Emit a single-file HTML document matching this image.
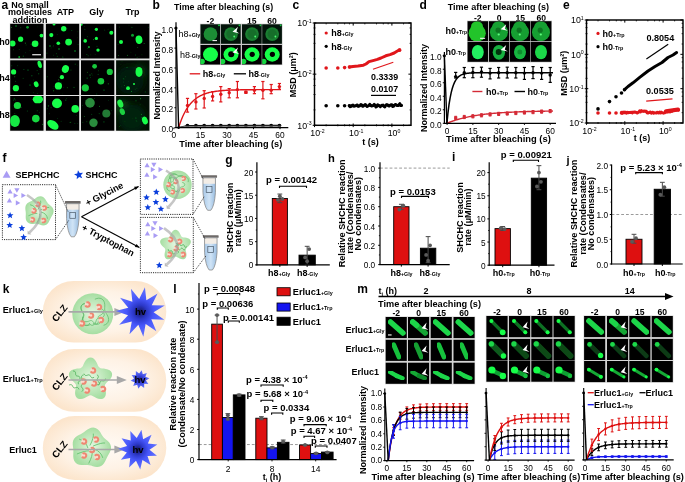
<!DOCTYPE html>
<html><head><meta charset="utf-8"><style>
html,body{margin:0;padding:0;background:#fff;}
body{width:685px;height:482px;overflow:hidden;}
svg{display:block;font-family:"Liberation Sans", sans-serif;will-change:transform;}
</style></head><body>
<svg width="685" height="482" viewBox="0 0 685 482" font-family='"Liberation Sans", sans-serif'>
<defs>
<filter id="blur" x="-20%" y="-20%" width="140%" height="140%"><feGaussianBlur stdDeviation="0.45"/></filter>
<filter id="blur2" x="-50%" y="-50%" width="200%" height="200%"><feGaussianBlur stdDeviation="3"/></filter>
<filter id="blur1" x="-50%" y="-50%" width="200%" height="200%"><feGaussianBlur stdDeviation="1.2"/></filter>
</defs>
<rect width="685" height="482" fill="#fff"/>
<text x="1.50" y="8.80" font-size="12" font-weight="bold" text-anchor="start" fill="#000">a</text>
<text x="30.00" y="8.00" font-size="9" font-weight="bold" text-anchor="middle" fill="#000">No small</text>
<text x="30.00" y="14.80" font-size="9" font-weight="bold" text-anchor="middle" fill="#000">molecules</text>
<text x="30.00" y="22.90" font-size="9" font-weight="bold" text-anchor="middle" fill="#000">addition</text>
<text x="65.30" y="14.80" font-size="9" font-weight="bold" text-anchor="middle" fill="#000">ATP</text>
<text x="96.50" y="14.80" font-size="9" font-weight="bold" text-anchor="middle" fill="#000">Gly</text>
<text x="132.50" y="14.80" font-size="9" font-weight="bold" text-anchor="middle" fill="#000">Trp</text>
<rect x="9.60" y="23.20" width="140.40" height="108.00" fill="#e4e4e4"/>
<clipPath id="c1"><rect x="10.20" y="23.80" width="33.30" height="34.70"/></clipPath>
<rect x="10.20" y="23.80" width="33.30" height="34.70" fill="#000"/>
<g clip-path="url(#c1)">
<g filter="url(#blur)">
<circle cx="25.36" cy="43.10" r="0.58" fill="#0e7a22"/>
<circle cx="25.34" cy="52.76" r="0.40" fill="#0a4a14"/>
<circle cx="26.09" cy="44.88" r="0.40" fill="#0e7a22"/>
<circle cx="20.70" cy="27.76" r="0.55" fill="#0a4a14"/>
<circle cx="31.06" cy="44.27" r="0.45" fill="#0e7a22"/>
<circle cx="31.67" cy="44.93" r="0.39" fill="#0b5a18"/>
<circle cx="37.23" cy="26.87" r="0.36" fill="#0b5a18"/>
<circle cx="29.97" cy="50.24" r="0.43" fill="#0a4a14"/>
<circle cx="37.57" cy="41.78" r="0.51" fill="#0e7a22"/>
<circle cx="11.34" cy="27.58" r="0.51" fill="#0e7a22"/>
<circle cx="42.43" cy="57.36" r="0.56" fill="#0a4a14"/>
<circle cx="19.15" cy="49.59" r="0.48" fill="#0b5a18"/>
<circle cx="13.40" cy="49.86" r="0.45" fill="#0e7a22"/>
<circle cx="23.30" cy="56.13" r="0.56" fill="#0b5a18"/>
<circle cx="12.50" cy="43.40" r="3.00" fill="#19ff4a"/>
<circle cx="20.60" cy="39.20" r="2.60" fill="#19ff4a"/>
<circle cx="35.10" cy="43.70" r="3.30" fill="#19ff4a"/>
<circle cx="41.50" cy="35.60" r="1.90" fill="#19ff4a"/>
<circle cx="27.50" cy="27.30" r="1.40" fill="#0a9a2a"/>
<circle cx="19.20" cy="56.90" r="1.00" fill="#0a9a2a"/>
<circle cx="16.00" cy="26.00" r="0.80" fill="#0a9a2a"/>
</g></g>
<clipPath id="c2"><rect x="45.90" y="23.80" width="33.30" height="34.70"/></clipPath>
<rect x="45.90" y="23.80" width="33.30" height="34.70" fill="#000"/>
<g clip-path="url(#c2)">
<g filter="url(#blur)">
<circle cx="53.58" cy="55.11" r="0.36" fill="#0e7a22"/>
<circle cx="77.59" cy="37.80" r="0.37" fill="#0a4a14"/>
<circle cx="53.11" cy="46.87" r="0.43" fill="#0e7a22"/>
<circle cx="57.31" cy="56.33" r="0.54" fill="#0b5a18"/>
<circle cx="51.11" cy="47.92" r="0.35" fill="#0e7a22"/>
<circle cx="71.85" cy="30.61" r="0.49" fill="#0e7a22"/>
<circle cx="62.83" cy="57.02" r="0.54" fill="#0e7a22"/>
<circle cx="67.05" cy="28.61" r="0.46" fill="#0b5a18"/>
<circle cx="46.91" cy="53.06" r="0.59" fill="#0a4a14"/>
<circle cx="56.42" cy="53.74" r="0.40" fill="#0e7a22"/>
<circle cx="78.07" cy="44.49" r="0.49" fill="#0b5a18"/>
<circle cx="77.87" cy="31.77" r="0.41" fill="#0a4a14"/>
<circle cx="57.20" cy="34.49" r="0.37" fill="#0b5a18"/>
<circle cx="53.43" cy="45.62" r="0.35" fill="#0e7a22"/>
<circle cx="63.70" cy="28.70" r="2.70" fill="#19ff4a"/>
<circle cx="51.30" cy="35.10" r="2.10" fill="#19ff4a"/>
<circle cx="68.60" cy="42.10" r="3.40" fill="#19ff4a"/>
<circle cx="58.30" cy="43.20" r="1.80" fill="#19ff4a"/>
<circle cx="54.00" cy="24.00" r="1.50" fill="#19ff4a"/>
<circle cx="59.00" cy="49.00" r="0.80" fill="#0a9a2a"/>
<circle cx="75.00" cy="51.00" r="0.80" fill="#0a9a2a"/>
<circle cx="50.00" cy="46.00" r="0.80" fill="#0a9a2a"/>
</g></g>
<clipPath id="c3"><rect x="81.00" y="23.80" width="33.30" height="34.70"/></clipPath>
<rect x="81.00" y="23.80" width="33.30" height="34.70" fill="#000"/>
<g clip-path="url(#c3)">
<g filter="url(#blur)">
<circle cx="93.63" cy="39.62" r="0.59" fill="#0e7a22"/>
<circle cx="108.05" cy="29.24" r="0.45" fill="#0a4a14"/>
<circle cx="86.82" cy="54.51" r="0.55" fill="#0b5a18"/>
<circle cx="104.70" cy="29.98" r="0.51" fill="#0a4a14"/>
<circle cx="88.15" cy="55.87" r="0.57" fill="#0a4a14"/>
<circle cx="84.46" cy="26.35" r="0.38" fill="#0a4a14"/>
<circle cx="112.13" cy="32.60" r="0.53" fill="#0e7a22"/>
<circle cx="95.17" cy="54.39" r="0.47" fill="#0a4a14"/>
<circle cx="87.49" cy="48.36" r="0.37" fill="#0b5a18"/>
<circle cx="97.00" cy="46.17" r="0.50" fill="#0b5a18"/>
<circle cx="90.77" cy="54.80" r="0.40" fill="#0b5a18"/>
<circle cx="84.16" cy="38.25" r="0.41" fill="#0b5a18"/>
<circle cx="87.52" cy="36.86" r="0.49" fill="#0b5a18"/>
<circle cx="84.89" cy="29.33" r="0.46" fill="#0e7a22"/>
<circle cx="96.40" cy="29.30" r="1.60" fill="#19ff4a"/>
<circle cx="111.30" cy="32.80" r="2.00" fill="#19ff4a"/>
<circle cx="96.40" cy="38.40" r="1.60" fill="#19ff4a"/>
<circle cx="85.20" cy="40.90" r="1.80" fill="#19ff4a"/>
<circle cx="88.90" cy="47.10" r="1.10" fill="#0a9a2a"/>
<circle cx="98.00" cy="50.10" r="1.70" fill="#19ff4a"/>
<circle cx="81.40" cy="24.60" r="1.20" fill="#19ff4a"/>
</g></g>
<clipPath id="c4"><rect x="116.10" y="23.80" width="33.30" height="34.70"/></clipPath>
<rect x="116.10" y="23.80" width="33.30" height="34.70" fill="#000"/>
<g clip-path="url(#c4)">
<g filter="url(#blur)">
<circle cx="137.66" cy="47.40" r="0.50" fill="#0b5a18"/>
<circle cx="135.56" cy="55.00" r="0.47" fill="#0e7a22"/>
<circle cx="139.04" cy="56.28" r="0.36" fill="#0a4a14"/>
<circle cx="119.44" cy="27.00" r="0.43" fill="#0b5a18"/>
<circle cx="148.38" cy="27.26" r="0.49" fill="#0a4a14"/>
<circle cx="118.49" cy="55.42" r="0.53" fill="#0b5a18"/>
<circle cx="141.93" cy="54.72" r="0.44" fill="#0a4a14"/>
<circle cx="131.91" cy="27.34" r="0.56" fill="#0b5a18"/>
<circle cx="144.13" cy="43.53" r="0.51" fill="#0e7a22"/>
<circle cx="128.97" cy="25.21" r="0.37" fill="#0b5a18"/>
<circle cx="137.11" cy="57.28" r="0.57" fill="#0a4a14"/>
<circle cx="127.43" cy="55.35" r="0.52" fill="#0e7a22"/>
<circle cx="130.89" cy="52.21" r="0.37" fill="#0a4a14"/>
<circle cx="118.03" cy="44.46" r="0.47" fill="#0b5a18"/>
<circle cx="121.00" cy="42.10" r="2.00" fill="#19ff4a"/>
<circle cx="132.50" cy="35.20" r="1.50" fill="#0a9a2a"/>
<ellipse cx="139.00" cy="39.70" rx="3.40" ry="4.30" fill="#19ff4a" transform="rotate(-10 139.00 39.70)"/>
</g></g>
<clipPath id="c5"><rect x="10.20" y="60.30" width="33.30" height="34.70"/></clipPath>
<rect x="10.20" y="60.30" width="33.30" height="34.70" fill="#000"/>
<g clip-path="url(#c5)">
<g filter="url(#blur)">
<circle cx="41.17" cy="64.99" r="0.54" fill="#0a4a14"/>
<circle cx="40.01" cy="69.67" r="0.35" fill="#0e7a22"/>
<circle cx="15.68" cy="81.30" r="0.48" fill="#0e7a22"/>
<circle cx="31.86" cy="75.75" r="0.57" fill="#0e7a22"/>
<circle cx="23.87" cy="69.49" r="0.51" fill="#0b5a18"/>
<circle cx="38.75" cy="73.87" r="0.50" fill="#0e7a22"/>
<circle cx="17.77" cy="65.70" r="0.44" fill="#0b5a18"/>
<circle cx="33.46" cy="92.37" r="0.42" fill="#0b5a18"/>
<circle cx="14.73" cy="76.71" r="0.58" fill="#0e7a22"/>
<circle cx="23.17" cy="78.30" r="0.52" fill="#0a4a14"/>
<circle cx="37.46" cy="93.41" r="0.46" fill="#0b5a18"/>
<circle cx="37.14" cy="70.39" r="0.50" fill="#0a4a14"/>
<circle cx="33.38" cy="79.96" r="0.43" fill="#0a4a14"/>
<circle cx="11.80" cy="65.74" r="0.46" fill="#0b5a18"/>
<circle cx="13.60" cy="71.90" r="2.60" fill="#19ff4a"/>
<ellipse cx="39.70" cy="64.40" rx="2.00" ry="3.80" fill="#19ff4a" transform="rotate(-15 39.70 64.40)"/>
<circle cx="15.90" cy="88.20" r="3.10" fill="#19ff4a"/>
<ellipse cx="36.20" cy="84.30" rx="2.30" ry="3.00" fill="#19ff4a" transform="rotate(-20 36.20 84.30)"/>
<circle cx="28.00" cy="70.00" r="0.60" fill="#0a9a2a"/>
<circle cx="30.00" cy="85.00" r="0.60" fill="#0a9a2a"/>
</g></g>
<clipPath id="c6"><rect x="45.90" y="60.30" width="33.30" height="34.70"/></clipPath>
<rect x="45.90" y="60.30" width="33.30" height="34.70" fill="#000"/>
<g clip-path="url(#c6)">
<g filter="url(#blur)">
<circle cx="70.98" cy="70.01" r="0.54" fill="#0b5a18"/>
<circle cx="77.70" cy="65.07" r="0.38" fill="#0a4a14"/>
<circle cx="67.40" cy="87.70" r="0.59" fill="#0a4a14"/>
<circle cx="53.10" cy="88.24" r="0.41" fill="#0a4a14"/>
<circle cx="47.24" cy="76.74" r="0.53" fill="#0b5a18"/>
<circle cx="53.99" cy="86.76" r="0.48" fill="#0a4a14"/>
<circle cx="62.56" cy="93.90" r="0.39" fill="#0a4a14"/>
<circle cx="75.27" cy="64.15" r="0.58" fill="#0a4a14"/>
<circle cx="59.04" cy="76.03" r="0.40" fill="#0b5a18"/>
<circle cx="58.69" cy="79.90" r="0.57" fill="#0e7a22"/>
<circle cx="61.41" cy="82.60" r="0.40" fill="#0a4a14"/>
<circle cx="74.01" cy="87.40" r="0.58" fill="#0b5a18"/>
<circle cx="53.58" cy="90.73" r="0.60" fill="#0e7a22"/>
<circle cx="63.71" cy="87.16" r="0.43" fill="#0a4a14"/>
<ellipse cx="65.40" cy="69.00" rx="3.50" ry="4.00" fill="#19ff4a" transform="rotate(20 65.40 69.00)"/>
<circle cx="61.90" cy="77.20" r="2.10" fill="#19ff4a"/>
<circle cx="58.40" cy="85.90" r="3.60" fill="#19ff4a"/>
</g></g>
<clipPath id="c7"><rect x="81.00" y="60.30" width="33.30" height="34.70"/></clipPath>
<rect x="81.00" y="60.30" width="33.30" height="34.70" fill="#000"/>
<g clip-path="url(#c7)">
<g filter="url(#blur)">
<circle cx="108.79" cy="72.70" r="0.37" fill="#0e7a22"/>
<circle cx="92.71" cy="75.08" r="0.42" fill="#0b5a18"/>
<circle cx="88.83" cy="89.67" r="0.46" fill="#0b5a18"/>
<circle cx="87.41" cy="72.25" r="0.55" fill="#0b5a18"/>
<circle cx="96.73" cy="93.99" r="0.58" fill="#0a4a14"/>
<circle cx="108.29" cy="83.84" r="0.59" fill="#0e7a22"/>
<circle cx="100.12" cy="83.83" r="0.54" fill="#0e7a22"/>
<circle cx="98.48" cy="70.79" r="0.53" fill="#0a4a14"/>
<circle cx="87.14" cy="78.11" r="0.58" fill="#0e7a22"/>
<circle cx="91.76" cy="73.77" r="0.56" fill="#0a4a14"/>
<circle cx="88.52" cy="89.12" r="0.59" fill="#0a4a14"/>
<circle cx="90.54" cy="77.57" r="0.45" fill="#0b5a18"/>
<circle cx="97.75" cy="81.09" r="0.36" fill="#0b5a18"/>
<circle cx="98.15" cy="74.40" r="0.55" fill="#0a4a14"/>
<circle cx="94.60" cy="66.30" r="2.40" fill="#17c83a"/>
<circle cx="109.80" cy="71.90" r="3.10" fill="#17c83a"/>
<circle cx="100.90" cy="81.20" r="3.30" fill="#17c83a"/>
<circle cx="85.30" cy="87.80" r="3.60" fill="#17c83a"/>
<circle cx="90.00" cy="75.00" r="0.60" fill="#0a9a2a"/>
<circle cx="104.00" cy="90.00" r="0.60" fill="#0a9a2a"/>
</g></g>
<clipPath id="c8"><rect x="116.10" y="60.30" width="33.30" height="34.70"/></clipPath>
<rect x="116.10" y="60.30" width="33.30" height="34.70" fill="#020e04"/>
<g clip-path="url(#c8)">
<ellipse cx="139.00" cy="72.00" rx="7.00" ry="7.00" fill="#0a3a12" filter="url(#blur2)"/>
<ellipse cx="130.00" cy="80.00" rx="14.00" ry="14.00" fill="#041e09" filter="url(#blur2)"/>
<g filter="url(#blur)">
<circle cx="120.92" cy="64.35" r="0.39" fill="#0a4a14"/>
<circle cx="131.46" cy="91.41" r="0.55" fill="#0e7a22"/>
<circle cx="125.53" cy="76.77" r="0.38" fill="#0e7a22"/>
<circle cx="145.30" cy="91.90" r="0.58" fill="#0a4a14"/>
<circle cx="127.03" cy="67.56" r="0.50" fill="#0e7a22"/>
<circle cx="121.15" cy="86.78" r="0.36" fill="#0b5a18"/>
<circle cx="121.97" cy="61.69" r="0.42" fill="#0a4a14"/>
<circle cx="128.22" cy="81.57" r="0.38" fill="#0a4a14"/>
<circle cx="135.32" cy="89.16" r="0.51" fill="#0a4a14"/>
<circle cx="123.29" cy="78.64" r="0.46" fill="#0e7a22"/>
<circle cx="136.91" cy="88.28" r="0.50" fill="#0a4a14"/>
<circle cx="123.49" cy="81.94" r="0.51" fill="#0a4a14"/>
<circle cx="123.87" cy="79.05" r="0.50" fill="#0b5a18"/>
<circle cx="124.38" cy="85.52" r="0.55" fill="#0b5a18"/>
<ellipse cx="139.00" cy="71.90" rx="3.50" ry="5.00" fill="#19ff4a" transform="rotate(0 139.00 71.90)"/>
<circle cx="128.00" cy="88.20" r="1.90" fill="#19ff4a"/>
<circle cx="134.00" cy="84.00" r="1.00" fill="#19ff4a"/>
</g></g>
<clipPath id="c9"><rect x="10.20" y="96.00" width="33.30" height="34.70"/></clipPath>
<rect x="10.20" y="96.00" width="33.30" height="34.70" fill="#000"/>
<g clip-path="url(#c9)">
<g filter="url(#blur)">
<circle cx="21.09" cy="107.30" r="0.58" fill="#0b5a18"/>
<circle cx="35.56" cy="103.36" r="0.37" fill="#0b5a18"/>
<circle cx="15.35" cy="99.88" r="0.45" fill="#0e7a22"/>
<circle cx="37.25" cy="110.79" r="0.55" fill="#0b5a18"/>
<circle cx="17.48" cy="117.54" r="0.55" fill="#0b5a18"/>
<circle cx="17.49" cy="119.31" r="0.58" fill="#0e7a22"/>
<circle cx="14.81" cy="113.54" r="0.54" fill="#0a4a14"/>
<circle cx="42.46" cy="124.24" r="0.55" fill="#0e7a22"/>
<circle cx="14.52" cy="98.22" r="0.49" fill="#0a4a14"/>
<circle cx="39.53" cy="112.74" r="0.40" fill="#0b5a18"/>
<circle cx="17.58" cy="124.48" r="0.60" fill="#0a4a14"/>
<circle cx="14.18" cy="99.03" r="0.59" fill="#0e7a22"/>
<circle cx="13.63" cy="100.16" r="0.45" fill="#0e7a22"/>
<circle cx="27.33" cy="111.06" r="0.50" fill="#0b5a18"/>
<circle cx="17.40" cy="105.50" r="3.60" fill="#18d840"/>
<ellipse cx="37.90" cy="99.30" rx="5.20" ry="4.00" fill="#19ff4a" transform="rotate(0 37.90 99.30)"/>
<ellipse cx="14.90" cy="121.10" rx="5.00" ry="6.00" fill="#18e844" transform="rotate(0 14.90 121.10)"/>
<circle cx="35.80" cy="118.60" r="3.80" fill="#18d840"/>
</g></g>
<clipPath id="c10"><rect x="45.90" y="96.00" width="33.30" height="34.70"/></clipPath>
<rect x="45.90" y="96.00" width="33.30" height="34.70" fill="#000"/>
<g clip-path="url(#c10)">
<g filter="url(#blur)">
<circle cx="66.74" cy="98.34" r="0.40" fill="#0e7a22"/>
<circle cx="61.11" cy="121.18" r="0.45" fill="#0b5a18"/>
<circle cx="65.83" cy="100.10" r="0.55" fill="#0e7a22"/>
<circle cx="74.86" cy="123.22" r="0.53" fill="#0a4a14"/>
<circle cx="76.31" cy="115.63" r="0.40" fill="#0a4a14"/>
<circle cx="77.66" cy="123.32" r="0.41" fill="#0b5a18"/>
<circle cx="70.20" cy="122.44" r="0.55" fill="#0e7a22"/>
<circle cx="51.07" cy="107.79" r="0.48" fill="#0e7a22"/>
<circle cx="70.92" cy="122.02" r="0.45" fill="#0a4a14"/>
<circle cx="52.68" cy="123.07" r="0.43" fill="#0b5a18"/>
<circle cx="47.23" cy="108.63" r="0.51" fill="#0a4a14"/>
<circle cx="48.45" cy="105.93" r="0.59" fill="#0e7a22"/>
<circle cx="57.47" cy="118.57" r="0.49" fill="#0a4a14"/>
<circle cx="49.30" cy="113.83" r="0.47" fill="#0b5a18"/>
<ellipse cx="57.00" cy="103.40" rx="5.00" ry="4.80" fill="#19ff4a" transform="rotate(0 57.00 103.40)"/>
<circle cx="75.20" cy="108.90" r="3.80" fill="#19ff4a"/>
<ellipse cx="52.90" cy="124.80" rx="6.30" ry="4.00" fill="#19ff4a" transform="rotate(35 52.90 124.80)"/>
</g></g>
<clipPath id="c11"><rect x="81.00" y="96.00" width="33.30" height="34.70"/></clipPath>
<rect x="81.00" y="96.00" width="33.30" height="34.70" fill="#000"/>
<g clip-path="url(#c11)">
<g filter="url(#blur)">
<circle cx="103.95" cy="121.91" r="0.60" fill="#0b5a18"/>
<circle cx="85.59" cy="100.53" r="0.41" fill="#0e7a22"/>
<circle cx="94.57" cy="98.65" r="0.40" fill="#0e7a22"/>
<circle cx="82.34" cy="105.45" r="0.42" fill="#0e7a22"/>
<circle cx="99.22" cy="113.61" r="0.59" fill="#0a4a14"/>
<circle cx="108.49" cy="100.26" r="0.46" fill="#0a4a14"/>
<circle cx="84.38" cy="116.54" r="0.54" fill="#0b5a18"/>
<circle cx="94.10" cy="127.69" r="0.45" fill="#0b5a18"/>
<circle cx="108.78" cy="114.72" r="0.50" fill="#0e7a22"/>
<circle cx="111.59" cy="110.76" r="0.48" fill="#0a4a14"/>
<circle cx="91.78" cy="114.34" r="0.47" fill="#0e7a22"/>
<circle cx="99.55" cy="106.27" r="0.53" fill="#0e7a22"/>
<circle cx="82.84" cy="122.26" r="0.50" fill="#0a4a14"/>
<circle cx="86.90" cy="121.68" r="0.45" fill="#0e7a22"/>
<circle cx="90.00" cy="102.90" r="4.80" fill="#2a8c3c"/>
<circle cx="106.30" cy="113.50" r="4.00" fill="#247a34"/>
<circle cx="93.50" cy="122.80" r="4.20" fill="#2a8c3c"/>
</g></g>
<clipPath id="c12"><rect x="116.10" y="96.00" width="33.30" height="34.70"/></clipPath>
<rect x="116.10" y="96.00" width="33.30" height="34.70" fill="#020e04"/>
<g clip-path="url(#c12)">
<ellipse cx="122.00" cy="108.00" rx="8.00" ry="8.00" fill="#0b4216" filter="url(#blur2)"/>
<ellipse cx="132.00" cy="118.00" rx="14.00" ry="14.00" fill="#052209" filter="url(#blur2)"/>
<g filter="url(#blur)">
<circle cx="140.52" cy="98.64" r="0.60" fill="#0e7a22"/>
<circle cx="119.40" cy="126.61" r="0.46" fill="#0e7a22"/>
<circle cx="124.95" cy="121.70" r="0.36" fill="#0b5a18"/>
<circle cx="146.44" cy="120.63" r="0.47" fill="#0b5a18"/>
<circle cx="135.99" cy="100.76" r="0.51" fill="#0e7a22"/>
<circle cx="120.79" cy="125.16" r="0.44" fill="#0b5a18"/>
<circle cx="120.99" cy="111.48" r="0.52" fill="#0e7a22"/>
<circle cx="135.91" cy="117.91" r="0.52" fill="#0e7a22"/>
<circle cx="141.45" cy="114.36" r="0.60" fill="#0e7a22"/>
<circle cx="140.08" cy="104.80" r="0.38" fill="#0e7a22"/>
<circle cx="141.65" cy="117.44" r="0.44" fill="#0e7a22"/>
<circle cx="136.19" cy="120.71" r="0.52" fill="#0b5a18"/>
<circle cx="136.92" cy="121.63" r="0.40" fill="#0b5a18"/>
<circle cx="132.82" cy="118.35" r="0.40" fill="#0a4a14"/>
<ellipse cx="120.30" cy="103.60" rx="2.80" ry="4.20" fill="#20f048" transform="rotate(-20 120.30 103.60)"/>
<ellipse cx="122.30" cy="111.60" rx="2.50" ry="3.50" fill="#1bd040" transform="rotate(-20 122.30 111.60)"/>
<ellipse cx="144.90" cy="120.50" rx="2.80" ry="4.00" fill="#19ff4a" transform="rotate(-20 144.90 120.50)"/>
</g></g>
<rect x="32.20" y="54.20" width="8.80" height="1.10" fill="#fff"/>
<text x="-0.80" y="44.60" font-size="9" font-weight="bold" text-anchor="start" fill="#000" font-weight="bold">h0</text>
<text x="-0.80" y="80.80" font-size="9" font-weight="bold" text-anchor="start" fill="#000">h4</text>
<text x="-0.80" y="117.60" font-size="9" font-weight="bold" text-anchor="start" fill="#000">h8</text>
<text x="152.50" y="8.70" font-size="12" font-weight="bold" text-anchor="start" fill="#000">b</text>
<text x="174.00" y="10.40" font-size="8.85" font-weight="bold" text-anchor="start" fill="#000">Time after bleaching (s)</text>
<text x="210.35" y="23.60" font-size="8.6" font-weight="bold" text-anchor="middle" fill="#000">-2</text>
<text x="230.85" y="23.60" font-size="8.6" font-weight="bold" text-anchor="middle" fill="#000">0</text>
<text x="251.85" y="23.60" font-size="8.6" font-weight="bold" text-anchor="middle" fill="#000">15</text>
<text x="272.05" y="23.60" font-size="8.6" font-weight="bold" text-anchor="middle" fill="#000">60</text>
<rect x="199.90" y="23.70" width="82.60" height="41.40" fill="#c8c8c8"/>
<clipPath id="c13"><rect x="200.50" y="24.30" width="19.70" height="19.50"/></clipPath>
<rect x="200.50" y="24.30" width="19.70" height="19.50" fill="#03140a"/>
<g clip-path="url(#c13)">
<g filter="url(#blur)">
<circle cx="210.50" cy="34.10" r="6.90" fill="#1f8e36"/>
<circle cx="219.00" cy="25.30" r="1.00" fill="#19c040"/>
</g></g>
<clipPath id="c14"><rect x="221.00" y="24.30" width="19.70" height="19.50"/></clipPath>
<rect x="221.00" y="24.30" width="19.70" height="19.50" fill="#03140a"/>
<g clip-path="url(#c14)">
<g filter="url(#blur)">
<circle cx="231.00" cy="34.10" r="6.90" fill="#1a7e30"/>
<circle cx="239.50" cy="25.30" r="1.00" fill="#19c040"/>
<circle cx="231.00" cy="34.10" r="4.60" fill="#176e2a"/>
<circle cx="234.20" cy="36.50" r="0.90" fill="#4dff70"/>
</g></g>
<clipPath id="c15"><rect x="242.00" y="24.30" width="19.70" height="19.50"/></clipPath>
<rect x="242.00" y="24.30" width="19.70" height="19.50" fill="#03140a"/>
<g clip-path="url(#c15)">
<g filter="url(#blur)">
<circle cx="252.00" cy="34.10" r="6.90" fill="#1a7e30"/>
<circle cx="260.50" cy="25.30" r="1.00" fill="#19c040"/>
<circle cx="252.00" cy="34.10" r="4.60" fill="#176e2a"/>
<circle cx="255.20" cy="36.50" r="0.90" fill="#4dff70"/>
</g></g>
<clipPath id="c16"><rect x="262.20" y="24.30" width="19.70" height="19.50"/></clipPath>
<rect x="262.20" y="24.30" width="19.70" height="19.50" fill="#03140a"/>
<g clip-path="url(#c16)">
<g filter="url(#blur)">
<circle cx="272.20" cy="34.10" r="6.90" fill="#1a7e30"/>
<circle cx="280.70" cy="25.30" r="1.00" fill="#19c040"/>
<circle cx="272.20" cy="34.10" r="4.60" fill="#176e2a"/>
<circle cx="275.40" cy="36.50" r="0.90" fill="#4dff70"/>
</g></g>
<clipPath id="c17"><rect x="200.50" y="45.00" width="19.70" height="19.50"/></clipPath>
<rect x="200.50" y="45.00" width="19.70" height="19.50" fill="#000"/>
<g clip-path="url(#c17)">
<g filter="url(#blur)">
<ellipse cx="210.50" cy="54.50" rx="7.50" ry="7.20" fill="#19ff4a" transform="rotate(0 210.50 54.50)"/>
<circle cx="202.00" cy="61.50" r="2.80" fill="#17d63f"/>
</g></g>
<clipPath id="c18"><rect x="221.00" y="45.00" width="19.70" height="19.50"/></clipPath>
<rect x="221.00" y="45.00" width="19.70" height="19.50" fill="#000"/>
<g clip-path="url(#c18)">
<g filter="url(#blur)">
<ellipse cx="231.00" cy="54.50" rx="7.50" ry="7.20" fill="#19ff4a" transform="rotate(0 231.00 54.50)"/>
<circle cx="222.50" cy="61.50" r="2.80" fill="#17d63f"/>
<circle cx="231.20" cy="54.30" r="3.00" fill="#000"/>
</g></g>
<clipPath id="c19"><rect x="242.00" y="45.00" width="19.70" height="19.50"/></clipPath>
<rect x="242.00" y="45.00" width="19.70" height="19.50" fill="#000"/>
<g clip-path="url(#c19)">
<g filter="url(#blur)">
<ellipse cx="252.00" cy="54.50" rx="7.50" ry="7.20" fill="#19ff4a" transform="rotate(0 252.00 54.50)"/>
<circle cx="243.50" cy="61.50" r="2.80" fill="#17d63f"/>
<circle cx="252.20" cy="54.30" r="2.60" fill="#000"/>
</g></g>
<clipPath id="c20"><rect x="262.20" y="45.00" width="19.70" height="19.50"/></clipPath>
<rect x="262.20" y="45.00" width="19.70" height="19.50" fill="#000"/>
<g clip-path="url(#c20)">
<g filter="url(#blur)">
<ellipse cx="272.20" cy="54.50" rx="7.50" ry="7.20" fill="#19ff4a" transform="rotate(0 272.20 54.50)"/>
<circle cx="263.70" cy="61.50" r="2.80" fill="#17d63f"/>
<circle cx="272.40" cy="54.30" r="2.60" fill="#000"/>
</g></g>
<path d="M232.5,31.8 l5.5,-5.0 l-1.6,4.6 l3.0,2.0 z" fill="#fff" stroke="none" stroke-width="1"/>
<path d="M232.5,52.5 l5.5,-5.0 l-1.6,4.6 l3.0,2.0 z" fill="#fff" stroke="none" stroke-width="1"/>
<rect x="212.50" y="40.10" width="4.50" height="1.00" fill="#fff"/>
<text x="178.50" y="37.30" font-size="9" font-weight="bold" text-anchor="start" fill="#000"><tspan font-weight="normal">h8</tspan><tspan font-size="5.4" font-weight="bold">+Gly</tspan></text>
<text x="180.00" y="58.30" font-size="9" font-weight="bold" text-anchor="start" fill="#000"><tspan font-weight="normal">h8</tspan><tspan font-size="5.4" font-weight="bold">-Gly</tspan></text>
<path d="M178.60,127.60 L179.90,123.71 L181.19,120.22 L182.49,117.08 L183.78,114.27 L185.08,111.74 L186.38,109.48 L187.67,107.44 L188.97,105.61 L190.27,103.97 L191.56,102.50 L192.86,101.18 L194.15,100.00 L195.45,98.93 L196.75,97.98 L198.04,97.12 L199.34,96.35 L200.64,95.66 L201.93,95.04 L203.23,94.48 L204.52,93.98 L205.82,93.53 L207.12,93.13 L208.41,92.77 L209.71,92.44 L211.01,92.15 L212.30,91.89 L213.60,91.66 L214.89,91.45 L216.19,91.26 L217.49,91.09 L218.78,90.94 L220.08,90.80 L221.37,90.68 L222.67,90.57 L223.97,90.47 L225.26,90.38 L226.56,90.30 L227.86,90.23 L229.15,90.16 L230.45,90.11 L231.74,90.05 L233.04,90.01 L234.34,89.97 L235.63,89.93 L236.93,89.89 L238.23,89.86 L239.52,89.84 L240.82,89.81 L242.11,89.79 L243.41,89.77 L244.71,89.75 L246.00,89.74 L247.30,89.72 L248.59,89.71 L249.89,89.70 L251.19,89.69 L252.48,89.68 L253.78,89.67 L255.08,89.66 L256.37,89.66 L257.67,89.65 L258.96,89.65 L260.26,89.64 L261.56,89.64 L262.85,89.63 L264.15,89.63 L265.45,89.63 L266.74,89.62 L268.04,89.62 L269.33,89.62 L270.63,89.62 L271.93,89.62 L273.22,89.61 L274.52,89.61 L275.82,89.61 L277.11,89.61 L278.41,89.61 L279.70,89.61 L281.00,89.61" fill="none" stroke="#e0161b" stroke-width="1.4"/>
<line x1="187.50" y1="98.40" x2="187.50" y2="112.10" stroke="#e0161b" stroke-width="1.2"/>
<line x1="185.90" y1="98.40" x2="189.10" y2="98.40" stroke="#e0161b" stroke-width="1.2"/>
<line x1="185.90" y1="112.10" x2="189.10" y2="112.10" stroke="#e0161b" stroke-width="1.2"/>
<circle cx="187.50" cy="105.40" r="1.70" fill="#e0161b"/>
<line x1="195.90" y1="93.70" x2="195.90" y2="109.00" stroke="#e0161b" stroke-width="1.2"/>
<line x1="194.30" y1="93.70" x2="197.50" y2="93.70" stroke="#e0161b" stroke-width="1.2"/>
<line x1="194.30" y1="109.00" x2="197.50" y2="109.00" stroke="#e0161b" stroke-width="1.2"/>
<circle cx="195.90" cy="101.90" r="1.70" fill="#e0161b"/>
<line x1="204.20" y1="90.70" x2="204.20" y2="108.00" stroke="#e0161b" stroke-width="1.2"/>
<line x1="202.60" y1="90.70" x2="205.80" y2="90.70" stroke="#e0161b" stroke-width="1.2"/>
<line x1="202.60" y1="108.00" x2="205.80" y2="108.00" stroke="#e0161b" stroke-width="1.2"/>
<circle cx="204.20" cy="98.40" r="1.70" fill="#e0161b"/>
<line x1="212.60" y1="91.70" x2="212.60" y2="100.90" stroke="#e0161b" stroke-width="1.2"/>
<line x1="211.00" y1="91.70" x2="214.20" y2="91.70" stroke="#e0161b" stroke-width="1.2"/>
<line x1="211.00" y1="100.90" x2="214.20" y2="100.90" stroke="#e0161b" stroke-width="1.2"/>
<circle cx="212.60" cy="96.40" r="1.70" fill="#e0161b"/>
<line x1="220.80" y1="86.60" x2="220.80" y2="101.90" stroke="#e0161b" stroke-width="1.2"/>
<line x1="219.20" y1="86.60" x2="222.40" y2="86.60" stroke="#e0161b" stroke-width="1.2"/>
<line x1="219.20" y1="101.90" x2="222.40" y2="101.90" stroke="#e0161b" stroke-width="1.2"/>
<circle cx="220.80" cy="94.30" r="1.70" fill="#e0161b"/>
<line x1="229.20" y1="88.60" x2="229.20" y2="97.80" stroke="#e0161b" stroke-width="1.2"/>
<line x1="227.60" y1="88.60" x2="230.80" y2="88.60" stroke="#e0161b" stroke-width="1.2"/>
<line x1="227.60" y1="97.80" x2="230.80" y2="97.80" stroke="#e0161b" stroke-width="1.2"/>
<circle cx="229.20" cy="92.70" r="1.70" fill="#e0161b"/>
<line x1="237.40" y1="81.50" x2="237.40" y2="97.80" stroke="#e0161b" stroke-width="1.2"/>
<line x1="235.80" y1="81.50" x2="239.00" y2="81.50" stroke="#e0161b" stroke-width="1.2"/>
<line x1="235.80" y1="97.80" x2="239.00" y2="97.80" stroke="#e0161b" stroke-width="1.2"/>
<circle cx="237.40" cy="89.60" r="1.70" fill="#e0161b"/>
<line x1="245.90" y1="91.30" x2="245.90" y2="93.30" stroke="#e0161b" stroke-width="1.2"/>
<line x1="244.30" y1="91.30" x2="247.50" y2="91.30" stroke="#e0161b" stroke-width="1.2"/>
<line x1="244.30" y1="93.30" x2="247.50" y2="93.30" stroke="#e0161b" stroke-width="1.2"/>
<circle cx="245.90" cy="92.30" r="1.70" fill="#e0161b"/>
<line x1="254.40" y1="86.60" x2="254.40" y2="93.70" stroke="#e0161b" stroke-width="1.2"/>
<line x1="252.80" y1="86.60" x2="256.00" y2="86.60" stroke="#e0161b" stroke-width="1.2"/>
<line x1="252.80" y1="93.70" x2="256.00" y2="93.70" stroke="#e0161b" stroke-width="1.2"/>
<circle cx="254.40" cy="90.20" r="1.70" fill="#e0161b"/>
<line x1="262.90" y1="81.50" x2="262.90" y2="98.80" stroke="#e0161b" stroke-width="1.2"/>
<line x1="261.30" y1="81.50" x2="264.50" y2="81.50" stroke="#e0161b" stroke-width="1.2"/>
<line x1="261.30" y1="98.80" x2="264.50" y2="98.80" stroke="#e0161b" stroke-width="1.2"/>
<circle cx="262.90" cy="90.20" r="1.70" fill="#e0161b"/>
<line x1="271.20" y1="84.50" x2="271.20" y2="93.70" stroke="#e0161b" stroke-width="1.2"/>
<line x1="269.60" y1="84.50" x2="272.80" y2="84.50" stroke="#e0161b" stroke-width="1.2"/>
<line x1="269.60" y1="93.70" x2="272.80" y2="93.70" stroke="#e0161b" stroke-width="1.2"/>
<circle cx="271.20" cy="90.20" r="1.70" fill="#e0161b"/>
<line x1="279.40" y1="83.50" x2="279.40" y2="89.20" stroke="#e0161b" stroke-width="1.2"/>
<line x1="277.80" y1="83.50" x2="281.00" y2="83.50" stroke="#e0161b" stroke-width="1.2"/>
<line x1="277.80" y1="89.20" x2="281.00" y2="89.20" stroke="#e0161b" stroke-width="1.2"/>
<circle cx="279.40" cy="86.60" r="1.70" fill="#e0161b"/>
<path d="M176.00,27.90 L178.60,127.60 L187.50,125.70 L281.00,125.50" fill="none" stroke="#000" stroke-width="1.4"/>
<circle cx="187.50" cy="125.60" r="1.90" fill="#000"/>
<circle cx="195.90" cy="125.60" r="1.90" fill="#000"/>
<circle cx="204.20" cy="125.60" r="1.90" fill="#000"/>
<circle cx="212.60" cy="125.60" r="1.90" fill="#000"/>
<circle cx="220.80" cy="125.60" r="1.90" fill="#000"/>
<circle cx="229.20" cy="125.60" r="1.90" fill="#000"/>
<circle cx="237.40" cy="125.60" r="1.90" fill="#000"/>
<circle cx="245.90" cy="125.60" r="1.90" fill="#000"/>
<circle cx="254.40" cy="125.60" r="1.90" fill="#000"/>
<circle cx="262.90" cy="125.60" r="1.90" fill="#000"/>
<circle cx="271.20" cy="125.60" r="1.90" fill="#000"/>
<circle cx="279.40" cy="125.60" r="1.90" fill="#000"/>
<path d="M178.60,127.60 L186.00,126.30 L281.00,126.20" fill="none" stroke="#777" stroke-width="1.0"/>
<circle cx="176.00" cy="27.90" r="1.50" fill="#000"/>
<circle cx="178.60" cy="127.60" r="1.30" fill="#000"/>
<line x1="176.00" y1="22.30" x2="176.00" y2="128.10" stroke="#000" stroke-width="1.2"/>
<line x1="175.50" y1="127.60" x2="288.30" y2="127.60" stroke="#000" stroke-width="1.2"/>
<line x1="174.40" y1="127.60" x2="176.00" y2="127.60" stroke="#000" stroke-width="1.0"/>
<text x="0" y="0" font-size="9.3" font-weight="normal" text-anchor="end" fill="#000" transform="translate(173.20 132.30) scale(0.9 1)">0.0</text>
<line x1="174.40" y1="107.72" x2="176.00" y2="107.72" stroke="#000" stroke-width="1.0"/>
<text x="0" y="0" font-size="9.3" font-weight="normal" text-anchor="end" fill="#000" transform="translate(173.20 112.42) scale(0.9 1)">0.2</text>
<line x1="174.40" y1="87.84" x2="176.00" y2="87.84" stroke="#000" stroke-width="1.0"/>
<text x="0" y="0" font-size="9.3" font-weight="normal" text-anchor="end" fill="#000" transform="translate(173.20 92.54) scale(0.9 1)">0.4</text>
<line x1="174.40" y1="67.96" x2="176.00" y2="67.96" stroke="#000" stroke-width="1.0"/>
<text x="0" y="0" font-size="9.3" font-weight="normal" text-anchor="end" fill="#000" transform="translate(173.20 72.66) scale(0.9 1)">0.6</text>
<line x1="174.40" y1="48.08" x2="176.00" y2="48.08" stroke="#000" stroke-width="1.0"/>
<text x="0" y="0" font-size="9.3" font-weight="normal" text-anchor="end" fill="#000" transform="translate(173.20 52.78) scale(0.9 1)">0.8</text>
<line x1="174.40" y1="28.20" x2="176.00" y2="28.20" stroke="#000" stroke-width="1.0"/>
<text x="0" y="0" font-size="9.3" font-weight="normal" text-anchor="end" fill="#000" transform="translate(173.20 32.90) scale(0.9 1)">1.0</text>
<line x1="173.90" y1="127.60" x2="173.90" y2="129.20" stroke="#000" stroke-width="1.0"/>
<text x="0" y="0" font-size="9.3" font-weight="normal" text-anchor="middle" fill="#000" transform="translate(173.90 138.10) scale(0.9 1)">0</text>
<line x1="200.43" y1="127.60" x2="200.43" y2="129.20" stroke="#000" stroke-width="1.0"/>
<text x="0" y="0" font-size="9.3" font-weight="normal" text-anchor="middle" fill="#000" transform="translate(200.43 138.10) scale(0.9 1)">15</text>
<line x1="226.95" y1="127.60" x2="226.95" y2="129.20" stroke="#000" stroke-width="1.0"/>
<text x="0" y="0" font-size="9.3" font-weight="normal" text-anchor="middle" fill="#000" transform="translate(226.95 138.10) scale(0.9 1)">30</text>
<line x1="253.48" y1="127.60" x2="253.48" y2="129.20" stroke="#000" stroke-width="1.0"/>
<text x="0" y="0" font-size="9.3" font-weight="normal" text-anchor="middle" fill="#000" transform="translate(253.48 138.10) scale(0.9 1)">45</text>
<line x1="280.00" y1="127.60" x2="280.00" y2="129.20" stroke="#000" stroke-width="1.0"/>
<text x="0" y="0" font-size="9.3" font-weight="normal" text-anchor="middle" fill="#000" transform="translate(280.00 138.10) scale(0.9 1)">60</text>
<text x="230.80" y="147.30" font-size="9.2" font-weight="bold" text-anchor="middle" fill="#000">Time after bleaching (s)</text>
<text x="159.80" y="75.40" font-size="9.0" font-weight="bold" text-anchor="middle" fill="#000" transform="rotate(-90 159.8 75.4)">Normalized Intensity</text>
<line x1="189.70" y1="73.80" x2="200.20" y2="73.80" stroke="#e0161b" stroke-width="1.3"/>
<text x="202.80" y="76.70" font-size="9" font-weight="bold" text-anchor="start" fill="#000"><tspan font-weight="bold">h8</tspan><tspan font-size="5.4" font-weight="bold">+Gly</tspan></text>
<line x1="233.80" y1="73.80" x2="246.00" y2="73.80" stroke="#000" stroke-width="1.3"/>
<text x="248.50" y="76.70" font-size="9" font-weight="bold" text-anchor="start" fill="#000"><tspan font-weight="bold">h8</tspan><tspan font-size="5.4" font-weight="bold">-Gly</tspan></text>
<text x="292.60" y="9.00" font-size="12" font-weight="bold" text-anchor="start" fill="#000">c</text>
<circle cx="326.15" cy="68.00" r="1.80" fill="#e0161b"/>
<circle cx="337.80" cy="68.00" r="1.80" fill="#e0161b"/>
<circle cx="344.61" cy="67.60" r="1.80" fill="#e0161b"/>
<circle cx="349.45" cy="67.00" r="1.80" fill="#e0161b"/>
<path d="M349.40,67.00 L353.00,66.40 L358.00,66.00 L363.40,65.20 L366.00,64.00 L369.00,61.60 L373.00,60.60 L377.40,59.40 L381.00,58.00 L385.80,55.80 L390.00,54.60 L394.20,53.00 L397.00,51.30 L399.80,49.80" fill="none" stroke="#e0161b" stroke-width="3.0" stroke-linejoin="round" stroke-linecap="round"/>
<circle cx="399.40" cy="50.20" r="1.90" fill="#e0161b"/>
<circle cx="326.15" cy="105.70" r="1.80" fill="#000"/>
<circle cx="337.80" cy="105.70" r="1.80" fill="#000"/>
<circle cx="344.61" cy="105.70" r="1.80" fill="#000"/>
<circle cx="349.45" cy="105.70" r="1.80" fill="#000"/>
<path d="M349.40,105.72 L350.28,106.71 L351.17,106.36 L352.05,105.42 L352.94,105.04 L353.82,106.22 L354.71,106.03 L355.59,105.85 L356.48,105.30 L357.36,105.06 L358.25,106.38 L359.13,106.10 L360.02,105.67 L360.90,104.51 L361.79,105.10 L362.67,106.22 L363.56,105.95 L364.44,105.22 L365.33,104.49 L366.21,105.64 L367.09,106.55 L367.98,106.00 L368.86,105.61 L369.75,104.34 L370.63,105.52 L371.52,106.02 L372.40,105.72 L373.29,105.51 L374.17,104.44 L375.06,105.32 L375.94,106.95 L376.83,106.44 L377.71,104.77 L378.60,105.27 L379.48,105.83 L380.37,106.68 L381.25,105.59 L382.14,105.30 L383.02,105.11 L383.91,106.45 L384.79,106.88 L385.67,105.49 L386.56,104.62 L387.44,104.72 L388.33,105.79 L389.21,106.00 L390.10,105.30 L390.98,104.81 L391.87,104.73 L392.75,106.46 L393.64,106.18 L394.52,105.12 L395.41,104.42 L396.29,104.79 L397.18,105.61 L398.06,105.60 L398.95,104.74 L399.83,103.69 L400.72,105.48 L401.60,105.39" fill="none" stroke="#000" stroke-width="3.0" stroke-linejoin="round" stroke-linecap="round"/>
<line x1="373.00" y1="69.30" x2="393.30" y2="62.20" stroke="#e0161b" stroke-width="1.2"/>
<text x="371.00" y="79.60" font-size="8.9" font-weight="bold" text-anchor="start" fill="#000">0.3339</text>
<text x="371.00" y="91.60" font-size="8.9" font-weight="bold" text-anchor="start" fill="#000">0.0107</text>
<line x1="371.00" y1="95.40" x2="396.00" y2="95.40" stroke="#000" stroke-width="1.2"/>
<rect x="314.5" y="23.0" width="96.5" height="102.3" fill="none" stroke="#000" stroke-width="1.45"/>
<line x1="312.70" y1="23.00" x2="314.50" y2="23.00" stroke="#000" stroke-width="1.0"/>
<text x="0" y="0" font-size="9.8" text-anchor="end" transform="translate(311.70 26.20) scale(0.9 1)">10<tspan font-size="5.8" dy="-3.3">-1</tspan></text>
<line x1="408.40" y1="23.00" x2="411.00" y2="23.00" stroke="#000" stroke-width="1.0"/>
<line x1="314.50" y1="23.00" x2="316.30" y2="23.00" stroke="#000" stroke-width="1.0"/>
<line x1="312.70" y1="74.15" x2="314.50" y2="74.15" stroke="#000" stroke-width="1.0"/>
<text x="0" y="0" font-size="9.8" text-anchor="end" transform="translate(311.70 77.35) scale(0.9 1)">10<tspan font-size="5.8" dy="-3.3">-2</tspan></text>
<line x1="408.40" y1="74.15" x2="411.00" y2="74.15" stroke="#000" stroke-width="1.0"/>
<line x1="314.50" y1="74.15" x2="316.30" y2="74.15" stroke="#000" stroke-width="1.0"/>
<line x1="312.70" y1="125.30" x2="314.50" y2="125.30" stroke="#000" stroke-width="1.0"/>
<text x="0" y="0" font-size="9.8" text-anchor="end" transform="translate(311.70 128.50) scale(0.9 1)">10<tspan font-size="5.8" dy="-3.3">-3</tspan></text>
<line x1="408.40" y1="125.30" x2="411.00" y2="125.30" stroke="#000" stroke-width="1.0"/>
<line x1="314.50" y1="125.30" x2="316.30" y2="125.30" stroke="#000" stroke-width="1.0"/>
<line x1="313.50" y1="58.75" x2="315.50" y2="58.75" stroke="#000" stroke-width="0.8"/>
<line x1="409.60" y1="58.75" x2="411.00" y2="58.75" stroke="#000" stroke-width="0.8"/>
<line x1="313.50" y1="43.35" x2="315.50" y2="43.35" stroke="#000" stroke-width="0.8"/>
<line x1="409.60" y1="43.35" x2="411.00" y2="43.35" stroke="#000" stroke-width="0.8"/>
<line x1="313.50" y1="34.35" x2="315.50" y2="34.35" stroke="#000" stroke-width="0.8"/>
<line x1="409.60" y1="34.35" x2="411.00" y2="34.35" stroke="#000" stroke-width="0.8"/>
<line x1="313.50" y1="27.96" x2="315.50" y2="27.96" stroke="#000" stroke-width="0.8"/>
<line x1="409.60" y1="27.96" x2="411.00" y2="27.96" stroke="#000" stroke-width="0.8"/>
<line x1="313.50" y1="109.90" x2="315.50" y2="109.90" stroke="#000" stroke-width="0.8"/>
<line x1="409.60" y1="109.90" x2="411.00" y2="109.90" stroke="#000" stroke-width="0.8"/>
<line x1="313.50" y1="94.50" x2="315.50" y2="94.50" stroke="#000" stroke-width="0.8"/>
<line x1="409.60" y1="94.50" x2="411.00" y2="94.50" stroke="#000" stroke-width="0.8"/>
<line x1="313.50" y1="85.50" x2="315.50" y2="85.50" stroke="#000" stroke-width="0.8"/>
<line x1="409.60" y1="85.50" x2="411.00" y2="85.50" stroke="#000" stroke-width="0.8"/>
<line x1="313.50" y1="79.11" x2="315.50" y2="79.11" stroke="#000" stroke-width="0.8"/>
<line x1="409.60" y1="79.11" x2="411.00" y2="79.11" stroke="#000" stroke-width="0.8"/>
<line x1="314.50" y1="123.50" x2="314.50" y2="127.10" stroke="#000" stroke-width="1.0"/>
<line x1="314.50" y1="23.00" x2="314.50" y2="25.60" stroke="#000" stroke-width="1.0"/>
<text x="0" y="0" font-size="9.8" text-anchor="start" transform="translate(310.30 136.30) scale(0.9 1)">10<tspan font-size="5.8" dy="-3.3">-2</tspan></text>
<line x1="353.20" y1="123.50" x2="353.20" y2="127.10" stroke="#000" stroke-width="1.0"/>
<line x1="353.20" y1="23.00" x2="353.20" y2="25.60" stroke="#000" stroke-width="1.0"/>
<text x="0" y="0" font-size="9.8" text-anchor="start" transform="translate(349.00 136.30) scale(0.9 1)">10<tspan font-size="5.8" dy="-3.3">-1</tspan></text>
<line x1="391.90" y1="123.50" x2="391.90" y2="127.10" stroke="#000" stroke-width="1.0"/>
<line x1="391.90" y1="23.00" x2="391.90" y2="25.60" stroke="#000" stroke-width="1.0"/>
<text x="0" y="0" font-size="9.8" text-anchor="start" transform="translate(387.70 136.30) scale(0.9 1)">10<tspan font-size="5.8" dy="-3.3">0</tspan></text>
<line x1="326.15" y1="124.30" x2="326.15" y2="126.30" stroke="#000" stroke-width="0.8"/>
<line x1="326.15" y1="23.00" x2="326.15" y2="24.40" stroke="#000" stroke-width="0.8"/>
<line x1="337.80" y1="124.30" x2="337.80" y2="126.30" stroke="#000" stroke-width="0.8"/>
<line x1="337.80" y1="23.00" x2="337.80" y2="24.40" stroke="#000" stroke-width="0.8"/>
<line x1="344.61" y1="124.30" x2="344.61" y2="126.30" stroke="#000" stroke-width="0.8"/>
<line x1="344.61" y1="23.00" x2="344.61" y2="24.40" stroke="#000" stroke-width="0.8"/>
<line x1="349.45" y1="124.30" x2="349.45" y2="126.30" stroke="#000" stroke-width="0.8"/>
<line x1="349.45" y1="23.00" x2="349.45" y2="24.40" stroke="#000" stroke-width="0.8"/>
<line x1="364.85" y1="124.30" x2="364.85" y2="126.30" stroke="#000" stroke-width="0.8"/>
<line x1="364.85" y1="23.00" x2="364.85" y2="24.40" stroke="#000" stroke-width="0.8"/>
<line x1="376.50" y1="124.30" x2="376.50" y2="126.30" stroke="#000" stroke-width="0.8"/>
<line x1="376.50" y1="23.00" x2="376.50" y2="24.40" stroke="#000" stroke-width="0.8"/>
<line x1="383.31" y1="124.30" x2="383.31" y2="126.30" stroke="#000" stroke-width="0.8"/>
<line x1="383.31" y1="23.00" x2="383.31" y2="24.40" stroke="#000" stroke-width="0.8"/>
<line x1="388.15" y1="124.30" x2="388.15" y2="126.30" stroke="#000" stroke-width="0.8"/>
<line x1="388.15" y1="23.00" x2="388.15" y2="24.40" stroke="#000" stroke-width="0.8"/>
<line x1="403.55" y1="124.30" x2="403.55" y2="126.30" stroke="#000" stroke-width="0.8"/>
<line x1="403.55" y1="23.00" x2="403.55" y2="24.40" stroke="#000" stroke-width="0.8"/>
<text x="370.50" y="145.40" font-size="9" font-weight="bold" text-anchor="middle" fill="#000">t (s)</text>
<text x="295.60" y="74.80" font-size="9.0" font-weight="bold" text-anchor="middle" fill="#000" transform="rotate(-90 295.6 74.8)">MSD (μm²)</text>
<circle cx="326.20" cy="33.00" r="1.60" fill="#e0161b"/>
<text x="331.20" y="36.30" font-size="9" font-weight="bold" text-anchor="start" fill="#000"><tspan font-weight="bold">h8</tspan><tspan font-size="5.4" font-weight="bold">+Gly</tspan></text>
<circle cx="326.20" cy="46.30" r="1.60" fill="#000"/>
<text x="331.20" y="49.60" font-size="9" font-weight="bold" text-anchor="start" fill="#000"><tspan font-weight="bold">h8</tspan><tspan font-size="5.4" font-weight="bold">-Gly</tspan></text>
<text x="419.60" y="8.70" font-size="12" font-weight="bold" text-anchor="start" fill="#000">d</text>
<text x="447.70" y="10.40" font-size="9.05" font-weight="bold" text-anchor="start" fill="#000">Time after bleaching (s)</text>
<text x="477.80" y="21.00" font-size="8.6" font-weight="bold" text-anchor="middle" fill="#000">-2</text>
<text x="499.10" y="21.00" font-size="8.6" font-weight="bold" text-anchor="middle" fill="#000">0</text>
<text x="520.20" y="21.00" font-size="8.6" font-weight="bold" text-anchor="middle" fill="#000">15</text>
<text x="541.20" y="21.00" font-size="8.6" font-weight="bold" text-anchor="middle" fill="#000">60</text>
<rect x="467.00" y="20.60" width="85.00" height="41.80" fill="#c8c8c8"/>
<clipPath id="c21"><rect x="467.60" y="21.20" width="20.40" height="19.90"/></clipPath>
<rect x="467.60" y="21.20" width="20.40" height="19.90" fill="#000"/>
<g clip-path="url(#c21)">
<g filter="url(#blur)">
<ellipse cx="477.20" cy="33.20" rx="8.60" ry="8.40" fill="#22c42a" transform="rotate(0 477.20 33.20)"/>
<ellipse cx="477.00" cy="26.70" rx="6.00" ry="5.50" fill="#22c42a" transform="rotate(0 477.00 26.70)"/>
</g></g>
<clipPath id="c22"><rect x="488.90" y="21.20" width="20.40" height="19.90"/></clipPath>
<rect x="488.90" y="21.20" width="20.40" height="19.90" fill="#000"/>
<g clip-path="url(#c22)">
<g filter="url(#blur)">
<ellipse cx="498.90" cy="32.20" rx="9.00" ry="9.00" fill="#18a032" transform="rotate(0 498.90 32.20)"/>
<ellipse cx="498.70" cy="26.70" rx="6.50" ry="5.50" fill="#18a032" transform="rotate(0 498.70 26.70)"/>
<circle cx="498.10" cy="30.20" r="2.60" fill="#0f7424"/>
<circle cx="498.70" cy="34.50" r="1.10" fill="#60ff80"/>
</g></g>
<clipPath id="c23"><rect x="510.00" y="21.20" width="20.40" height="19.90"/></clipPath>
<rect x="510.00" y="21.20" width="20.40" height="19.90" fill="#000"/>
<g clip-path="url(#c23)">
<g filter="url(#blur)">
<ellipse cx="520.00" cy="32.20" rx="9.00" ry="9.00" fill="#18a032" transform="rotate(0 520.00 32.20)"/>
<ellipse cx="519.80" cy="26.70" rx="6.50" ry="5.50" fill="#18a032" transform="rotate(0 519.80 26.70)"/>
<circle cx="519.20" cy="30.20" r="2.60" fill="#0f7424"/>
<circle cx="519.80" cy="34.50" r="1.10" fill="#60ff80"/>
</g></g>
<clipPath id="c24"><rect x="531.00" y="21.20" width="20.40" height="19.90"/></clipPath>
<rect x="531.00" y="21.20" width="20.40" height="19.90" fill="#000"/>
<g clip-path="url(#c24)">
<g filter="url(#blur)">
<ellipse cx="541.00" cy="32.20" rx="9.00" ry="9.00" fill="#18a032" transform="rotate(0 541.00 32.20)"/>
<ellipse cx="540.80" cy="26.70" rx="6.50" ry="5.50" fill="#18a032" transform="rotate(0 540.80 26.70)"/>
<circle cx="540.20" cy="30.20" r="2.60" fill="#0f7424"/>
<circle cx="540.80" cy="34.50" r="1.10" fill="#60ff80"/>
</g></g>
<clipPath id="c25"><rect x="467.60" y="41.90" width="20.40" height="19.90"/></clipPath>
<rect x="467.60" y="41.90" width="20.40" height="19.90" fill="#000"/>
<g clip-path="url(#c25)">
<g filter="url(#blur)">
<ellipse cx="477.80" cy="52.10" rx="6.00" ry="7.20" fill="#22f060" transform="rotate(0 477.80 52.10)"/>
</g></g>
<clipPath id="c26"><rect x="488.90" y="41.90" width="20.40" height="19.90"/></clipPath>
<rect x="488.90" y="41.90" width="20.40" height="19.90" fill="#000"/>
<g clip-path="url(#c26)">
<g filter="url(#blur)">
<ellipse cx="498.90" cy="52.30" rx="6.20" ry="7.40" fill="#16b040" transform="rotate(0 498.90 52.30)"/>
<circle cx="498.70" cy="51.90" r="3.00" fill="#06300e"/>
</g></g>
<clipPath id="c27"><rect x="510.00" y="41.90" width="20.40" height="19.90"/></clipPath>
<rect x="510.00" y="41.90" width="20.40" height="19.90" fill="#000"/>
<g clip-path="url(#c27)">
<g filter="url(#blur)">
<ellipse cx="520.00" cy="52.10" rx="6.00" ry="7.20" fill="#16b840" transform="rotate(0 520.00 52.10)"/>
<circle cx="519.80" cy="52.10" r="2.50" fill="#10902e"/>
</g></g>
<clipPath id="c28"><rect x="531.00" y="41.90" width="20.40" height="19.90"/></clipPath>
<rect x="531.00" y="41.90" width="20.40" height="19.90" fill="#000"/>
<g clip-path="url(#c28)">
<g filter="url(#blur)">
<ellipse cx="541.00" cy="52.10" rx="6.00" ry="7.20" fill="#1ad84a" transform="rotate(0 541.00 52.10)"/>
</g></g>
<path d="M500.7,29.2 l5.5,-5.0 l-1.4,4.6 l3.0,2.0 z" fill="#fff" stroke="none" stroke-width="1"/>
<path d="M500.7,49.9 l5.5,-5.0 l-1.4,4.6 l3.0,2.0 z" fill="#fff" stroke="none" stroke-width="1"/>
<rect x="480.10" y="37.80" width="5.00" height="1.00" fill="#fff"/>
<text x="445.50" y="34.40" font-size="9" font-weight="bold" text-anchor="start" fill="#000"><tspan font-weight="bold">h0</tspan><tspan font-size="5.2" font-weight="bold">+Trp</tspan></text>
<text x="445.50" y="55.40" font-size="9" font-weight="bold" text-anchor="start" fill="#000"><tspan font-weight="bold">h0</tspan><tspan font-size="5.2" font-weight="bold">-Trp</tspan></text>
<path d="M446.90,123.30 L447.97,112.78 L449.04,104.45 L450.12,97.85 L451.19,92.63 L452.26,88.48 L453.33,85.20 L454.40,82.61 L455.47,80.55 L456.55,78.92 L457.62,77.62 L458.69,76.60 L459.76,75.79 L460.83,75.15 L461.90,74.64 L462.98,74.24 L464.05,73.92 L465.12,73.66 L466.19,73.46 L467.26,73.30 L468.33,73.18 L469.41,73.08 L470.48,73.00 L471.55,72.94 L472.62,72.89 L473.69,72.85 L474.76,72.82 L475.84,72.79 L476.91,72.77 L477.98,72.76 L479.05,72.75 L480.12,72.74 L481.19,72.73 L482.27,72.72 L483.34,72.72 L484.41,72.71 L485.48,72.71 L486.55,72.71 L487.63,72.71 L488.70,72.71 L489.77,72.70 L490.84,72.70 L491.91,72.70 L492.98,72.70 L494.06,72.70 L495.13,72.70 L496.20,72.70 L497.27,72.70 L498.34,72.70 L499.41,72.70 L500.49,72.70 L501.56,72.70 L502.63,72.70 L503.70,72.70 L504.77,72.70 L505.84,72.70 L506.92,72.70 L507.99,72.70 L509.06,72.70 L510.13,72.70 L511.20,72.70 L512.27,72.70 L513.35,72.70 L514.42,72.70 L515.49,72.70 L516.56,72.70 L517.63,72.70 L518.71,72.70 L519.78,72.70 L520.85,72.70 L521.92,72.70 L522.99,72.70 L524.06,72.70 L525.14,72.70 L526.21,72.70 L527.28,72.70 L528.35,72.70 L529.42,72.70 L530.49,72.70 L531.57,72.70 L532.64,72.70 L533.71,72.70 L534.78,72.70 L535.85,72.70 L536.92,72.70 L538.00,72.70 L539.07,72.70 L540.14,72.70 L541.21,72.70 L542.28,72.70 L543.35,72.70 L544.43,72.70 L545.50,72.70 L546.57,72.70 L547.64,72.70 L548.71,72.70 L549.78,72.70 L550.86,72.70 L551.93,72.70 L553.00,72.70" fill="none" stroke="#000" stroke-width="1.5"/>
<line x1="455.69" y1="72.40" x2="455.69" y2="78.00" stroke="#000" stroke-width="1.2"/>
<line x1="454.09" y1="72.40" x2="457.29" y2="72.40" stroke="#000" stroke-width="1.2"/>
<line x1="454.09" y1="78.00" x2="457.29" y2="78.00" stroke="#000" stroke-width="1.2"/>
<circle cx="455.69" cy="76.60" r="1.70" fill="#000"/>
<line x1="464.28" y1="67.50" x2="464.28" y2="77.70" stroke="#000" stroke-width="1.2"/>
<line x1="462.68" y1="67.50" x2="465.88" y2="67.50" stroke="#000" stroke-width="1.2"/>
<line x1="462.68" y1="77.70" x2="465.88" y2="77.70" stroke="#000" stroke-width="1.2"/>
<circle cx="464.28" cy="72.80" r="1.70" fill="#000"/>
<line x1="472.88" y1="67.50" x2="472.88" y2="77.70" stroke="#000" stroke-width="1.2"/>
<line x1="471.27" y1="67.50" x2="474.48" y2="67.50" stroke="#000" stroke-width="1.2"/>
<line x1="471.27" y1="77.70" x2="474.48" y2="77.70" stroke="#000" stroke-width="1.2"/>
<circle cx="472.88" cy="72.40" r="1.70" fill="#000"/>
<line x1="481.47" y1="67.20" x2="481.47" y2="77.20" stroke="#000" stroke-width="1.2"/>
<line x1="479.87" y1="67.20" x2="483.07" y2="67.20" stroke="#000" stroke-width="1.2"/>
<line x1="479.87" y1="77.20" x2="483.07" y2="77.20" stroke="#000" stroke-width="1.2"/>
<circle cx="481.47" cy="71.90" r="1.70" fill="#000"/>
<line x1="490.06" y1="68.40" x2="490.06" y2="78.90" stroke="#000" stroke-width="1.2"/>
<line x1="488.46" y1="68.40" x2="491.66" y2="68.40" stroke="#000" stroke-width="1.2"/>
<line x1="488.46" y1="78.90" x2="491.66" y2="78.90" stroke="#000" stroke-width="1.2"/>
<circle cx="490.06" cy="73.10" r="1.70" fill="#000"/>
<line x1="498.65" y1="67.50" x2="498.65" y2="78.00" stroke="#000" stroke-width="1.2"/>
<line x1="497.05" y1="67.50" x2="500.25" y2="67.50" stroke="#000" stroke-width="1.2"/>
<line x1="497.05" y1="78.00" x2="500.25" y2="78.00" stroke="#000" stroke-width="1.2"/>
<circle cx="498.65" cy="72.80" r="1.70" fill="#000"/>
<line x1="507.24" y1="67.20" x2="507.24" y2="78.00" stroke="#000" stroke-width="1.2"/>
<line x1="505.64" y1="67.20" x2="508.84" y2="67.20" stroke="#000" stroke-width="1.2"/>
<line x1="505.64" y1="78.00" x2="508.84" y2="78.00" stroke="#000" stroke-width="1.2"/>
<circle cx="507.24" cy="72.80" r="1.70" fill="#000"/>
<line x1="515.83" y1="67.50" x2="515.83" y2="78.00" stroke="#000" stroke-width="1.2"/>
<line x1="514.23" y1="67.50" x2="517.43" y2="67.50" stroke="#000" stroke-width="1.2"/>
<line x1="514.23" y1="78.00" x2="517.43" y2="78.00" stroke="#000" stroke-width="1.2"/>
<circle cx="515.83" cy="72.80" r="1.70" fill="#000"/>
<line x1="524.43" y1="67.50" x2="524.43" y2="79.40" stroke="#000" stroke-width="1.2"/>
<line x1="522.83" y1="67.50" x2="526.03" y2="67.50" stroke="#000" stroke-width="1.2"/>
<line x1="522.83" y1="79.40" x2="526.03" y2="79.40" stroke="#000" stroke-width="1.2"/>
<circle cx="524.43" cy="73.10" r="1.70" fill="#000"/>
<line x1="533.02" y1="66.60" x2="533.02" y2="78.60" stroke="#000" stroke-width="1.2"/>
<line x1="531.42" y1="66.60" x2="534.62" y2="66.60" stroke="#000" stroke-width="1.2"/>
<line x1="531.42" y1="78.60" x2="534.62" y2="78.60" stroke="#000" stroke-width="1.2"/>
<circle cx="533.02" cy="72.80" r="1.70" fill="#000"/>
<line x1="541.61" y1="67.50" x2="541.61" y2="79.40" stroke="#000" stroke-width="1.2"/>
<line x1="540.01" y1="67.50" x2="543.21" y2="67.50" stroke="#000" stroke-width="1.2"/>
<line x1="540.01" y1="79.40" x2="543.21" y2="79.40" stroke="#000" stroke-width="1.2"/>
<circle cx="541.61" cy="73.10" r="1.70" fill="#000"/>
<line x1="550.20" y1="67.50" x2="550.20" y2="82.40" stroke="#000" stroke-width="1.2"/>
<line x1="548.60" y1="67.50" x2="551.80" y2="67.50" stroke="#000" stroke-width="1.2"/>
<line x1="548.60" y1="82.40" x2="551.80" y2="82.40" stroke="#000" stroke-width="1.2"/>
<circle cx="550.20" cy="75.00" r="1.70" fill="#000"/>
<path d="M446.90,123.30 L447.97,122.86 L449.04,122.43 L450.12,122.02 L451.19,121.62 L452.26,121.24 L453.33,120.87 L454.40,120.51 L455.47,120.17 L456.55,119.84 L457.62,119.52 L458.69,119.21 L459.76,118.91 L460.83,118.62 L461.90,118.34 L462.98,118.07 L464.05,117.81 L465.12,117.56 L466.19,117.32 L467.26,117.09 L468.33,116.87 L469.41,116.65 L470.48,116.44 L471.55,116.24 L472.62,116.05 L473.69,115.86 L474.76,115.68 L475.84,115.50 L476.91,115.33 L477.98,115.17 L479.05,115.01 L480.12,114.86 L481.19,114.72 L482.27,114.58 L483.34,114.44 L484.41,114.31 L485.48,114.18 L486.55,114.06 L487.63,113.94 L488.70,113.83 L489.77,113.72 L490.84,113.61 L491.91,113.51 L492.98,113.41 L494.06,113.32 L495.13,113.22 L496.20,113.14 L497.27,113.05 L498.34,112.97 L499.41,112.89 L500.49,112.81 L501.56,112.74 L502.63,112.67 L503.70,112.60 L504.77,112.53 L505.84,112.47 L506.92,112.40 L507.99,112.34 L509.06,112.29 L510.13,112.23 L511.20,112.18 L512.27,112.13 L513.35,112.08 L514.42,112.03 L515.49,111.98 L516.56,111.94 L517.63,111.89 L518.71,111.85 L519.78,111.81 L520.85,111.77 L521.92,111.73 L522.99,111.70 L524.06,111.66 L525.14,111.63 L526.21,111.60 L527.28,111.56 L528.35,111.53 L529.42,111.50 L530.49,111.48 L531.57,111.45 L532.64,111.42 L533.71,111.40 L534.78,111.37 L535.85,111.35 L536.92,111.33 L538.00,111.30 L539.07,111.28 L540.14,111.26 L541.21,111.24 L542.28,111.22 L543.35,111.21 L544.43,111.19 L545.50,111.17 L546.57,111.15 L547.64,111.14 L548.71,111.12 L549.78,111.11 L550.86,111.09 L551.93,111.08 L553.00,111.07" fill="none" stroke="#d42a36" stroke-width="1.4"/>
<line x1="455.69" y1="116.30" x2="455.69" y2="119.50" stroke="#d42a36" stroke-width="1.0"/>
<line x1="454.39" y1="116.30" x2="456.99" y2="116.30" stroke="#d42a36" stroke-width="1.0"/>
<line x1="454.39" y1="119.50" x2="456.99" y2="119.50" stroke="#d42a36" stroke-width="1.0"/>
<rect x="454.09" y="116.40" width="3.20" height="3.00" fill="#d42a36"/>
<line x1="464.28" y1="115.40" x2="464.28" y2="118.60" stroke="#d42a36" stroke-width="1.0"/>
<line x1="462.98" y1="115.40" x2="465.58" y2="115.40" stroke="#d42a36" stroke-width="1.0"/>
<line x1="462.98" y1="118.60" x2="465.58" y2="118.60" stroke="#d42a36" stroke-width="1.0"/>
<rect x="462.68" y="115.50" width="3.20" height="3.00" fill="#d42a36"/>
<line x1="472.88" y1="114.70" x2="472.88" y2="117.90" stroke="#d42a36" stroke-width="1.0"/>
<line x1="471.57" y1="114.70" x2="474.18" y2="114.70" stroke="#d42a36" stroke-width="1.0"/>
<line x1="471.57" y1="117.90" x2="474.18" y2="117.90" stroke="#d42a36" stroke-width="1.0"/>
<rect x="471.27" y="114.80" width="3.20" height="3.00" fill="#d42a36"/>
<line x1="481.47" y1="113.70" x2="481.47" y2="116.90" stroke="#d42a36" stroke-width="1.0"/>
<line x1="480.17" y1="113.70" x2="482.77" y2="113.70" stroke="#d42a36" stroke-width="1.0"/>
<line x1="480.17" y1="116.90" x2="482.77" y2="116.90" stroke="#d42a36" stroke-width="1.0"/>
<rect x="479.87" y="113.80" width="3.20" height="3.00" fill="#d42a36"/>
<line x1="490.06" y1="112.80" x2="490.06" y2="116.00" stroke="#d42a36" stroke-width="1.0"/>
<line x1="488.76" y1="112.80" x2="491.36" y2="112.80" stroke="#d42a36" stroke-width="1.0"/>
<line x1="488.76" y1="116.00" x2="491.36" y2="116.00" stroke="#d42a36" stroke-width="1.0"/>
<rect x="488.46" y="112.90" width="3.20" height="3.00" fill="#d42a36"/>
<line x1="498.65" y1="112.30" x2="498.65" y2="115.50" stroke="#d42a36" stroke-width="1.0"/>
<line x1="497.35" y1="112.30" x2="499.95" y2="112.30" stroke="#d42a36" stroke-width="1.0"/>
<line x1="497.35" y1="115.50" x2="499.95" y2="115.50" stroke="#d42a36" stroke-width="1.0"/>
<rect x="497.05" y="112.40" width="3.20" height="3.00" fill="#d42a36"/>
<line x1="507.24" y1="111.90" x2="507.24" y2="115.10" stroke="#d42a36" stroke-width="1.0"/>
<line x1="505.94" y1="111.90" x2="508.54" y2="111.90" stroke="#d42a36" stroke-width="1.0"/>
<line x1="505.94" y1="115.10" x2="508.54" y2="115.10" stroke="#d42a36" stroke-width="1.0"/>
<rect x="505.64" y="112.00" width="3.20" height="3.00" fill="#d42a36"/>
<line x1="515.83" y1="111.40" x2="515.83" y2="114.60" stroke="#d42a36" stroke-width="1.0"/>
<line x1="514.53" y1="111.40" x2="517.13" y2="111.40" stroke="#d42a36" stroke-width="1.0"/>
<line x1="514.53" y1="114.60" x2="517.13" y2="114.60" stroke="#d42a36" stroke-width="1.0"/>
<rect x="514.23" y="111.50" width="3.20" height="3.00" fill="#d42a36"/>
<line x1="524.43" y1="110.90" x2="524.43" y2="114.10" stroke="#d42a36" stroke-width="1.0"/>
<line x1="523.13" y1="110.90" x2="525.73" y2="110.90" stroke="#d42a36" stroke-width="1.0"/>
<line x1="523.13" y1="114.10" x2="525.73" y2="114.10" stroke="#d42a36" stroke-width="1.0"/>
<rect x="522.83" y="111.00" width="3.20" height="3.00" fill="#d42a36"/>
<line x1="533.02" y1="110.50" x2="533.02" y2="113.70" stroke="#d42a36" stroke-width="1.0"/>
<line x1="531.72" y1="110.50" x2="534.32" y2="110.50" stroke="#d42a36" stroke-width="1.0"/>
<line x1="531.72" y1="113.70" x2="534.32" y2="113.70" stroke="#d42a36" stroke-width="1.0"/>
<rect x="531.42" y="110.60" width="3.20" height="3.00" fill="#d42a36"/>
<line x1="541.61" y1="110.00" x2="541.61" y2="113.20" stroke="#d42a36" stroke-width="1.0"/>
<line x1="540.31" y1="110.00" x2="542.91" y2="110.00" stroke="#d42a36" stroke-width="1.0"/>
<line x1="540.31" y1="113.20" x2="542.91" y2="113.20" stroke="#d42a36" stroke-width="1.0"/>
<rect x="540.01" y="110.10" width="3.20" height="3.00" fill="#d42a36"/>
<line x1="550.20" y1="109.50" x2="550.20" y2="112.70" stroke="#d42a36" stroke-width="1.0"/>
<line x1="548.90" y1="109.50" x2="551.50" y2="109.50" stroke="#d42a36" stroke-width="1.0"/>
<line x1="548.90" y1="112.70" x2="551.50" y2="112.70" stroke="#d42a36" stroke-width="1.0"/>
<rect x="548.60" y="109.60" width="3.20" height="3.00" fill="#d42a36"/>
<path d="M444.40,55.70 L446.90,123.30" fill="none" stroke="#000" stroke-width="1.4"/>
<circle cx="444.40" cy="55.70" r="1.50" fill="#000"/>
<line x1="444.40" y1="52.00" x2="444.40" y2="123.80" stroke="#000" stroke-width="1.2"/>
<line x1="443.90" y1="123.30" x2="556.00" y2="123.30" stroke="#000" stroke-width="1.2"/>
<line x1="442.80" y1="123.30" x2="444.40" y2="123.30" stroke="#000" stroke-width="1.0"/>
<text x="0" y="0" font-size="9.3" font-weight="normal" text-anchor="end" fill="#000" transform="translate(441.60 128.00) scale(0.9 1)">0.0</text>
<line x1="442.80" y1="109.78" x2="444.40" y2="109.78" stroke="#000" stroke-width="1.0"/>
<text x="0" y="0" font-size="9.3" font-weight="normal" text-anchor="end" fill="#000" transform="translate(441.60 114.48) scale(0.9 1)">0.2</text>
<line x1="442.80" y1="96.26" x2="444.40" y2="96.26" stroke="#000" stroke-width="1.0"/>
<text x="0" y="0" font-size="9.3" font-weight="normal" text-anchor="end" fill="#000" transform="translate(441.60 100.96) scale(0.9 1)">0.4</text>
<line x1="442.80" y1="82.74" x2="444.40" y2="82.74" stroke="#000" stroke-width="1.0"/>
<text x="0" y="0" font-size="9.3" font-weight="normal" text-anchor="end" fill="#000" transform="translate(441.60 87.44) scale(0.9 1)">0.6</text>
<line x1="442.80" y1="69.22" x2="444.40" y2="69.22" stroke="#000" stroke-width="1.0"/>
<text x="0" y="0" font-size="9.3" font-weight="normal" text-anchor="end" fill="#000" transform="translate(441.60 73.92) scale(0.9 1)">0.8</text>
<line x1="442.80" y1="55.70" x2="444.40" y2="55.70" stroke="#000" stroke-width="1.0"/>
<text x="0" y="0" font-size="9.3" font-weight="normal" text-anchor="end" fill="#000" transform="translate(441.60 60.40) scale(0.9 1)">1.0</text>
<line x1="447.10" y1="123.30" x2="447.10" y2="124.90" stroke="#000" stroke-width="1.0"/>
<text x="0" y="0" font-size="9.3" font-weight="normal" text-anchor="middle" fill="#000" transform="translate(447.10 133.80) scale(0.9 1)">0</text>
<line x1="472.88" y1="123.30" x2="472.88" y2="124.90" stroke="#000" stroke-width="1.0"/>
<text x="0" y="0" font-size="9.3" font-weight="normal" text-anchor="middle" fill="#000" transform="translate(472.88 133.80) scale(0.9 1)">15</text>
<line x1="498.65" y1="123.30" x2="498.65" y2="124.90" stroke="#000" stroke-width="1.0"/>
<text x="0" y="0" font-size="9.3" font-weight="normal" text-anchor="middle" fill="#000" transform="translate(498.65 133.80) scale(0.9 1)">30</text>
<line x1="524.43" y1="123.30" x2="524.43" y2="124.90" stroke="#000" stroke-width="1.0"/>
<text x="0" y="0" font-size="9.3" font-weight="normal" text-anchor="middle" fill="#000" transform="translate(524.43 133.80) scale(0.9 1)">45</text>
<line x1="550.20" y1="123.30" x2="550.20" y2="124.90" stroke="#000" stroke-width="1.0"/>
<text x="0" y="0" font-size="9.3" font-weight="normal" text-anchor="middle" fill="#000" transform="translate(550.20 133.80) scale(0.9 1)">60</text>
<text x="498.40" y="142.40" font-size="9.35" font-weight="bold" text-anchor="middle" fill="#000">Time after bleaching (s)</text>
<text x="427.00" y="88.00" font-size="9.0" font-weight="bold" text-anchor="middle" fill="#000" transform="rotate(-90 427.0 88.0)">Normalized Intensity</text>
<line x1="472.40" y1="91.50" x2="482.40" y2="91.50" stroke="#d42a36" stroke-width="1.4"/>
<text x="485.90" y="95.40" font-size="9" font-weight="bold" text-anchor="start" fill="#000"><tspan font-weight="bold">h0</tspan><tspan font-size="5.4" font-weight="bold">+Trp</tspan></text>
<line x1="514.50" y1="91.50" x2="525.00" y2="91.50" stroke="#000" stroke-width="1.4"/>
<text x="527.60" y="95.40" font-size="9" font-weight="bold" text-anchor="start" fill="#000"><tspan font-weight="bold">h0</tspan><tspan font-size="5.4" font-weight="bold">-Trp</tspan></text>
<text x="563.00" y="9.00" font-size="12" font-weight="bold" text-anchor="start" fill="#000">e</text>
<circle cx="598.00" cy="108.90" r="1.80" fill="#000"/>
<circle cx="609.50" cy="101.60" r="1.80" fill="#000"/>
<circle cx="616.00" cy="96.80" r="1.80" fill="#000"/>
<circle cx="621.50" cy="93.00" r="1.80" fill="#000"/>
<circle cx="624.50" cy="89.70" r="1.80" fill="#000"/>
<path d="M624.50,89.70 L628.00,86.50 L633.00,82.80 L640.00,77.20 L648.00,71.00 L655.00,66.50 L662.00,62.50 L668.00,57.50 L673.00,55.00 L676.60,52.50" fill="none" stroke="#000" stroke-width="3.0" stroke-linejoin="round" stroke-linecap="round"/>
<circle cx="598.00" cy="113.00" r="1.80" fill="#e0161b"/>
<circle cx="609.50" cy="113.00" r="1.80" fill="#e0161b"/>
<circle cx="616.00" cy="113.00" r="1.80" fill="#e0161b"/>
<circle cx="621.50" cy="113.00" r="1.80" fill="#e0161b"/>
<path d="M621.50,112.27 L622.33,113.15 L623.15,112.15 L623.98,112.85 L624.80,112.10 L625.63,112.30 L626.46,113.20 L627.28,112.25 L628.11,112.77 L628.93,112.55 L629.76,112.54 L630.59,112.59 L631.41,112.23 L632.24,113.00 L633.07,112.11 L633.89,112.28 L634.72,112.02 L635.54,112.32 L636.37,112.49 L637.20,113.08 L638.02,112.45 L638.85,112.14 L639.67,110.91 L640.50,111.79 L641.33,110.68 L642.15,111.34 L642.98,111.05 L643.80,111.39 L644.63,111.01 L645.46,111.43 L646.28,111.20 L647.11,112.78 L647.93,113.08 L648.76,112.70 L649.59,112.17 L650.41,112.08 L651.24,113.14 L652.07,112.59 L652.89,112.23 L653.72,113.14 L654.54,112.69 L655.37,112.87 L656.20,113.06 L657.02,112.34 L657.85,112.43 L658.67,113.05 L659.50,112.16 L660.33,112.92 L661.15,112.12 L661.98,112.83 L662.80,112.84 L663.63,113.14 L664.46,112.92 L665.28,112.35 L666.11,111.82 L666.93,111.59 L667.76,111.88 L668.59,111.69 L669.41,111.00 L670.24,111.84 L671.07,111.20 L671.89,111.26 L672.72,110.52 L673.54,110.38 L674.37,109.94 L675.20,110.17 L676.02,109.92 L676.85,109.94 L677.67,109.72 L678.50,110.10" fill="none" stroke="#e0161b" stroke-width="3.0" stroke-linejoin="round" stroke-linecap="round"/>
<path d="M666.00,111.30 L678.00,109.50" fill="none" stroke="#e0161b" stroke-width="4.2" stroke-linecap="round"/>
<line x1="646.40" y1="59.00" x2="668.20" y2="44.20" stroke="#000" stroke-width="1.2"/>
<text x="646.40" y="40.60" font-size="9.1" font-weight="bold" text-anchor="start" fill="#000">0.8054</text>
<text x="646.00" y="94.00" font-size="9.1" font-weight="bold" text-anchor="start" fill="#000">0.0535</text>
<line x1="646.20" y1="101.20" x2="672.50" y2="98.80" stroke="#e0161b" stroke-width="1.2"/>
<rect x="586.5" y="20.0" width="96.5" height="103.0" fill="none" stroke="#000" stroke-width="1.45"/>
<line x1="584.70" y1="20.00" x2="586.50" y2="20.00" stroke="#000" stroke-width="1.0"/>
<line x1="680.40" y1="20.00" x2="683.00" y2="20.00" stroke="#000" stroke-width="1.0"/>
<line x1="586.50" y1="20.00" x2="588.30" y2="20.00" stroke="#000" stroke-width="1.0"/>
<text x="0" y="0" font-size="9.8" text-anchor="end" transform="translate(583.70 23.20) scale(0.9 1)">10<tspan font-size="5.8" dy="-3.3">1</tspan></text>
<line x1="584.70" y1="54.33" x2="586.50" y2="54.33" stroke="#000" stroke-width="1.0"/>
<line x1="680.40" y1="54.33" x2="683.00" y2="54.33" stroke="#000" stroke-width="1.0"/>
<line x1="586.50" y1="54.33" x2="588.30" y2="54.33" stroke="#000" stroke-width="1.0"/>
<text x="0" y="0" font-size="9.8" text-anchor="end" transform="translate(583.70 57.53) scale(0.9 1)">10<tspan font-size="5.8" dy="-3.3">0</tspan></text>
<line x1="584.70" y1="88.67" x2="586.50" y2="88.67" stroke="#000" stroke-width="1.0"/>
<line x1="680.40" y1="88.67" x2="683.00" y2="88.67" stroke="#000" stroke-width="1.0"/>
<line x1="586.50" y1="88.67" x2="588.30" y2="88.67" stroke="#000" stroke-width="1.0"/>
<text x="0" y="0" font-size="9.8" text-anchor="end" transform="translate(583.70 91.87) scale(0.9 1)">10<tspan font-size="5.8" dy="-3.3">-1</tspan></text>
<line x1="584.70" y1="123.00" x2="586.50" y2="123.00" stroke="#000" stroke-width="1.0"/>
<line x1="680.40" y1="123.00" x2="683.00" y2="123.00" stroke="#000" stroke-width="1.0"/>
<line x1="586.50" y1="123.00" x2="588.30" y2="123.00" stroke="#000" stroke-width="1.0"/>
<text x="0" y="0" font-size="9.8" text-anchor="end" transform="translate(583.70 126.20) scale(0.9 1)">10<tspan font-size="5.8" dy="-3.3">-2</tspan></text>
<line x1="585.50" y1="44.00" x2="587.50" y2="44.00" stroke="#000" stroke-width="0.8"/>
<line x1="681.60" y1="44.00" x2="683.00" y2="44.00" stroke="#000" stroke-width="0.8"/>
<line x1="585.50" y1="33.66" x2="587.50" y2="33.66" stroke="#000" stroke-width="0.8"/>
<line x1="681.60" y1="33.66" x2="683.00" y2="33.66" stroke="#000" stroke-width="0.8"/>
<line x1="585.50" y1="27.62" x2="587.50" y2="27.62" stroke="#000" stroke-width="0.8"/>
<line x1="681.60" y1="27.62" x2="683.00" y2="27.62" stroke="#000" stroke-width="0.8"/>
<line x1="585.50" y1="23.33" x2="587.50" y2="23.33" stroke="#000" stroke-width="0.8"/>
<line x1="681.60" y1="23.33" x2="683.00" y2="23.33" stroke="#000" stroke-width="0.8"/>
<line x1="585.50" y1="78.33" x2="587.50" y2="78.33" stroke="#000" stroke-width="0.8"/>
<line x1="681.60" y1="78.33" x2="683.00" y2="78.33" stroke="#000" stroke-width="0.8"/>
<line x1="585.50" y1="68.00" x2="587.50" y2="68.00" stroke="#000" stroke-width="0.8"/>
<line x1="681.60" y1="68.00" x2="683.00" y2="68.00" stroke="#000" stroke-width="0.8"/>
<line x1="585.50" y1="61.95" x2="587.50" y2="61.95" stroke="#000" stroke-width="0.8"/>
<line x1="681.60" y1="61.95" x2="683.00" y2="61.95" stroke="#000" stroke-width="0.8"/>
<line x1="585.50" y1="57.66" x2="587.50" y2="57.66" stroke="#000" stroke-width="0.8"/>
<line x1="681.60" y1="57.66" x2="683.00" y2="57.66" stroke="#000" stroke-width="0.8"/>
<line x1="585.50" y1="112.66" x2="587.50" y2="112.66" stroke="#000" stroke-width="0.8"/>
<line x1="681.60" y1="112.66" x2="683.00" y2="112.66" stroke="#000" stroke-width="0.8"/>
<line x1="585.50" y1="102.33" x2="587.50" y2="102.33" stroke="#000" stroke-width="0.8"/>
<line x1="681.60" y1="102.33" x2="683.00" y2="102.33" stroke="#000" stroke-width="0.8"/>
<line x1="585.50" y1="96.28" x2="587.50" y2="96.28" stroke="#000" stroke-width="0.8"/>
<line x1="681.60" y1="96.28" x2="683.00" y2="96.28" stroke="#000" stroke-width="0.8"/>
<line x1="585.50" y1="91.99" x2="587.50" y2="91.99" stroke="#000" stroke-width="0.8"/>
<line x1="681.60" y1="91.99" x2="683.00" y2="91.99" stroke="#000" stroke-width="0.8"/>
<line x1="586.50" y1="121.20" x2="586.50" y2="124.80" stroke="#000" stroke-width="1.0"/>
<line x1="586.50" y1="20.00" x2="586.50" y2="22.60" stroke="#000" stroke-width="1.0"/>
<text x="0" y="0" font-size="9.8" text-anchor="start" transform="translate(582.30 134.00) scale(0.9 1)">10<tspan font-size="5.8" dy="-3.3">-2</tspan></text>
<line x1="624.80" y1="121.20" x2="624.80" y2="124.80" stroke="#000" stroke-width="1.0"/>
<line x1="624.80" y1="20.00" x2="624.80" y2="22.60" stroke="#000" stroke-width="1.0"/>
<text x="0" y="0" font-size="9.8" text-anchor="start" transform="translate(620.60 134.00) scale(0.9 1)">10<tspan font-size="5.8" dy="-3.3">-1</tspan></text>
<line x1="663.10" y1="121.20" x2="663.10" y2="124.80" stroke="#000" stroke-width="1.0"/>
<line x1="663.10" y1="20.00" x2="663.10" y2="22.60" stroke="#000" stroke-width="1.0"/>
<text x="0" y="0" font-size="9.8" text-anchor="start" transform="translate(658.90 134.00) scale(0.9 1)">10<tspan font-size="5.8" dy="-3.3">0</tspan></text>
<line x1="598.03" y1="122.00" x2="598.03" y2="124.00" stroke="#000" stroke-width="0.8"/>
<line x1="598.03" y1="20.00" x2="598.03" y2="21.40" stroke="#000" stroke-width="0.8"/>
<line x1="609.56" y1="122.00" x2="609.56" y2="124.00" stroke="#000" stroke-width="0.8"/>
<line x1="609.56" y1="20.00" x2="609.56" y2="21.40" stroke="#000" stroke-width="0.8"/>
<line x1="616.30" y1="122.00" x2="616.30" y2="124.00" stroke="#000" stroke-width="0.8"/>
<line x1="616.30" y1="20.00" x2="616.30" y2="21.40" stroke="#000" stroke-width="0.8"/>
<line x1="621.09" y1="122.00" x2="621.09" y2="124.00" stroke="#000" stroke-width="0.8"/>
<line x1="621.09" y1="20.00" x2="621.09" y2="21.40" stroke="#000" stroke-width="0.8"/>
<line x1="636.33" y1="122.00" x2="636.33" y2="124.00" stroke="#000" stroke-width="0.8"/>
<line x1="636.33" y1="20.00" x2="636.33" y2="21.40" stroke="#000" stroke-width="0.8"/>
<line x1="647.86" y1="122.00" x2="647.86" y2="124.00" stroke="#000" stroke-width="0.8"/>
<line x1="647.86" y1="20.00" x2="647.86" y2="21.40" stroke="#000" stroke-width="0.8"/>
<line x1="654.60" y1="122.00" x2="654.60" y2="124.00" stroke="#000" stroke-width="0.8"/>
<line x1="654.60" y1="20.00" x2="654.60" y2="21.40" stroke="#000" stroke-width="0.8"/>
<line x1="659.39" y1="122.00" x2="659.39" y2="124.00" stroke="#000" stroke-width="0.8"/>
<line x1="659.39" y1="20.00" x2="659.39" y2="21.40" stroke="#000" stroke-width="0.8"/>
<line x1="674.63" y1="122.00" x2="674.63" y2="124.00" stroke="#000" stroke-width="0.8"/>
<line x1="674.63" y1="20.00" x2="674.63" y2="21.40" stroke="#000" stroke-width="0.8"/>
<text x="642.00" y="141.00" font-size="9" font-weight="bold" text-anchor="middle" fill="#000">t (s)</text>
<text x="567.40" y="73.30" font-size="9.0" font-weight="bold" text-anchor="middle" fill="#000" transform="rotate(-90 567.4 73.3)">MSD (μm²)</text>
<circle cx="598.00" cy="33.40" r="1.60" fill="#e0161b"/>
<text x="602.60" y="36.80" font-size="9" font-weight="bold" text-anchor="start" fill="#000"><tspan font-weight="bold">h0</tspan><tspan font-size="5.4" font-weight="bold">+Trp</tspan></text>
<circle cx="598.00" cy="46.70" r="1.60" fill="#000"/>
<text x="602.60" y="50.00" font-size="9" font-weight="bold" text-anchor="start" fill="#000"><tspan font-weight="bold">h0</tspan><tspan font-size="5.4" font-weight="bold">-Trp</tspan></text>
<defs>
<radialGradient id="gcond" cx="50%" cy="50%" r="50%"><stop offset="0" stop-color="#e6f7e2"/><stop offset="0.6" stop-color="#bfe8bb"/><stop offset="1" stop-color="#a6dea2"/></radialGradient>
<radialGradient id="cell" cx="50%" cy="50%" r="55%"><stop offset="0" stop-color="#fffbf6"/><stop offset="0.6" stop-color="#fef2e5"/><stop offset="1" stop-color="#fce5cc"/></radialGradient>
<radialGradient id="star" cx="50%" cy="50%" r="50%"><stop offset="0" stop-color="#14145a"/><stop offset="0.28" stop-color="#2c38c8"/><stop offset="0.55" stop-color="#4656fa"/><stop offset="1" stop-color="#6474ff"/></radialGradient>
<linearGradient id="tube" x1="0" y1="0" x2="1" y2="0"><stop offset="0" stop-color="#a8c8e8"/><stop offset="0.5" stop-color="#d0e4f6"/><stop offset="1" stop-color="#98bce0"/></linearGradient>
<radialGradient id="star2" cx="50%" cy="50%" r="50%"><stop offset="0" stop-color="#202080"/><stop offset="0.45" stop-color="#3c48e0"/><stop offset="1" stop-color="#6a7cff"/></radialGradient>
</defs>
<text x="2.60" y="162.20" font-size="12" font-weight="bold" text-anchor="start" fill="#000">f</text>
<path d="M6.60,170.80 L2.62,177.70 L10.58,177.70Z" fill="#a99cf4" stroke="none" stroke-width="1"/>
<text x="15.60" y="178.40" font-size="9" font-weight="bold" text-anchor="start" fill="#000">SEPHCHC</text>
<path d="M77.97,170.27 L79.72,173.11 L83.04,172.75 L80.88,175.29 L82.25,178.33 L79.16,177.07 L76.70,179.31 L76.95,175.99 L74.05,174.33 L77.29,173.54Z" fill="#0b3fdc" stroke="none" stroke-width="1"/>
<text x="85.60" y="178.40" font-size="9" font-weight="bold" text-anchor="start" fill="#000">SHCHC</text>
<rect x="2.40" y="184.70" width="53.10" height="54.90" fill="none" stroke="#111" stroke-width="0.9" stroke-dasharray="1.1 1.1"/>
<path d="M10.10,188.90 L7.50,193.40 L12.70,193.40Z" fill="#a99cf4" stroke="none" stroke-width="1"/>
<path d="M16.90,192.70 L19.50,188.20 L14.30,188.20Z" fill="#a99cf4" stroke="none" stroke-width="1"/>
<path d="M13.60,192.90 L13.60,198.10 L18.10,195.50Z" fill="#a99cf4" stroke="none" stroke-width="1"/>
<path d="M21.40,192.90 L21.40,198.10 L25.90,195.50Z" fill="#a99cf4" stroke="none" stroke-width="1"/>
<path d="M9.40,197.90 L6.80,202.40 L12.00,202.40Z" fill="#a99cf4" stroke="none" stroke-width="1"/>
<path d="M15.80,200.30 L15.80,205.50 L20.30,202.90Z" fill="#a99cf4" stroke="none" stroke-width="1"/>
<path d="M10.10,211.90 L11.03,214.13 L13.43,214.32 L11.60,215.89 L12.16,218.23 L10.10,216.97 L8.04,218.23 L8.60,215.89 L6.77,214.32 L9.17,214.13Z" fill="#0b3fdc" stroke="none" stroke-width="1"/>
<path d="M9.70,221.70 L10.63,223.93 L13.03,224.12 L11.20,225.69 L11.76,228.03 L9.70,226.77 L7.64,228.03 L8.20,225.69 L6.37,224.12 L8.77,223.93Z" fill="#0b3fdc" stroke="none" stroke-width="1"/>
<path d="M21.90,224.80 L22.83,227.03 L25.23,227.22 L23.40,228.79 L23.96,231.13 L21.90,229.88 L19.84,231.13 L20.40,228.79 L18.57,227.22 L20.97,227.03Z" fill="#0b3fdc" stroke="none" stroke-width="1"/>
<path d="M23.60,233.80 L24.53,236.03 L26.93,236.22 L25.10,237.79 L25.66,240.13 L23.60,238.88 L21.54,240.13 L22.10,237.79 L20.27,236.22 L22.67,236.03Z" fill="#0b3fdc" stroke="none" stroke-width="1"/>
<path d="M53.58,211.70 L53.23,213.22 L52.62,214.64 L51.88,215.95 L51.15,217.20 L50.49,218.45 L49.89,219.76 L49.27,221.12 L48.51,222.48 L47.52,223.71 L46.29,224.66 L44.83,225.24 L43.25,225.41 L41.67,225.22 L40.18,224.80 L38.80,224.33 L37.51,223.97 L36.23,223.81 L34.86,223.83 L33.35,223.93 L31.73,223.95 L30.08,223.71 L28.54,223.10 L27.27,222.08 L26.37,220.73 L25.86,219.17 L25.69,217.54 L25.72,215.95 L25.80,214.46 L25.80,213.07 L25.68,211.70 L25.48,210.30 L25.33,208.84 L25.35,207.33 L25.66,205.85 L26.33,204.50 L27.32,203.36 L28.53,202.45 L29.84,201.75 L31.12,201.13 L32.34,200.50 L33.48,199.76 L34.63,198.88 L35.87,197.93 L37.26,197.05 L38.80,196.43 L40.43,196.23 L42.03,196.52 L43.48,197.30 L44.70,198.44 L45.68,199.78 L46.48,201.13 L47.21,202.36 L48.00,203.42 L48.94,204.33 L50.02,205.22 L51.18,206.19 L52.25,207.33 L53.09,208.66 L53.55,210.15Z" fill="url(#gcond)" stroke="none" stroke-width="1" filter="url(#blur)"/>
<path d="M41.1,212.1 Q46.8,213.4 47.5,218.7" fill="none" stroke="#5cbf68" stroke-width="0.8"/>
<path d="M39.6,213.9 Q40.9,216.3 37.1,222.7" fill="none" stroke="#5cbf68" stroke-width="0.8"/>
<path d="M37.3,213.5 Q35.4,212.6 28.4,215.8" fill="none" stroke="#5cbf68" stroke-width="0.8"/>
<path d="M36.5,211.3 Q35.8,206.0 30.1,204.7" fill="none" stroke="#5cbf68" stroke-width="0.8"/>
<path d="M38.0,209.5 Q41.7,203.1 40.5,200.7" fill="none" stroke="#5cbf68" stroke-width="0.8"/>
<path d="M40.3,209.9 Q47.2,206.8 49.2,207.6" fill="none" stroke="#5cbf68" stroke-width="0.8"/>
<circle cx="37.80" cy="204.30" r="2.36" fill="#f9dccf"/>
<path d="M36.83,202.62 A1.94,1.94 0 1 1 35.97,204.96" fill="none" stroke="#ee8872" stroke-width="1.8258999999999999"/>
<circle cx="44.30" cy="208.00" r="2.36" fill="#f9dccf"/>
<path d="M42.62,207.03 A1.94,1.94 0 1 1 43.05,209.49" fill="none" stroke="#ee8872" stroke-width="1.8258999999999999"/>
<circle cx="33.80" cy="210.80" r="2.36" fill="#f9dccf"/>
<path d="M32.83,209.12 A1.94,1.94 0 1 1 31.97,211.46" fill="none" stroke="#ee8872" stroke-width="1.8258999999999999"/>
<circle cx="32.40" cy="219.80" r="2.36" fill="#f9dccf"/>
<path d="M31.15,218.31 A1.94,1.94 0 1 1 30.72,220.77" fill="none" stroke="#ee8872" stroke-width="1.8258999999999999"/>
<circle cx="43.50" cy="220.50" r="2.36" fill="#f9dccf"/>
<path d="M41.82,219.53 A1.94,1.94 0 1 1 42.25,221.99" fill="none" stroke="#ee8872" stroke-width="1.8258999999999999"/>
<path d="M27.00,195.00 Q53.00,211.00 29.50,232.50" fill="none" stroke="#a0a0a0" stroke-width="2.6" opacity="0.6"/>
<path d="M27.66,234.19 L27.61,230.43 L31.39,234.57Z" fill="#a0a0a0" stroke="none" stroke-width="1" opacity="0.7"/>
<rect x="64.95" y="201.10" width="15.70" height="2.60" fill="#6e6a68" rx="0.5"/>
<clipPath id="tb72"><path d="M66.55,203.70 L79.05,203.70 L79.05,218.59 Q78.05,232.80 74.40,236.80 L71.20,236.80 Q67.55,232.80 66.55,218.59 Z"/></clipPath>
<path d="M66.55,203.70 L79.05,203.70 L79.05,218.59 Q78.05,232.80 74.40,236.80 L71.20,236.80 Q67.55,232.80 66.55,218.59 Z" fill="url(#tube)" stroke="none" stroke-width="1"/>
<rect x="66.55" y="203.70" width="12.50" height="6.00" fill="#f3ede6" clip-path="url(#tb72)"/>
<path d="M66.55,203.70 L79.05,203.70 L79.05,218.59 Q78.05,232.80 74.40,236.80 L71.20,236.80 Q67.55,232.80 66.55,218.59 Z" fill="none" stroke="#8c8c8c" stroke-width="0.8"/>
<rect x="69.80" y="212.50" width="5.80" height="5.80" fill="none" stroke="#4a5a6a" stroke-width="0.7"/>
<line x1="55.50" y1="184.70" x2="68.00" y2="211.50" stroke="#111" stroke-width="0.8" stroke-dasharray="1.1 1.1"/>
<line x1="55.50" y1="239.60" x2="68.80" y2="220.30" stroke="#111" stroke-width="0.8" stroke-dasharray="1.1 1.1"/>
<line x1="81.50" y1="216.70" x2="138.60" y2="186.40" stroke="#000" stroke-width="1.1"/>
<path d="M138.60,186.40 L135.73,189.96 L134.05,186.78Z" fill="#000" stroke="none" stroke-width="1"/>
<line x1="81.50" y1="216.70" x2="139.40" y2="247.50" stroke="#000" stroke-width="1.1"/>
<path d="M139.40,247.50 L134.85,247.12 L136.54,243.94Z" fill="#000" stroke="none" stroke-width="1"/>
<text x="87.60" y="206.30" font-size="9.2" font-weight="bold" text-anchor="start" fill="#000" transform="rotate(-27.5 87.6 206.3)">+ Glycine</text>
<text x="81.00" y="229.60" font-size="9.2" font-weight="bold" text-anchor="start" fill="#000" transform="rotate(27.8 81.0 229.6)">+ Tryptophan</text>
<rect x="140.40" y="159.00" width="52.60" height="55.40" fill="none" stroke="#111" stroke-width="0.9" stroke-dasharray="1.1 1.1"/>
<path d="M147.10,162.80 L144.50,167.30 L149.70,167.30Z" fill="#a99cf4" stroke="none" stroke-width="1"/>
<path d="M153.90,167.20 L156.50,162.70 L151.30,162.70Z" fill="#a99cf4" stroke="none" stroke-width="1"/>
<path d="M150.80,167.00 L150.80,172.20 L155.30,169.60Z" fill="#a99cf4" stroke="none" stroke-width="1"/>
<path d="M158.50,167.00 L158.50,172.20 L163.00,169.60Z" fill="#a99cf4" stroke="none" stroke-width="1"/>
<path d="M146.90,172.20 L144.30,176.70 L149.50,176.70Z" fill="#a99cf4" stroke="none" stroke-width="1"/>
<path d="M153.10,174.30 L153.10,179.50 L157.60,176.90Z" fill="#a99cf4" stroke="none" stroke-width="1"/>
<path d="M156.30,188.60 L157.23,190.83 L159.63,191.02 L157.80,192.59 L158.36,194.93 L156.30,193.67 L154.24,194.93 L154.80,192.59 L152.97,191.02 L155.37,190.83Z" fill="#0b3fdc" stroke="none" stroke-width="1"/>
<path d="M146.50,194.00 L147.43,196.23 L149.83,196.42 L148.00,197.99 L148.56,200.33 L146.50,199.07 L144.44,200.33 L145.00,197.99 L143.17,196.42 L145.57,196.23Z" fill="#0b3fdc" stroke="none" stroke-width="1"/>
<path d="M165.40,195.80 L166.33,198.03 L168.73,198.22 L166.90,199.79 L167.46,202.13 L165.40,200.88 L163.34,202.13 L163.90,199.79 L162.07,198.22 L164.47,198.03Z" fill="#0b3fdc" stroke="none" stroke-width="1"/>
<path d="M155.90,198.70 L156.83,200.93 L159.23,201.12 L157.40,202.69 L157.96,205.03 L155.90,203.77 L153.84,205.03 L154.40,202.69 L152.57,201.12 L154.97,200.93Z" fill="#0b3fdc" stroke="none" stroke-width="1"/>
<path d="M147.80,203.90 L148.73,206.13 L151.13,206.32 L149.30,207.89 L149.86,210.23 L147.80,208.97 L145.74,210.23 L146.30,207.89 L144.47,206.32 L146.87,206.13Z" fill="#0b3fdc" stroke="none" stroke-width="1"/>
<path d="M160.90,205.50 L161.83,207.73 L164.23,207.92 L162.40,209.49 L162.96,211.83 L160.90,210.57 L158.84,211.83 L159.40,209.49 L157.57,207.92 L159.97,207.73Z" fill="#0b3fdc" stroke="none" stroke-width="1"/>
<circle cx="177.50" cy="184.70" r="14.20" fill="url(#gcond)" filter="url(#blur)"/>
<path d="M173.56,188.60 L172.73,188.62 L171.95,188.47 L171.30,188.13 L170.86,187.61 L170.69,186.97 L170.81,186.27 L171.17,185.58 L171.72,184.97 L172.35,184.47 L172.97,184.08 L173.48,183.77 L173.81,183.48 L173.95,183.15 L173.92,182.73 L173.77,182.18 L173.58,181.49 L173.44,180.70 L173.43,179.87 L173.60,179.11 L173.96,178.49 L174.50,178.10 L175.16,177.97 L175.87,178.13 L176.56,178.52" fill="none" stroke="#5ab866" stroke-width="0.8" opacity="0.9" stroke-linecap="round"/>
<path d="M170.58,191.22 L169.52,190.94 L168.53,190.48 L167.71,189.81 L167.13,188.95 L166.86,187.96 L166.90,186.91 L167.22,185.88 L167.76,184.92 L168.41,184.07 L169.08,183.33 L169.67,182.68 L170.12,182.05 L170.41,181.40 L170.55,180.65 L170.61,179.79 L170.66,178.81 L170.79,177.75 L171.07,176.69 L171.55,175.72 L172.24,174.92 L173.12,174.38 L174.12,174.15 L175.18,174.23 L176.21,174.57" fill="none" stroke="#5ab866" stroke-width="0.8" opacity="0.9" stroke-linecap="round"/>
<path d="M169.36,178.25 L169.53,177.10 L169.90,176.00 L170.51,175.03 L171.34,174.30 L172.35,173.84 L173.47,173.70 L174.62,173.84 L175.73,174.22 L176.74,174.73 L177.65,175.29 L178.46,175.78 L179.23,176.15 L180.00,176.36 L180.83,176.42 L181.77,176.38 L182.81,176.33 L183.94,176.35 L185.10,176.53 L186.19,176.92 L187.13,177.56 L187.83,178.41 L188.24,179.44 L188.35,180.57 L188.18,181.72" fill="none" stroke="#5ab866" stroke-width="0.8" opacity="0.9" stroke-linecap="round"/>
<path d="M182.64,182.51 L183.42,182.79 L184.09,183.23 L184.57,183.79 L184.79,184.43 L184.71,185.10 L184.34,185.71 L183.75,186.22 L183.02,186.59 L182.24,186.83 L181.52,186.97 L180.93,187.07 L180.51,187.22 L180.26,187.47 L180.13,187.88 L180.06,188.46 L179.99,189.17 L179.82,189.96 L179.52,190.73 L179.08,191.38 L178.51,191.82 L177.86,191.99 L177.19,191.86 L176.59,191.45 L176.09,190.83" fill="none" stroke="#5ab866" stroke-width="0.8" opacity="0.9" stroke-linecap="round"/>
<path d="M169.08,183.16 L168.66,182.22 L168.42,181.23 L168.44,180.25 L168.75,179.35 L169.33,178.62 L170.15,178.10 L171.11,177.81 L172.13,177.73 L173.13,177.80 L174.05,177.95 L174.85,178.07 L175.53,178.09 L176.15,177.96 L176.75,177.65 L177.39,177.19 L178.12,176.64 L178.97,176.11 L179.90,175.69 L180.89,175.48 L181.86,175.53 L182.74,175.88 L183.45,176.50 L183.94,177.34 L184.21,178.32" fill="none" stroke="#5ab866" stroke-width="0.8" opacity="0.9" stroke-linecap="round"/>
<path d="M178.08,190.01 L177.60,190.66 L177.01,191.18 L176.36,191.48 L175.70,191.50 L175.11,191.24 L174.65,190.72 L174.36,190.02 L174.23,189.22 L174.25,188.43 L174.34,187.71 L174.43,187.14 L174.43,186.71 L174.27,186.41 L173.92,186.19 L173.40,185.99 L172.75,185.72 L172.05,185.36 L171.40,184.88 L170.90,184.28 L170.65,183.63 L170.67,182.98 L170.98,182.41 L171.54,181.97 L172.26,181.69" fill="none" stroke="#5ab866" stroke-width="0.8" opacity="0.9" stroke-linecap="round"/>
<circle cx="175.80" cy="181.50" r="2.16" fill="#f9dccf"/>
<path d="M174.91,179.96 A1.78,1.78 0 1 1 174.13,182.11" fill="none" stroke="#ee8872" stroke-width="1.67276"/>
<circle cx="183.50" cy="178.50" r="2.16" fill="#f9dccf"/>
<path d="M181.96,177.61 A1.78,1.78 0 1 1 182.36,179.86" fill="none" stroke="#ee8872" stroke-width="1.67276"/>
<circle cx="168.50" cy="184.50" r="2.16" fill="#f9dccf"/>
<path d="M167.61,182.96 A1.78,1.78 0 1 1 166.83,185.11" fill="none" stroke="#ee8872" stroke-width="1.67276"/>
<circle cx="172.50" cy="192.00" r="2.16" fill="#f9dccf"/>
<path d="M171.36,190.64 A1.78,1.78 0 1 1 170.96,192.89" fill="none" stroke="#ee8872" stroke-width="1.67276"/>
<circle cx="182.50" cy="190.50" r="2.16" fill="#f9dccf"/>
<path d="M180.96,189.61 A1.78,1.78 0 1 1 181.36,191.86" fill="none" stroke="#ee8872" stroke-width="1.67276"/>
<path d="M166.00,170.50 Q190.00,185.00 168.50,207.00" fill="none" stroke="#a0a0a0" stroke-width="2.6" opacity="0.6"/>
<path d="M166.75,208.79 L166.50,205.04 L170.50,208.96Z" fill="#a0a0a0" stroke="none" stroke-width="1" opacity="0.7"/>
<rect x="201.35" y="175.20" width="15.70" height="2.60" fill="#6e6a68" rx="0.5"/>
<clipPath id="tb209"><path d="M202.95,177.80 L215.45,177.80 L215.45,192.42 Q214.45,206.30 210.80,210.30 L207.60,210.30 Q203.95,206.30 202.95,192.42 Z"/></clipPath>
<path d="M202.95,177.80 L215.45,177.80 L215.45,192.42 Q214.45,206.30 210.80,210.30 L207.60,210.30 Q203.95,206.30 202.95,192.42 Z" fill="url(#tube)" stroke="none" stroke-width="1"/>
<rect x="202.95" y="177.80" width="12.50" height="6.00" fill="#f3ede6" clip-path="url(#tb209)"/>
<path d="M202.95,177.80 L215.45,177.80 L215.45,192.42 Q214.45,206.30 210.80,210.30 L207.60,210.30 Q203.95,206.30 202.95,192.42 Z" fill="none" stroke="#8c8c8c" stroke-width="0.8"/>
<rect x="206.20" y="186.60" width="5.80" height="5.80" fill="none" stroke="#4a5a6a" stroke-width="0.7"/>
<line x1="193.00" y1="159.00" x2="203.20" y2="179.00" stroke="#111" stroke-width="0.8" stroke-dasharray="1.1 1.1"/>
<line x1="193.00" y1="214.40" x2="204.10" y2="196.80" stroke="#111" stroke-width="0.8" stroke-dasharray="1.1 1.1"/>
<rect x="140.40" y="217.40" width="52.90" height="55.30" fill="none" stroke="#111" stroke-width="0.9" stroke-dasharray="1.1 1.1"/>
<path d="M147.80,221.80 L145.20,226.30 L150.40,226.30Z" fill="#a99cf4" stroke="none" stroke-width="1"/>
<path d="M155.00,225.80 L157.60,221.30 L152.40,221.30Z" fill="#a99cf4" stroke="none" stroke-width="1"/>
<path d="M151.30,225.90 L151.30,231.10 L155.80,228.50Z" fill="#a99cf4" stroke="none" stroke-width="1"/>
<path d="M159.10,225.90 L159.10,231.10 L163.60,228.50Z" fill="#a99cf4" stroke="none" stroke-width="1"/>
<path d="M147.40,230.90 L144.80,235.40 L150.00,235.40Z" fill="#a99cf4" stroke="none" stroke-width="1"/>
<path d="M153.50,233.00 L153.50,238.20 L158.00,235.60Z" fill="#a99cf4" stroke="none" stroke-width="1"/>
<path d="M159.30,261.80 L160.23,264.03 L162.63,264.22 L160.80,265.79 L161.36,268.13 L159.30,266.88 L157.24,268.13 L157.80,265.79 L155.97,264.22 L158.37,264.03Z" fill="#0b3fdc" stroke="none" stroke-width="1"/>
<path d="M175.50,229.70 L176.74,229.94 L177.89,230.64 L178.87,231.68 L179.65,232.92 L180.27,234.19 L180.78,235.34 L181.29,236.26 L181.90,236.90 L182.69,237.28 L183.72,237.48 L184.97,237.61 L186.37,237.80 L187.79,238.17 L189.09,238.78 L190.10,239.65 L190.72,240.76 L190.87,242.01 L190.56,243.31 L189.88,244.57 L188.94,245.70 L187.92,246.68 L186.99,247.52 L186.27,248.29 L185.85,249.06 L185.73,249.94 L185.86,250.98 L186.12,252.21 L186.37,253.60 L186.46,255.06 L186.28,256.48 L185.76,257.72 L184.90,258.64 L183.76,259.18 L182.42,259.29 L181.02,259.02 L179.65,258.48 L178.41,257.82 L177.32,257.19 L176.37,256.74 L175.50,256.58 L174.63,256.74 L173.68,257.19 L172.59,257.82 L171.35,258.48 L169.98,259.02 L168.58,259.29 L167.24,259.18 L166.10,258.64 L165.24,257.72 L164.72,256.48 L164.54,255.06 L164.63,253.60 L164.88,252.21 L165.14,250.98 L165.27,249.94 L165.15,249.06 L164.73,248.29 L164.01,247.52 L163.08,246.68 L162.06,245.70 L161.12,244.57 L160.44,243.31 L160.13,242.01 L160.28,240.76 L160.90,239.65 L161.91,238.78 L163.21,238.17 L164.63,237.80 L166.03,237.61 L167.28,237.48 L168.31,237.28 L169.10,236.90 L169.71,236.26 L170.22,235.34 L170.73,234.19 L171.35,232.92 L172.13,231.68 L173.11,230.64 L174.26,229.94Z" fill="url(#gcond)" stroke="none" stroke-width="1" filter="url(#blur)"/>
<path d="M179.90,244.37 L180.10,244.87 L180.33,245.30 L180.62,245.57 L180.97,245.66 L181.38,245.58 L181.84,245.36 L182.32,245.09 L182.79,244.84 L183.22,244.71 L183.60,244.74 L183.90,244.95 L184.15,245.33 L184.36,245.82 L184.55,246.33 L184.77,246.79 L185.03,247.12 L185.36,247.27 L185.76,247.24 L186.20,247.06 L186.68,246.80" fill="none" stroke="#52b25e" stroke-width="0.9" stroke-linecap="round"/>
<path d="M178.73,241.53 L178.25,241.79 L177.86,242.07 L177.62,242.38 L177.57,242.74 L177.71,243.14 L177.98,243.57 L178.31,244.02 L178.61,244.45 L178.79,244.86 L178.81,245.24 L178.63,245.57 L178.29,245.86 L177.83,246.12 L177.34,246.38 L176.91,246.65 L176.62,246.95 L176.50,247.30 L176.58,247.69 L176.81,248.11 L177.13,248.55" fill="none" stroke="#52b25e" stroke-width="0.9" stroke-linecap="round"/>
<path d="M174.78,250.24 L175.29,250.04 L175.71,249.81 L175.98,249.52 L176.07,249.17 L175.99,248.76 L175.77,248.30 L175.50,247.82 L175.26,247.35 L175.12,246.92 L175.15,246.55 L175.36,246.24 L175.74,245.99 L176.23,245.79 L176.75,245.59 L177.20,245.37 L177.53,245.11 L177.68,244.78 L177.66,244.39 L177.48,243.94 L177.21,243.46" fill="none" stroke="#52b25e" stroke-width="0.9" stroke-linecap="round"/>
<path d="M177.95,253.02 L178.27,252.58 L178.50,252.16 L178.57,251.77 L178.46,251.43 L178.17,251.13 L177.74,250.85 L177.25,250.60 L176.79,250.33 L176.45,250.04 L176.27,249.71 L176.29,249.34 L176.47,248.93 L176.77,248.49 L177.10,248.05 L177.37,247.62 L177.50,247.22 L177.46,246.86 L177.22,246.54 L176.83,246.26 L176.35,246.00" fill="none" stroke="#52b25e" stroke-width="0.9" stroke-linecap="round"/>
<path d="M178.14,249.06 L178.50,249.46 L178.87,249.78 L179.23,249.93 L179.59,249.90 L179.95,249.67 L180.30,249.31 L180.66,248.89 L181.01,248.49 L181.37,248.22 L181.73,248.12 L182.09,248.21 L182.45,248.48 L182.82,248.86 L183.18,249.28 L183.55,249.63 L183.91,249.85 L184.27,249.88 L184.63,249.71 L184.98,249.39 L185.34,248.97" fill="none" stroke="#52b25e" stroke-width="0.9" stroke-linecap="round"/>
<path d="M168.31,249.64 L168.38,250.18 L168.50,250.64 L168.70,250.98 L169.02,251.15 L169.44,251.17 L169.94,251.07 L170.47,250.93 L170.99,250.81 L171.44,250.78 L171.79,250.90 L172.04,251.19 L172.18,251.62 L172.26,252.14 L172.33,252.69 L172.43,253.19 L172.60,253.57 L172.88,253.80 L173.27,253.87 L173.75,253.80 L174.27,253.67" fill="none" stroke="#52b25e" stroke-width="0.9" stroke-linecap="round"/>
<path d="M177.00,250.75 L177.37,250.35 L177.65,249.96 L177.77,249.59 L177.71,249.23 L177.45,248.90 L177.06,248.58 L176.61,248.26 L176.18,247.94 L175.88,247.61 L175.74,247.26 L175.80,246.89 L176.04,246.51 L176.39,246.11 L176.77,245.71 L177.09,245.32 L177.27,244.94 L177.27,244.57 L177.07,244.23 L176.72,243.91 L176.28,243.59" fill="none" stroke="#52b25e" stroke-width="0.9" stroke-linecap="round"/>
<circle cx="170.50" cy="239.50" r="2.43" fill="#f9dccf"/>
<path d="M169.50,237.76 A2.01,2.01 0 1 1 168.61,240.19" fill="none" stroke="#ee8872" stroke-width="1.8848"/>
<circle cx="179.50" cy="241.50" r="2.43" fill="#f9dccf"/>
<path d="M177.76,240.50 A2.01,2.01 0 1 1 178.21,243.04" fill="none" stroke="#ee8872" stroke-width="1.8848"/>
<circle cx="176.00" cy="248.50" r="2.43" fill="#f9dccf"/>
<path d="M175.00,246.76 A2.01,2.01 0 1 1 174.11,249.19" fill="none" stroke="#ee8872" stroke-width="1.8848"/>
<circle cx="169.50" cy="254.50" r="2.43" fill="#f9dccf"/>
<path d="M168.21,252.96 A2.01,2.01 0 1 1 167.76,255.50" fill="none" stroke="#ee8872" stroke-width="1.8848"/>
<circle cx="183.00" cy="254.50" r="2.43" fill="#f9dccf"/>
<path d="M181.26,253.50 A2.01,2.01 0 1 1 181.71,256.04" fill="none" stroke="#ee8872" stroke-width="1.8848"/>
<path d="M164.00,228.20 Q189.00,245.00 166.70,264.60" fill="none" stroke="#a0a0a0" stroke-width="2.6" opacity="0.6"/>
<path d="M164.82,266.25 L164.85,262.50 L168.55,266.70Z" fill="#a0a0a0" stroke="none" stroke-width="1" opacity="0.7"/>
<rect x="202.95" y="235.20" width="15.70" height="2.60" fill="#6e6a68" rx="0.5"/>
<clipPath id="tb210"><path d="M204.55,237.80 L217.05,237.80 L217.05,252.29 Q216.05,266.00 212.40,270.00 L209.20,270.00 Q205.55,266.00 204.55,252.29 Z"/></clipPath>
<path d="M204.55,237.80 L217.05,237.80 L217.05,252.29 Q216.05,266.00 212.40,270.00 L209.20,270.00 Q205.55,266.00 204.55,252.29 Z" fill="url(#tube)" stroke="none" stroke-width="1"/>
<rect x="204.55" y="237.80" width="12.50" height="6.00" fill="#f3ede6" clip-path="url(#tb210)"/>
<path d="M204.55,237.80 L217.05,237.80 L217.05,252.29 Q216.05,266.00 212.40,270.00 L209.20,270.00 Q205.55,266.00 204.55,252.29 Z" fill="none" stroke="#8c8c8c" stroke-width="0.8"/>
<rect x="207.80" y="246.60" width="5.80" height="5.80" fill="none" stroke="#4a5a6a" stroke-width="0.7"/>
<line x1="193.30" y1="217.40" x2="205.20" y2="239.00" stroke="#111" stroke-width="0.8" stroke-dasharray="1.1 1.1"/>
<line x1="193.30" y1="272.70" x2="205.90" y2="255.90" stroke="#111" stroke-width="0.8" stroke-dasharray="1.1 1.1"/>
<text x="225.30" y="164.40" font-size="12" font-weight="bold" text-anchor="start" fill="#000">g</text>
<rect x="272.30" y="198.48" width="15.10" height="66.42" fill="#de1010" stroke="#000" stroke-width="0.9"/>
<rect x="299.00" y="255.15" width="16.30" height="9.75" fill="#000" stroke="#000" stroke-width="0.9"/>
<line x1="279.85" y1="202.66" x2="279.85" y2="194.06" stroke="#4a4a4a" stroke-width="1.0"/>
<line x1="277.45" y1="202.66" x2="282.25" y2="202.66" stroke="#4a4a4a" stroke-width="1.0"/>
<line x1="277.45" y1="194.06" x2="282.25" y2="194.06" stroke="#4a4a4a" stroke-width="1.0"/>
<circle cx="277.85" cy="199.87" r="1.90" fill="#5a5a5a"/>
<circle cx="282.35" cy="198.94" r="1.90" fill="#5a5a5a"/>
<circle cx="279.85" cy="196.15" r="1.90" fill="#5a5a5a"/>
<line x1="307.15" y1="264.44" x2="307.15" y2="246.32" stroke="#4a4a4a" stroke-width="1.0"/>
<line x1="304.75" y1="264.44" x2="309.55" y2="264.44" stroke="#4a4a4a" stroke-width="1.0"/>
<line x1="304.75" y1="246.32" x2="309.55" y2="246.32" stroke="#4a4a4a" stroke-width="1.0"/>
<circle cx="305.15" cy="257.47" r="1.90" fill="#5a5a5a"/>
<circle cx="309.15" cy="249.11" r="1.90" fill="#5a5a5a"/>
<circle cx="307.15" cy="261.18" r="1.90" fill="#5a5a5a"/>
<line x1="256.90" y1="162.20" x2="256.90" y2="265.40" stroke="#000" stroke-width="1.2"/>
<line x1="256.40" y1="264.90" x2="329.80" y2="264.90" stroke="#000" stroke-width="1.2"/>
<line x1="279.85" y1="264.90" x2="279.85" y2="266.90" stroke="#000" stroke-width="1.0"/>
<line x1="307.15" y1="264.90" x2="307.15" y2="266.90" stroke="#000" stroke-width="1.0"/>
<line x1="255.10" y1="264.90" x2="256.90" y2="264.90" stroke="#000" stroke-width="1.0"/>
<text x="0" y="0" font-size="9.2" font-weight="normal" text-anchor="end" fill="#000" transform="translate(253.30 268.40) scale(0.9 1)">0</text>
<line x1="255.10" y1="241.67" x2="256.90" y2="241.67" stroke="#000" stroke-width="1.0"/>
<text x="0" y="0" font-size="9.2" font-weight="normal" text-anchor="end" fill="#000" transform="translate(253.30 245.17) scale(0.9 1)">5</text>
<line x1="255.10" y1="218.45" x2="256.90" y2="218.45" stroke="#000" stroke-width="1.0"/>
<text x="0" y="0" font-size="9.2" font-weight="normal" text-anchor="end" fill="#000" transform="translate(253.30 221.95) scale(0.9 1)">10</text>
<line x1="255.10" y1="195.22" x2="256.90" y2="195.22" stroke="#000" stroke-width="1.0"/>
<text x="0" y="0" font-size="9.2" font-weight="normal" text-anchor="end" fill="#000" transform="translate(253.30 198.72) scale(0.9 1)">15</text>
<line x1="255.10" y1="172.00" x2="256.90" y2="172.00" stroke="#000" stroke-width="1.0"/>
<text x="0" y="0" font-size="9.2" font-weight="normal" text-anchor="end" fill="#000" transform="translate(253.30 175.50) scale(0.9 1)">20</text>
<line x1="255.80" y1="253.29" x2="256.90" y2="253.29" stroke="#000" stroke-width="0.8"/>
<line x1="255.80" y1="230.06" x2="256.90" y2="230.06" stroke="#000" stroke-width="0.8"/>
<line x1="255.80" y1="206.84" x2="256.90" y2="206.84" stroke="#000" stroke-width="0.8"/>
<line x1="255.80" y1="183.61" x2="256.90" y2="183.61" stroke="#000" stroke-width="0.8"/>
<path d="M279.50,188.00 L279.50,186.30 L306.50,186.30 L306.50,188.00" fill="none" stroke="#000" stroke-width="1.1"/>
<text x="266.00" y="183.40" font-size="9.5" font-weight="bold" text-anchor="start" fill="#000">p = 0.00142</text>
<text x="279.20" y="275.50" font-size="9" font-weight="bold" text-anchor="middle">h8<tspan font-size="5.3">+Gly</tspan></text>
<text x="307.50" y="275.50" font-size="9" font-weight="bold" text-anchor="middle">h8<tspan font-size="5.3">-Gly</tspan></text>
<text x="232.80" y="217.80" font-size="9.15" font-weight="bold" text-anchor="middle" fill="#000" transform="rotate(-90 232.8 217.8)">SHCHC reaction</text>
<text x="241.30" y="217.80" font-size="9.15" font-weight="bold" text-anchor="middle" fill="#000" transform="rotate(-90 241.3 217.8)">rate (μM/min)</text>
<text x="328.00" y="161.70" font-size="11.2" font-weight="bold" text-anchor="start" fill="#000">h</text>
<line x1="380.00" y1="168.10" x2="449.70" y2="168.10" stroke="#9a9a9a" stroke-width="1.0" stroke-dasharray="2.8 2.0"/>
<rect x="393.70" y="206.70" width="15.30" height="57.90" fill="#de1010" stroke="#000" stroke-width="0.9"/>
<rect x="420.40" y="248.20" width="15.40" height="16.41" fill="#000" stroke="#000" stroke-width="0.9"/>
<line x1="401.35" y1="209.60" x2="401.35" y2="204.29" stroke="#4a4a4a" stroke-width="1.0"/>
<line x1="398.95" y1="209.60" x2="403.75" y2="209.60" stroke="#4a4a4a" stroke-width="1.0"/>
<line x1="398.95" y1="204.29" x2="403.75" y2="204.29" stroke="#4a4a4a" stroke-width="1.0"/>
<circle cx="399.35" cy="209.60" r="1.90" fill="#5a5a5a"/>
<circle cx="403.35" cy="205.74" r="1.90" fill="#5a5a5a"/>
<line x1="428.10" y1="262.67" x2="428.10" y2="236.62" stroke="#4a4a4a" stroke-width="1.0"/>
<line x1="425.70" y1="262.67" x2="430.50" y2="262.67" stroke="#4a4a4a" stroke-width="1.0"/>
<line x1="425.70" y1="236.62" x2="430.50" y2="236.62" stroke="#4a4a4a" stroke-width="1.0"/>
<circle cx="426.10" cy="254.95" r="1.90" fill="#5a5a5a"/>
<circle cx="430.10" cy="245.30" r="1.90" fill="#5a5a5a"/>
<circle cx="428.10" cy="260.74" r="1.90" fill="#5a5a5a"/>
<line x1="380.00" y1="162.20" x2="380.00" y2="265.10" stroke="#000" stroke-width="1.2"/>
<line x1="379.50" y1="264.60" x2="449.70" y2="264.60" stroke="#000" stroke-width="1.2"/>
<line x1="401.35" y1="264.60" x2="401.35" y2="266.60" stroke="#000" stroke-width="1.0"/>
<line x1="428.10" y1="264.60" x2="428.10" y2="266.60" stroke="#000" stroke-width="1.0"/>
<line x1="378.20" y1="264.60" x2="380.00" y2="264.60" stroke="#000" stroke-width="1.0"/>
<text x="0" y="0" font-size="9.2" font-weight="normal" text-anchor="end" fill="#000" transform="translate(375.20 268.10) scale(0.9 1)">0.0</text>
<line x1="378.20" y1="245.30" x2="380.00" y2="245.30" stroke="#000" stroke-width="1.0"/>
<text x="0" y="0" font-size="9.2" font-weight="normal" text-anchor="end" fill="#000" transform="translate(375.20 248.80) scale(0.9 1)">0.2</text>
<line x1="378.20" y1="226.00" x2="380.00" y2="226.00" stroke="#000" stroke-width="1.0"/>
<text x="0" y="0" font-size="9.2" font-weight="normal" text-anchor="end" fill="#000" transform="translate(375.20 229.50) scale(0.9 1)">0.4</text>
<line x1="378.20" y1="206.70" x2="380.00" y2="206.70" stroke="#000" stroke-width="1.0"/>
<text x="0" y="0" font-size="9.2" font-weight="normal" text-anchor="end" fill="#000" transform="translate(375.20 210.20) scale(0.9 1)">0.6</text>
<line x1="378.20" y1="187.40" x2="380.00" y2="187.40" stroke="#000" stroke-width="1.0"/>
<text x="0" y="0" font-size="9.2" font-weight="normal" text-anchor="end" fill="#000" transform="translate(375.20 190.90) scale(0.9 1)">0.8</text>
<line x1="378.20" y1="168.10" x2="380.00" y2="168.10" stroke="#000" stroke-width="1.0"/>
<text x="0" y="0" font-size="9.2" font-weight="normal" text-anchor="end" fill="#000" transform="translate(375.20 171.60) scale(0.9 1)">1.0</text>
<line x1="378.90" y1="254.95" x2="380.00" y2="254.95" stroke="#000" stroke-width="0.8"/>
<line x1="378.90" y1="235.65" x2="380.00" y2="235.65" stroke="#000" stroke-width="0.8"/>
<line x1="378.90" y1="216.35" x2="380.00" y2="216.35" stroke="#000" stroke-width="0.8"/>
<line x1="378.90" y1="197.05" x2="380.00" y2="197.05" stroke="#000" stroke-width="0.8"/>
<line x1="378.90" y1="177.75" x2="380.00" y2="177.75" stroke="#000" stroke-width="0.8"/>
<path d="M401.50,198.10 L401.50,196.40 L428.50,196.40 L428.50,198.10" fill="none" stroke="#000" stroke-width="1.1"/>
<text x="390.00" y="194.50" font-size="9.5" font-weight="bold" text-anchor="start" fill="#000">p = 0.0153</text>
<text x="401.50" y="275.50" font-size="9" font-weight="bold" text-anchor="middle">h8<tspan font-size="5.3">+Gly</tspan></text>
<text x="430.00" y="275.50" font-size="9" font-weight="bold" text-anchor="middle">h8<tspan font-size="5.3">-Gly</tspan></text>
<text x="344.80" y="213.30" font-size="9.15" font-weight="bold" text-anchor="middle" fill="#000" transform="rotate(-90 344.8 213.3)">Relative SHCHC reaction</text>
<text x="352.80" y="212.70" font-size="9.15" font-weight="bold" text-anchor="middle" fill="#000" transform="rotate(-90 352.8 212.7)">rate (Condensates/</text>
<text x="361.10" y="213.70" font-size="9.15" font-weight="bold" text-anchor="middle" fill="#000" transform="rotate(-90 361.1 213.7)">No condensates)</text>
<text x="452.00" y="161.00" font-size="12" font-weight="bold" text-anchor="start" fill="#000">i</text>
<rect x="495.00" y="228.62" width="15.40" height="36.58" fill="#de1010" stroke="#000" stroke-width="0.9"/>
<rect x="531.30" y="178.16" width="15.30" height="87.04" fill="#000" stroke="#000" stroke-width="0.9"/>
<line x1="502.70" y1="230.47" x2="502.70" y2="226.54" stroke="#4a4a4a" stroke-width="1.0"/>
<line x1="500.30" y1="230.47" x2="505.10" y2="230.47" stroke="#4a4a4a" stroke-width="1.0"/>
<line x1="500.30" y1="226.54" x2="505.10" y2="226.54" stroke="#4a4a4a" stroke-width="1.0"/>
<circle cx="500.70" cy="228.16" r="1.90" fill="#5a5a5a"/>
<circle cx="504.70" cy="229.09" r="1.90" fill="#5a5a5a"/>
<line x1="538.95" y1="189.73" x2="538.95" y2="165.65" stroke="#4a4a4a" stroke-width="1.0"/>
<line x1="536.55" y1="189.73" x2="541.35" y2="189.73" stroke="#4a4a4a" stroke-width="1.0"/>
<line x1="536.55" y1="165.65" x2="541.35" y2="165.65" stroke="#4a4a4a" stroke-width="1.0"/>
<circle cx="536.95" cy="186.49" r="1.90" fill="#5a5a5a"/>
<circle cx="540.95" cy="181.86" r="1.90" fill="#5a5a5a"/>
<circle cx="538.95" cy="172.60" r="1.90" fill="#5a5a5a"/>
<line x1="489.20" y1="162.20" x2="489.20" y2="265.70" stroke="#000" stroke-width="1.2"/>
<line x1="488.70" y1="265.20" x2="554.50" y2="265.20" stroke="#000" stroke-width="1.2"/>
<line x1="502.70" y1="265.20" x2="502.70" y2="267.20" stroke="#000" stroke-width="1.0"/>
<line x1="538.95" y1="265.20" x2="538.95" y2="267.20" stroke="#000" stroke-width="1.0"/>
<line x1="487.40" y1="265.20" x2="489.20" y2="265.20" stroke="#000" stroke-width="1.0"/>
<text x="0" y="0" font-size="9.2" font-weight="normal" text-anchor="end" fill="#000" transform="translate(485.60 268.70) scale(0.9 1)">0</text>
<line x1="487.40" y1="242.05" x2="489.20" y2="242.05" stroke="#000" stroke-width="1.0"/>
<text x="0" y="0" font-size="9.2" font-weight="normal" text-anchor="end" fill="#000" transform="translate(485.60 245.55) scale(0.9 1)">5</text>
<line x1="487.40" y1="218.90" x2="489.20" y2="218.90" stroke="#000" stroke-width="1.0"/>
<text x="0" y="0" font-size="9.2" font-weight="normal" text-anchor="end" fill="#000" transform="translate(485.60 222.40) scale(0.9 1)">10</text>
<line x1="487.40" y1="195.75" x2="489.20" y2="195.75" stroke="#000" stroke-width="1.0"/>
<text x="0" y="0" font-size="9.2" font-weight="normal" text-anchor="end" fill="#000" transform="translate(485.60 199.25) scale(0.9 1)">15</text>
<line x1="487.40" y1="172.60" x2="489.20" y2="172.60" stroke="#000" stroke-width="1.0"/>
<text x="0" y="0" font-size="9.2" font-weight="normal" text-anchor="end" fill="#000" transform="translate(485.60 176.10) scale(0.9 1)">20</text>
<line x1="488.10" y1="253.62" x2="489.20" y2="253.62" stroke="#000" stroke-width="0.8"/>
<line x1="488.10" y1="230.47" x2="489.20" y2="230.47" stroke="#000" stroke-width="0.8"/>
<line x1="488.10" y1="207.32" x2="489.20" y2="207.32" stroke="#000" stroke-width="0.8"/>
<line x1="488.10" y1="184.18" x2="489.20" y2="184.18" stroke="#000" stroke-width="0.8"/>
<path d="M513.30,161.90 L513.30,160.20 L538.50,160.20 L538.50,161.90" fill="none" stroke="#000" stroke-width="1.1"/>
<text x="500.80" y="157.60" font-size="9.5" font-weight="bold" text-anchor="start" fill="#000">p = 0.00921</text>
<text x="503.70" y="275.50" font-size="9" font-weight="bold" text-anchor="middle">h0<tspan font-size="5.3">+Trp</tspan></text>
<text x="540.00" y="275.50" font-size="9" font-weight="bold" text-anchor="middle">h0<tspan font-size="5.3">-Trp</tspan></text>
<text x="463.40" y="217.50" font-size="9.15" font-weight="bold" text-anchor="middle" fill="#000" transform="rotate(-90 463.4 217.5)">SHCHC reaction</text>
<text x="471.40" y="217.20" font-size="9.15" font-weight="bold" text-anchor="middle" fill="#000" transform="rotate(-90 471.4 217.2)">rate (μM/min)</text>
<text x="566.60" y="163.60" font-size="11" font-weight="bold" text-anchor="start" fill="#000">j</text>
<line x1="611.60" y1="214.50" x2="682.70" y2="214.50" stroke="#9a9a9a" stroke-width="1.0" stroke-dasharray="2.8 2.0"/>
<rect x="626.00" y="239.25" width="16.00" height="24.75" fill="#de1010" stroke="#000" stroke-width="0.9"/>
<rect x="654.20" y="189.25" width="16.30" height="74.75" fill="#000" stroke="#000" stroke-width="0.9"/>
<line x1="634.00" y1="243.21" x2="634.00" y2="234.30" stroke="#4a4a4a" stroke-width="1.0"/>
<line x1="631.60" y1="243.21" x2="636.40" y2="243.21" stroke="#4a4a4a" stroke-width="1.0"/>
<line x1="631.60" y1="234.30" x2="636.40" y2="234.30" stroke="#4a4a4a" stroke-width="1.0"/>
<circle cx="632.00" cy="241.72" r="1.90" fill="#5a5a5a"/>
<circle cx="636.00" cy="238.26" r="1.90" fill="#5a5a5a"/>
<line x1="662.35" y1="196.19" x2="662.35" y2="182.32" stroke="#4a4a4a" stroke-width="1.0"/>
<line x1="659.95" y1="196.19" x2="664.75" y2="196.19" stroke="#4a4a4a" stroke-width="1.0"/>
<line x1="659.95" y1="182.32" x2="664.75" y2="182.32" stroke="#4a4a4a" stroke-width="1.0"/>
<circle cx="660.35" cy="194.70" r="1.90" fill="#5a5a5a"/>
<circle cx="664.35" cy="187.27" r="1.90" fill="#5a5a5a"/>
<line x1="611.60" y1="164.60" x2="611.60" y2="264.50" stroke="#000" stroke-width="1.2"/>
<line x1="611.10" y1="264.00" x2="682.70" y2="264.00" stroke="#000" stroke-width="1.2"/>
<line x1="634.00" y1="264.00" x2="634.00" y2="266.00" stroke="#000" stroke-width="1.0"/>
<line x1="662.35" y1="264.00" x2="662.35" y2="266.00" stroke="#000" stroke-width="1.0"/>
<line x1="609.80" y1="264.00" x2="611.60" y2="264.00" stroke="#000" stroke-width="1.0"/>
<text x="0" y="0" font-size="9.2" font-weight="normal" text-anchor="end" fill="#000" transform="translate(608.00 267.50) scale(0.9 1)">0.0</text>
<line x1="609.80" y1="239.25" x2="611.60" y2="239.25" stroke="#000" stroke-width="1.0"/>
<text x="0" y="0" font-size="9.2" font-weight="normal" text-anchor="end" fill="#000" transform="translate(608.00 242.75) scale(0.9 1)">0.5</text>
<line x1="609.80" y1="214.50" x2="611.60" y2="214.50" stroke="#000" stroke-width="1.0"/>
<text x="0" y="0" font-size="9.2" font-weight="normal" text-anchor="end" fill="#000" transform="translate(608.00 218.00) scale(0.9 1)">1.0</text>
<line x1="609.80" y1="189.75" x2="611.60" y2="189.75" stroke="#000" stroke-width="1.0"/>
<text x="0" y="0" font-size="9.2" font-weight="normal" text-anchor="end" fill="#000" transform="translate(608.00 193.25) scale(0.9 1)">1.5</text>
<line x1="609.80" y1="165.00" x2="611.60" y2="165.00" stroke="#000" stroke-width="1.0"/>
<text x="0" y="0" font-size="9.2" font-weight="normal" text-anchor="end" fill="#000" transform="translate(608.00 168.50) scale(0.9 1)">2.0</text>
<line x1="610.50" y1="251.62" x2="611.60" y2="251.62" stroke="#000" stroke-width="0.8"/>
<line x1="610.50" y1="226.88" x2="611.60" y2="226.88" stroke="#000" stroke-width="0.8"/>
<line x1="610.50" y1="202.12" x2="611.60" y2="202.12" stroke="#000" stroke-width="0.8"/>
<line x1="610.50" y1="177.38" x2="611.60" y2="177.38" stroke="#000" stroke-width="0.8"/>
<path d="M635.70,174.30 L635.70,172.60 L662.40,172.60 L662.40,174.30" fill="none" stroke="#000" stroke-width="1.1"/>
<text x="620.30" y="170.60" font-size="9.5" font-weight="bold">p = 5.23 × 10<tspan font-size="5.6" dy="-3.6">-4</tspan></text>
<text x="634.00" y="275.50" font-size="9" font-weight="bold" text-anchor="middle">h0<tspan font-size="5.3">+Trp</tspan></text>
<text x="665.30" y="275.50" font-size="9" font-weight="bold" text-anchor="middle">h0<tspan font-size="5.3">-Trp</tspan></text>
<text x="577.50" y="213.60" font-size="9.15" font-weight="bold" text-anchor="middle" fill="#000" transform="rotate(-90 577.5 213.6)">Relative SHCHC reaction</text>
<text x="586.00" y="213.60" font-size="9.15" font-weight="bold" text-anchor="middle" fill="#000" transform="rotate(-90 586.0 213.6)">rate (Condensates/</text>
<text x="594.50" y="213.60" font-size="9.15" font-weight="bold" text-anchor="middle" fill="#000" transform="rotate(-90 594.5 213.6)">No condensates)</text>
<text x="2.80" y="292.90" font-size="12" font-weight="bold" text-anchor="start" fill="#000">k</text>
<rect x="42.8" y="281.00" width="123.5" height="61.60" rx="30.80" ry="30.80" fill="url(#cell)"/>
<rect x="42.8" y="349.00" width="123.5" height="62.80" rx="31.40" ry="31.40" fill="url(#cell)"/>
<rect x="42.8" y="416.00" width="123.5" height="64.00" rx="32.00" ry="32.00" fill="url(#cell)"/>
<text x="2.8" y="313.0" font-size="9.1" font-weight="bold">Erluc1<tspan font-size="5.6">+Gly</tspan></text>
<text x="2.8" y="382.2" font-size="9.1" font-weight="bold">Erluc1<tspan font-size="5.6">+Trp</tspan></text>
<text x="9.20" y="452.70" font-size="9" font-weight="bold" text-anchor="start" fill="#000">Erluc1</text>
<text x="62.30" y="315.20" font-size="9.6" font-weight="bold" text-anchor="middle" fill="#000" transform="rotate(-52 62.3 315.2)">CLZ</text>
<text x="62.30" y="383.80" font-size="9.6" font-weight="bold" text-anchor="middle" fill="#000" transform="rotate(-52 62.3 383.79999999999995)">CLZ</text>
<text x="62.30" y="451.40" font-size="9.6" font-weight="bold" text-anchor="middle" fill="#000" transform="rotate(-52 62.3 451.4)">CLZ</text>
<circle cx="92.80" cy="313.80" r="20.50" fill="url(#gcond)" filter="url(#blur)"/>
<path d="M88.85,324.69 L87.48,325.10 L86.08,325.24 L84.74,325.01 L83.59,324.41 L82.74,323.44 L82.24,322.21 L82.10,320.83 L82.26,319.41 L82.64,318.07 L83.09,316.87 L83.48,315.83 L83.68,314.92 L83.64,314.08 L83.34,313.23 L82.83,312.27 L82.22,311.17 L81.64,309.91 L81.24,308.54 L81.14,307.14 L81.41,305.83 L82.08,304.72 L83.08,303.92 L84.35,303.46 L85.75,303.35" fill="none" stroke="#5ab866" stroke-width="0.8" opacity="0.9" stroke-linecap="round"/>
<path d="M95.25,299.08 L96.82,298.50 L98.47,298.20 L100.10,298.29 L101.61,298.82 L102.88,299.78 L103.84,301.09 L104.45,302.64 L104.74,304.29 L104.80,305.93 L104.73,307.45 L104.67,308.82 L104.74,310.03 L105.01,311.15 L105.51,312.24 L106.21,313.39 L107.01,314.67 L107.77,316.10 L108.35,317.68 L108.62,319.32 L108.48,320.94 L107.89,322.43 L106.88,323.66 L105.53,324.58 L103.97,325.17" fill="none" stroke="#5ab866" stroke-width="0.8" opacity="0.9" stroke-linecap="round"/>
<path d="M101.54,311.32 L102.62,311.96 L103.52,312.80 L104.11,313.78 L104.29,314.84 L104.04,315.87 L103.39,316.77 L102.42,317.48 L101.27,317.96 L100.07,318.24 L98.96,318.39 L98.04,318.50 L97.34,318.70 L96.86,319.08 L96.53,319.69 L96.25,320.55 L95.92,321.60 L95.45,322.72 L94.80,323.79 L93.95,324.66 L92.96,325.19 L91.91,325.31 L90.89,324.99 L90.00,324.28 L89.31,323.28" fill="none" stroke="#5ab866" stroke-width="0.8" opacity="0.9" stroke-linecap="round"/>
<path d="M89.59,324.88 L88.26,325.38 L86.87,325.61 L85.53,325.48 L84.35,324.95 L83.43,324.05 L82.85,322.86 L82.62,321.49 L82.70,320.07 L82.99,318.71 L83.36,317.48 L83.68,316.43 L83.83,315.51 L83.73,314.68 L83.37,313.85 L82.80,312.94 L82.12,311.88 L81.46,310.67 L80.97,309.33 L80.77,307.95 L80.96,306.63 L81.54,305.48 L82.49,304.61 L83.72,304.08 L85.11,303.88" fill="none" stroke="#5ab866" stroke-width="0.8" opacity="0.9" stroke-linecap="round"/>
<path d="M100.36,319.31 L100.50,320.58 L100.38,321.82 L99.94,322.91 L99.21,323.72 L98.22,324.17 L97.09,324.22 L95.91,323.90 L94.79,323.29 L93.81,322.53 L92.99,321.75 L92.30,321.09 L91.69,320.66 L91.08,320.51 L90.36,320.62 L89.49,320.92 L88.45,321.29 L87.25,321.61 L85.98,321.74 L84.76,321.58 L83.72,321.11 L82.96,320.33 L82.57,319.32 L82.57,318.16 L82.93,316.97" fill="none" stroke="#5ab866" stroke-width="0.8" opacity="0.9" stroke-linecap="round"/>
<path d="M99.56,308.37 L100.78,308.52 L101.92,308.91 L102.83,309.55 L103.40,310.41 L103.56,311.42 L103.30,312.47 L102.68,313.46 L101.80,314.32 L100.81,315.00 L99.86,315.53 L99.06,315.96 L98.51,316.38 L98.23,316.88 L98.19,317.54 L98.29,318.41 L98.42,319.47 L98.45,320.67 L98.30,321.89 L97.88,322.99 L97.21,323.85 L96.32,324.36 L95.30,324.45 L94.24,324.13 L93.25,323.47" fill="none" stroke="#5ab866" stroke-width="0.8" opacity="0.9" stroke-linecap="round"/>
<circle cx="87.50" cy="304.50" r="2.72" fill="#f9dccf"/>
<path d="M86.38,302.56 A2.24,2.24 0 1 1 85.39,305.27" fill="none" stroke="#ee8872" stroke-width="2.108"/>
<circle cx="99.00" cy="307.00" r="2.72" fill="#f9dccf"/>
<path d="M97.06,305.88 A2.24,2.24 0 1 1 97.56,308.72" fill="none" stroke="#ee8872" stroke-width="2.108"/>
<circle cx="91.00" cy="315.50" r="2.72" fill="#f9dccf"/>
<path d="M89.88,313.56 A2.24,2.24 0 1 1 88.89,316.27" fill="none" stroke="#ee8872" stroke-width="2.108"/>
<circle cx="82.00" cy="323.50" r="2.72" fill="#f9dccf"/>
<path d="M80.56,321.78 A2.24,2.24 0 1 1 80.06,324.62" fill="none" stroke="#ee8872" stroke-width="2.108"/>
<circle cx="101.00" cy="320.00" r="2.72" fill="#f9dccf"/>
<path d="M99.06,318.88 A2.24,2.24 0 1 1 99.56,321.72" fill="none" stroke="#ee8872" stroke-width="2.108"/>
<path d="M90.50,357.50 L92.24,357.84 L93.85,358.82 L95.23,360.28 L96.34,362.03 L97.21,363.81 L97.92,365.43 L98.64,366.72 L99.49,367.62 L100.61,368.16 L102.06,368.44 L103.82,368.62 L105.79,368.89 L107.79,369.40 L109.61,370.26 L111.03,371.49 L111.90,373.05 L112.11,374.81 L111.68,376.65 L110.72,378.41 L109.40,380.00 L107.97,381.37 L106.65,382.56 L105.64,383.64 L105.05,384.73 L104.89,385.96 L105.07,387.42 L105.44,389.16 L105.79,391.11 L105.92,393.17 L105.66,395.16 L104.93,396.90 L103.73,398.20 L102.11,398.95 L100.24,399.11 L98.26,398.73 L96.34,397.97 L94.59,397.04 L93.06,396.15 L91.72,395.53 L90.50,395.30 L89.28,395.53 L87.94,396.15 L86.41,397.04 L84.66,397.97 L82.74,398.73 L80.76,399.11 L78.89,398.95 L77.27,398.20 L76.07,396.90 L75.34,395.16 L75.08,393.17 L75.21,391.11 L75.56,389.16 L75.93,387.42 L76.11,385.96 L75.95,384.73 L75.36,383.64 L74.35,382.56 L73.03,381.37 L71.60,380.00 L70.28,378.41 L69.32,376.65 L68.89,374.81 L69.10,373.05 L69.97,371.49 L71.39,370.26 L73.21,369.40 L75.21,368.89 L77.18,368.62 L78.94,368.44 L80.39,368.16 L81.51,367.62 L82.36,366.72 L83.08,365.43 L83.79,363.81 L84.66,362.03 L85.77,360.28 L87.15,358.82 L88.76,357.84Z" fill="url(#gcond)" stroke="none" stroke-width="1" filter="url(#blur)"/>
<path d="M97.07,384.66 L97.72,384.71 L98.32,384.70 L98.83,384.55 L99.23,384.24 L99.53,383.77 L99.75,383.19 L99.93,382.56 L100.13,381.95 L100.40,381.45 L100.77,381.08 L101.24,380.88 L101.81,380.82 L102.45,380.86 L103.10,380.92 L103.72,380.94 L104.27,380.84 L104.70,380.58 L105.03,380.17 L105.28,379.62 L105.47,379.00" fill="none" stroke="#52b25e" stroke-width="0.9" stroke-linecap="round"/>
<path d="M98.75,384.89 L99.08,384.33 L99.32,383.78 L99.40,383.25 L99.29,382.76 L99.00,382.29 L98.56,381.85 L98.07,381.41 L97.61,380.97 L97.27,380.51 L97.09,380.03 L97.11,379.51 L97.30,378.97 L97.61,378.41 L97.95,377.84 L98.22,377.29 L98.36,376.76 L98.32,376.25 L98.08,375.77 L97.69,375.32 L97.21,374.88" fill="none" stroke="#52b25e" stroke-width="0.9" stroke-linecap="round"/>
<path d="M78.80,389.05 L78.51,388.46 L78.18,387.96 L77.78,387.61 L77.31,387.43 L76.76,387.42 L76.15,387.53 L75.51,387.70 L74.89,387.85 L74.32,387.89 L73.82,387.77 L73.40,387.47 L73.05,387.01 L72.75,386.45 L72.46,385.85 L72.15,385.32 L71.78,384.91 L71.33,384.67 L70.81,384.61 L70.21,384.69 L69.58,384.85" fill="none" stroke="#52b25e" stroke-width="0.9" stroke-linecap="round"/>
<path d="M84.21,374.03 L84.55,374.59 L84.91,375.06 L85.33,375.38 L85.82,375.53 L86.37,375.49 L86.97,375.33 L87.59,375.11 L88.20,374.92 L88.77,374.83 L89.28,374.92 L89.72,375.18 L90.10,375.61 L90.44,376.15 L90.78,376.72 L91.13,377.23 L91.53,377.60 L91.99,377.81 L92.52,377.83 L93.11,377.70 L93.73,377.49" fill="none" stroke="#52b25e" stroke-width="0.9" stroke-linecap="round"/>
<path d="M79.97,378.67 L79.95,378.02 L79.86,377.42 L79.65,376.93 L79.30,376.57 L78.80,376.33 L78.20,376.19 L77.55,376.08 L76.92,375.95 L76.39,375.74 L75.98,375.42 L75.72,374.98 L75.60,374.41 L75.56,373.78 L75.55,373.12 L75.49,372.50 L75.32,371.98 L75.02,371.57 L74.57,371.29 L73.99,371.12 L73.35,371.00" fill="none" stroke="#52b25e" stroke-width="0.9" stroke-linecap="round"/>
<path d="M83.33,374.96 L82.73,375.21 L82.20,375.50 L81.82,375.86 L81.60,376.32 L81.55,376.87 L81.61,377.49 L81.74,378.13 L81.83,378.76 L81.82,379.34 L81.66,379.83 L81.33,380.23 L80.85,380.54 L80.26,380.79 L79.65,381.03 L79.09,381.30 L78.66,381.64 L78.38,382.06 L78.28,382.59 L78.31,383.18 L78.43,383.82" fill="none" stroke="#52b25e" stroke-width="0.9" stroke-linecap="round"/>
<path d="M82.12,391.25 L82.53,390.75 L82.86,390.24 L83.02,389.74 L82.99,389.23 L82.77,388.72 L82.41,388.22 L81.99,387.71 L81.61,387.20 L81.33,386.69 L81.24,386.19 L81.34,385.68 L81.61,385.18 L82.00,384.67 L82.42,384.17 L82.78,383.66 L83.00,383.15 L83.03,382.65 L82.87,382.14 L82.56,381.63 L82.15,381.13" fill="none" stroke="#52b25e" stroke-width="0.9" stroke-linecap="round"/>
<circle cx="93.00" cy="370.50" r="2.72" fill="#f9dccf"/>
<path d="M91.88,368.56 A2.24,2.24 0 1 1 90.89,371.27" fill="none" stroke="#ee8872" stroke-width="2.108"/>
<circle cx="83.50" cy="381.50" r="2.72" fill="#f9dccf"/>
<path d="M81.56,380.38 A2.24,2.24 0 1 1 82.06,383.22" fill="none" stroke="#ee8872" stroke-width="2.108"/>
<circle cx="94.00" cy="383.50" r="2.72" fill="#f9dccf"/>
<path d="M92.88,381.56 A2.24,2.24 0 1 1 91.89,384.27" fill="none" stroke="#ee8872" stroke-width="2.108"/>
<circle cx="87.00" cy="390.50" r="2.72" fill="#f9dccf"/>
<path d="M85.56,388.78 A2.24,2.24 0 1 1 85.06,391.62" fill="none" stroke="#ee8872" stroke-width="2.108"/>
<circle cx="103.00" cy="389.00" r="2.72" fill="#f9dccf"/>
<path d="M101.06,387.88 A2.24,2.24 0 1 1 101.56,390.72" fill="none" stroke="#ee8872" stroke-width="2.108"/>
<path d="M111.02,448.50 L110.55,450.56 L109.72,452.48 L108.72,454.26 L107.73,455.95 L106.84,457.65 L106.03,459.42 L105.18,461.27 L104.15,463.10 L102.82,464.77 L101.14,466.06 L99.17,466.85 L97.04,467.07 L94.89,466.81 L92.87,466.25 L91.00,465.61 L89.25,465.13 L87.51,464.91 L85.66,464.94 L83.62,465.07 L81.42,465.09 L79.18,464.77 L77.10,463.94 L75.37,462.57 L74.15,460.74 L73.47,458.62 L73.24,456.41 L73.28,454.26 L73.38,452.24 L73.38,450.35 L73.22,448.50 L72.96,446.60 L72.74,444.62 L72.77,442.58 L73.20,440.58 L74.11,438.75 L75.45,437.20 L77.09,435.97 L78.86,435.01 L80.60,434.19 L82.24,433.33 L83.80,432.32 L85.35,431.12 L87.03,429.84 L88.91,428.65 L91.00,427.81 L93.20,427.53 L95.37,427.93 L97.34,428.99 L99.00,430.54 L100.32,432.36 L101.40,434.19 L102.39,435.85 L103.46,437.28 L104.73,438.52 L106.21,439.72 L107.77,441.03 L109.23,442.58 L110.36,444.39 L110.98,446.40Z" fill="url(#gcond)" stroke="none" stroke-width="1" filter="url(#blur)"/>
<path d="M94.1,449.0 Q101.0,451.5 102.8,457.9" fill="none" stroke="#5cbf68" stroke-width="0.8"/>
<path d="M92.1,451.5 Q92.9,455.5 88.7,463.4" fill="none" stroke="#5cbf68" stroke-width="0.8"/>
<path d="M89.0,450.9 Q85.4,450.5 76.9,454.0" fill="none" stroke="#5cbf68" stroke-width="0.8"/>
<path d="M87.9,448.0 Q86.0,441.5 79.2,439.1" fill="none" stroke="#5cbf68" stroke-width="0.8"/>
<path d="M89.9,445.5 Q94.1,437.5 93.3,433.6" fill="none" stroke="#5cbf68" stroke-width="0.8"/>
<path d="M93.0,446.1 Q101.6,442.5 105.1,443.0" fill="none" stroke="#5cbf68" stroke-width="0.8"/>
<circle cx="84.00" cy="441.50" r="2.72" fill="#f9dccf"/>
<path d="M82.88,439.56 A2.24,2.24 0 1 1 81.89,442.27" fill="none" stroke="#ee8872" stroke-width="2.108"/>
<circle cx="96.00" cy="439.50" r="2.72" fill="#f9dccf"/>
<path d="M94.06,438.38 A2.24,2.24 0 1 1 94.56,441.22" fill="none" stroke="#ee8872" stroke-width="2.108"/>
<circle cx="92.00" cy="450.00" r="2.72" fill="#f9dccf"/>
<path d="M90.88,448.06 A2.24,2.24 0 1 1 89.89,450.77" fill="none" stroke="#ee8872" stroke-width="2.108"/>
<circle cx="84.00" cy="455.50" r="2.72" fill="#f9dccf"/>
<path d="M82.56,453.78 A2.24,2.24 0 1 1 82.06,456.62" fill="none" stroke="#ee8872" stroke-width="2.108"/>
<circle cx="97.00" cy="457.00" r="2.72" fill="#f9dccf"/>
<path d="M95.06,455.88 A2.24,2.24 0 1 1 95.56,458.72" fill="none" stroke="#ee8872" stroke-width="2.108"/>
<line x1="68.50" y1="311.90" x2="115.40" y2="311.90" stroke="#a8a8a8" stroke-width="1.6"/>
<path d="M124.40,311.90 L114.40,307.90 L114.40,315.90Z" fill="#a8a8a8" stroke="none" stroke-width="1"/>
<line x1="68.50" y1="380.00" x2="117.80" y2="380.00" stroke="#a8a8a8" stroke-width="1.6"/>
<path d="M126.80,380.00 L116.80,376.00 L116.80,384.00Z" fill="#a8a8a8" stroke="none" stroke-width="1"/>
<line x1="68.50" y1="449.50" x2="115.40" y2="449.50" stroke="#a8a8a8" stroke-width="1.6"/>
<path d="M124.40,449.50 L114.40,445.50 L114.40,453.50Z" fill="#a8a8a8" stroke="none" stroke-width="1"/>
<path d="M144.94,287.28 L146.37,300.25 L157.56,293.54 L151.75,305.22 L164.80,305.62 L153.59,312.31 L164.35,319.70 L151.31,319.27 L156.36,331.30 L145.62,323.89 L143.37,336.75 L138.34,324.70 L129.50,334.30 L131.78,321.45 L119.15,324.74 L128.02,315.16 L115.61,311.11 L128.25,307.84 L120.01,297.72 L132.40,301.81 L130.94,288.84 L139.16,298.98Z" fill="url(#star)" stroke="none" stroke-width="1"/>
<text x="140.60" y="315.30" font-size="9.5" font-weight="bold" text-anchor="middle" fill="#000">hv</text>
<path d="M141.65,370.14 L142.82,374.20 L146.83,372.90 L145.39,376.87 L149.41,378.18 L145.91,380.54 L148.39,383.96 L144.17,383.82 L144.16,388.04 L140.84,385.44 L138.35,388.86 L137.18,384.80 L133.17,386.10 L134.61,382.13 L130.59,380.82 L134.09,378.46 L131.61,375.04 L135.83,375.18 L135.84,370.96 L139.16,373.56Z" fill="url(#star2)" stroke="none" stroke-width="1"/>
<text x="140.00" y="382.80" font-size="9.5" font-weight="bold" text-anchor="middle" fill="#000">hv</text>
<path d="M141.47,429.80 L143.11,439.20 L151.57,434.81 L147.87,443.59 L157.36,444.48 L149.49,449.86 L157.00,455.74 L147.47,456.02 L150.61,465.02 L142.44,460.11 L140.22,469.38 L136.00,460.83 L129.12,467.42 L130.20,457.95 L120.84,459.77 L126.87,452.39 L118.01,448.87 L127.07,445.91 L121.53,438.16 L130.75,440.57 L130.27,431.05 L136.73,438.07Z" fill="url(#star)" stroke="none" stroke-width="1"/>
<text x="138.00" y="452.90" font-size="9.5" font-weight="bold" text-anchor="middle" fill="#000">hv</text>
<text x="173.20" y="293.20" font-size="12" font-weight="bold" text-anchor="start" fill="#000">l</text>
<line x1="199.00" y1="444.55" x2="336.60" y2="444.55" stroke="#9a9a9a" stroke-width="1.0" stroke-dasharray="2.8 2.0"/>
<rect x="211.70" y="324.15" width="10.70" height="135.45" fill="#de1010" stroke="#000" stroke-width="0.9"/>
<rect x="222.40" y="417.46" width="10.90" height="42.14" fill="#1414f0" stroke="#000" stroke-width="0.9"/>
<rect x="233.30" y="394.88" width="11.70" height="64.72" fill="#000" stroke="#000" stroke-width="0.9"/>
<rect x="255.80" y="418.21" width="11.20" height="41.39" fill="#de1010" stroke="#000" stroke-width="0.9"/>
<rect x="267.00" y="447.86" width="10.40" height="11.74" fill="#1414f0" stroke="#000" stroke-width="0.9"/>
<rect x="277.40" y="442.29" width="11.60" height="17.31" fill="#000" stroke="#000" stroke-width="0.9"/>
<rect x="299.50" y="445.00" width="11.10" height="14.60" fill="#de1010" stroke="#000" stroke-width="0.9"/>
<rect x="310.60" y="453.58" width="10.90" height="6.02" fill="#1414f0" stroke="#000" stroke-width="0.9"/>
<rect x="321.50" y="452.08" width="11.60" height="7.52" fill="#000" stroke="#000" stroke-width="0.9"/>
<line x1="217.05" y1="342.21" x2="217.05" y2="315.12" stroke="#4a4a4a" stroke-width="1.0"/>
<line x1="214.65" y1="342.21" x2="219.45" y2="342.21" stroke="#4a4a4a" stroke-width="1.0"/>
<line x1="214.65" y1="315.12" x2="219.45" y2="315.12" stroke="#4a4a4a" stroke-width="1.0"/>
<circle cx="217.05" cy="315.12" r="1.90" fill="#5a5a5a"/>
<circle cx="217.05" cy="342.21" r="1.90" fill="#5a5a5a"/>
<line x1="227.85" y1="419.72" x2="227.85" y2="413.70" stroke="#4a4a4a" stroke-width="1.0"/>
<line x1="225.45" y1="419.72" x2="230.25" y2="419.72" stroke="#4a4a4a" stroke-width="1.0"/>
<line x1="225.45" y1="413.70" x2="230.25" y2="413.70" stroke="#4a4a4a" stroke-width="1.0"/>
<circle cx="227.85" cy="415.20" r="1.90" fill="#5a5a5a"/>
<circle cx="227.85" cy="418.97" r="1.90" fill="#5a5a5a"/>
<line x1="239.15" y1="396.09" x2="239.15" y2="394.13" stroke="#4a4a4a" stroke-width="1.0"/>
<line x1="236.75" y1="396.09" x2="241.55" y2="396.09" stroke="#4a4a4a" stroke-width="1.0"/>
<line x1="236.75" y1="394.13" x2="241.55" y2="394.13" stroke="#4a4a4a" stroke-width="1.0"/>
<circle cx="239.15" cy="395.19" r="1.90" fill="#5a5a5a"/>
<line x1="261.40" y1="419.72" x2="261.40" y2="416.71" stroke="#4a4a4a" stroke-width="1.0"/>
<line x1="259.00" y1="419.72" x2="263.80" y2="419.72" stroke="#4a4a4a" stroke-width="1.0"/>
<line x1="259.00" y1="416.71" x2="263.80" y2="416.71" stroke="#4a4a4a" stroke-width="1.0"/>
<circle cx="261.40" cy="418.21" r="1.90" fill="#5a5a5a"/>
<line x1="272.20" y1="448.76" x2="272.20" y2="446.81" stroke="#4a4a4a" stroke-width="1.0"/>
<line x1="269.80" y1="448.76" x2="274.60" y2="448.76" stroke="#4a4a4a" stroke-width="1.0"/>
<line x1="269.80" y1="446.81" x2="274.60" y2="446.81" stroke="#4a4a4a" stroke-width="1.0"/>
<circle cx="272.20" cy="447.56" r="1.90" fill="#5a5a5a"/>
<line x1="283.20" y1="443.05" x2="283.20" y2="440.04" stroke="#4a4a4a" stroke-width="1.0"/>
<line x1="280.80" y1="443.05" x2="285.60" y2="443.05" stroke="#4a4a4a" stroke-width="1.0"/>
<line x1="280.80" y1="440.04" x2="285.60" y2="440.04" stroke="#4a4a4a" stroke-width="1.0"/>
<circle cx="283.20" cy="441.54" r="1.90" fill="#5a5a5a"/>
<line x1="305.05" y1="445.30" x2="305.05" y2="444.55" stroke="#4a4a4a" stroke-width="1.0"/>
<line x1="302.65" y1="445.30" x2="307.45" y2="445.30" stroke="#4a4a4a" stroke-width="1.0"/>
<line x1="302.65" y1="444.55" x2="307.45" y2="444.55" stroke="#4a4a4a" stroke-width="1.0"/>
<circle cx="305.05" cy="445.00" r="1.90" fill="#5a5a5a"/>
<line x1="316.05" y1="454.18" x2="316.05" y2="452.68" stroke="#4a4a4a" stroke-width="1.0"/>
<line x1="313.65" y1="454.18" x2="318.45" y2="454.18" stroke="#4a4a4a" stroke-width="1.0"/>
<line x1="313.65" y1="452.68" x2="318.45" y2="452.68" stroke="#4a4a4a" stroke-width="1.0"/>
<circle cx="316.05" cy="453.28" r="1.90" fill="#5a5a5a"/>
<line x1="327.30" y1="452.68" x2="327.30" y2="451.77" stroke="#4a4a4a" stroke-width="1.0"/>
<line x1="324.90" y1="452.68" x2="329.70" y2="452.68" stroke="#4a4a4a" stroke-width="1.0"/>
<line x1="324.90" y1="451.77" x2="329.70" y2="451.77" stroke="#4a4a4a" stroke-width="1.0"/>
<circle cx="327.30" cy="452.38" r="1.90" fill="#5a5a5a"/>
<line x1="199.00" y1="283.00" x2="199.00" y2="460.10" stroke="#000" stroke-width="1.2"/>
<line x1="198.50" y1="459.60" x2="336.60" y2="459.60" stroke="#000" stroke-width="1.2"/>
<line x1="197.20" y1="459.60" x2="199.00" y2="459.60" stroke="#000" stroke-width="1.0"/>
<text x="0" y="0" font-size="9.2" font-weight="normal" text-anchor="end" fill="#000" transform="translate(194.40 463.10) scale(0.9 1)">0</text>
<line x1="197.20" y1="429.50" x2="199.00" y2="429.50" stroke="#000" stroke-width="1.0"/>
<text x="0" y="0" font-size="9.2" font-weight="normal" text-anchor="end" fill="#000" transform="translate(194.40 433.00) scale(0.9 1)">2</text>
<line x1="197.20" y1="399.40" x2="199.00" y2="399.40" stroke="#000" stroke-width="1.0"/>
<text x="0" y="0" font-size="9.2" font-weight="normal" text-anchor="end" fill="#000" transform="translate(194.40 402.90) scale(0.9 1)">4</text>
<line x1="197.20" y1="369.30" x2="199.00" y2="369.30" stroke="#000" stroke-width="1.0"/>
<text x="0" y="0" font-size="9.2" font-weight="normal" text-anchor="end" fill="#000" transform="translate(194.40 372.80) scale(0.9 1)">6</text>
<line x1="197.20" y1="339.20" x2="199.00" y2="339.20" stroke="#000" stroke-width="1.0"/>
<text x="0" y="0" font-size="9.2" font-weight="normal" text-anchor="end" fill="#000" transform="translate(194.40 342.70) scale(0.9 1)">8</text>
<line x1="197.20" y1="309.10" x2="199.00" y2="309.10" stroke="#000" stroke-width="1.0"/>
<text x="0" y="0" font-size="9.2" font-weight="normal" text-anchor="end" fill="#000" transform="translate(194.40 312.60) scale(0.9 1)">10</text>
<line x1="197.90" y1="444.55" x2="199.00" y2="444.55" stroke="#000" stroke-width="0.8"/>
<line x1="197.90" y1="414.45" x2="199.00" y2="414.45" stroke="#000" stroke-width="0.8"/>
<line x1="197.90" y1="384.35" x2="199.00" y2="384.35" stroke="#000" stroke-width="0.8"/>
<line x1="197.90" y1="354.25" x2="199.00" y2="354.25" stroke="#000" stroke-width="0.8"/>
<line x1="197.90" y1="324.15" x2="199.00" y2="324.15" stroke="#000" stroke-width="0.8"/>
<line x1="197.90" y1="294.05" x2="199.00" y2="294.05" stroke="#000" stroke-width="0.8"/>
<line x1="336" y1="444.55" x2="345" y2="444.55" stroke="#8a8a8a" stroke-width="0.9" stroke-dasharray="2.2 1.6"/>
<line x1="228.20" y1="459.60" x2="228.20" y2="461.40" stroke="#000" stroke-width="0.9"/>
<text x="0" y="0" font-size="9.4" font-weight="normal" text-anchor="middle" fill="#000" transform="translate(228.20 471.90) scale(0.9 1)">2</text>
<line x1="272.00" y1="459.60" x2="272.00" y2="461.40" stroke="#000" stroke-width="0.9"/>
<text x="0" y="0" font-size="9.4" font-weight="normal" text-anchor="middle" fill="#000" transform="translate(272.00 471.90) scale(0.9 1)">8</text>
<line x1="315.70" y1="459.60" x2="315.70" y2="461.40" stroke="#000" stroke-width="0.9"/>
<text x="0" y="0" font-size="9.4" font-weight="normal" text-anchor="middle" fill="#000" transform="translate(315.70 471.90) scale(0.9 1)">14</text>
<text x="272" y="480.0" font-size="9" font-weight="bold" text-anchor="middle">t<tspan font-size="5.5" dy="1.5">i</tspan><tspan dy="-1.5"> (h)</tspan></text>
<text x="176.00" y="384.00" font-size="9.2" font-weight="bold" text-anchor="middle" fill="#000" transform="rotate(-90 176.0 384.0)">Relative reaction rate</text>
<text x="184.50" y="384.00" font-size="9.2" font-weight="bold" text-anchor="middle" fill="#000" transform="rotate(-90 184.5 384.0)">(Condensate/No condensate)</text>
<text x="204.00" y="291.60" font-size="9.5" font-weight="bold" text-anchor="start" fill="#000">p = 0.00848</text>
<path d="M217.30,295.20 L217.30,293.50 L239.70,293.50 L239.70,295.20" fill="none" stroke="#000" stroke-width="1.1"/>
<text x="202.30" y="307.20" font-size="9.5" font-weight="bold" text-anchor="start" fill="#000">p = 0.00636</text>
<path d="M217.30,309.70 L217.30,308.00 L228.30,308.00 L228.30,309.70" fill="none" stroke="#000" stroke-width="1.1"/>
<text x="223.00" y="320.60" font-size="9.5" font-weight="bold" text-anchor="start" fill="#000">p = 0.00141</text>
<path d="M228.30,322.70 L228.30,321.00 L239.30,321.00 L239.30,322.70" fill="none" stroke="#000" stroke-width="1.1"/>
<text x="246.00" y="382.60" font-size="9.5" font-weight="bold">p = 4.38 × 10<tspan font-size="5.6" dy="-3.6">-4</tspan></text>
<path d="M261.00,386.70 L261.00,385.00 L283.20,385.00 L283.20,386.70" fill="none" stroke="#000" stroke-width="1.1"/>
<text x="246.50" y="397.30" font-size="9.5" font-weight="bold">p = 5.68 × 10<tspan font-size="5.6" dy="-3.6">-4</tspan></text>
<path d="M261.00,401.90 L261.00,400.20 L272.80,400.20 L272.80,401.90" fill="none" stroke="#000" stroke-width="1.1"/>
<text x="263.50" y="411.10" font-size="9.5" font-weight="bold" text-anchor="start" fill="#000">p = 0.0334</text>
<path d="M271.60,414.70 L271.60,413.00 L282.80,413.00 L282.80,414.70" fill="none" stroke="#000" stroke-width="1.1"/>
<text x="289.70" y="422.10" font-size="9.5" font-weight="bold">p = 9.06 × 10<tspan font-size="5.6" dy="-3.6">-4</tspan></text>
<path d="M304.00,426.30 L304.00,424.60 L326.20,424.60 L326.20,426.30" fill="none" stroke="#000" stroke-width="1.1"/>
<text x="290.70" y="434.10" font-size="9.5" font-weight="bold">p = 4.67 × 10<tspan font-size="5.6" dy="-3.6">-4</tspan></text>
<path d="M304.00,437.90 L304.00,436.20 L314.60,436.20 L314.60,437.90" fill="none" stroke="#000" stroke-width="1.1"/>
<text x="311.00" y="444.10" font-size="9.5" font-weight="bold" text-anchor="start" fill="#000">p = 0.0407</text>
<path d="M315.30,447.70 L315.30,446.00 L327.00,446.00 L327.00,447.70" fill="none" stroke="#000" stroke-width="1.1"/>
<rect x="277.00" y="287.70" width="13.20" height="8.10" fill="#de1010" stroke="#000" stroke-width="0.8"/>
<text x="292.8" y="295.10" font-size="9.2" font-weight="bold">Erluc1<tspan font-size="5.4">+Gly</tspan></text>
<rect x="277.00" y="303.00" width="13.20" height="8.10" fill="#1414f0" stroke="#000" stroke-width="0.8"/>
<text x="292.8" y="310.40" font-size="9.2" font-weight="bold">Erluc1<tspan font-size="5.4">+Trp</tspan></text>
<rect x="277.00" y="317.20" width="13.20" height="8.10" fill="#000" stroke="#000" stroke-width="0.8"/>
<text x="292.8" y="324.60" font-size="9.2" font-weight="bold">Erluc1<tspan font-size="5.4"></tspan></text>
<text x="357.30" y="292.90" font-size="12" font-weight="bold" text-anchor="start" fill="#000">m</text>
<text x="378.5" y="294.4" font-size="9" font-weight="bold">t<tspan font-size="5.5" dy="1.5">i</tspan><tspan dy="-1.5"> (h)</tspan></text>
<line x1="378.50" y1="296.50" x2="668.00" y2="296.50" stroke="#000" stroke-width="1.3"/>
<path d="M673.50,296.50 L665.00,292.90 L665.00,300.10Z" fill="#000" stroke="none" stroke-width="1"/>
<text x="426.10" y="293.50" font-size="9" font-weight="bold" text-anchor="middle" fill="#000">2</text>
<text x="529.00" y="293.50" font-size="9" font-weight="bold" text-anchor="middle" fill="#000">8</text>
<text x="629.80" y="293.50" font-size="9" font-weight="bold" text-anchor="middle" fill="#000">14</text>
<text x="378.00" y="306.90" font-size="9.2" font-weight="bold" text-anchor="start" fill="#000">Time after bleaching (s)</text>
<text x="345.4" y="332.6" font-size="9" font-weight="bold">Erluc1<tspan font-size="5.3">+Gly</tspan></text>
<text x="345.4" y="352.3" font-size="9" font-weight="bold">Erluc1<tspan font-size="5.3">+Trp</tspan></text>
<text x="351.60" y="374.50" font-size="9" font-weight="bold" text-anchor="start" fill="#000">Erluc1</text>
<text x="396.25" y="315.80" font-size="8.6" font-weight="bold" text-anchor="middle" fill="#000">-2</text>
<text x="418.55" y="315.80" font-size="8.6" font-weight="bold" text-anchor="middle" fill="#000">0</text>
<text x="441.25" y="315.80" font-size="8.6" font-weight="bold" text-anchor="middle" fill="#000">15</text>
<text x="464.05" y="315.80" font-size="8.6" font-weight="bold" text-anchor="middle" fill="#000">60</text>
<rect x="385.10" y="316.40" width="90.10" height="68.00" fill="#d4d4d4"/>
<clipPath id="c29"><rect x="385.70" y="317.00" width="21.10" height="21.10"/></clipPath>
<rect x="385.70" y="317.00" width="21.10" height="21.10" fill="#000"/>
<g clip-path="url(#c29)">
<g filter="url(#blur)">
<line x1="390.50" y1="322.00" x2="402.90" y2="333.00" stroke="#1ed64a" stroke-width="5.6" stroke-linecap="round"/>
</g></g>
<clipPath id="c30"><rect x="408.00" y="317.00" width="21.10" height="21.10"/></clipPath>
<rect x="408.00" y="317.00" width="21.10" height="21.10" fill="#000"/>
<g clip-path="url(#c30)">
<g filter="url(#blur)">
<line x1="412.80" y1="322.00" x2="425.20" y2="333.00" stroke="#13a534" stroke-width="5.6" stroke-linecap="round"/>
<line x1="412.80" y1="322.00" x2="416.50" y2="325.20" stroke="#1ed64a" stroke-width="5.6" stroke-linecap="round"/>
</g></g>
<path d="M421.6,328.2 l5.0,-5.6 l-1.2,5.0 l3.0,2.4 z" fill="#fff" stroke="none" stroke-width="1"/>
<clipPath id="c31"><rect x="430.70" y="317.00" width="21.10" height="21.10"/></clipPath>
<rect x="430.70" y="317.00" width="21.10" height="21.10" fill="#000"/>
<g clip-path="url(#c31)">
<g filter="url(#blur)">
<line x1="435.50" y1="322.00" x2="447.90" y2="333.00" stroke="#1ed64a" stroke-width="5.6" stroke-linecap="round"/>
</g></g>
<clipPath id="c32"><rect x="453.50" y="317.00" width="21.10" height="21.10"/></clipPath>
<rect x="453.50" y="317.00" width="21.10" height="21.10" fill="#000"/>
<g clip-path="url(#c32)">
<g filter="url(#blur)">
<line x1="458.30" y1="322.00" x2="470.70" y2="333.00" stroke="#1fd84c" stroke-width="5.6" stroke-linecap="round"/>
</g></g>
<clipPath id="c33"><rect x="385.70" y="339.80" width="21.10" height="21.10"/></clipPath>
<rect x="385.70" y="339.80" width="21.10" height="21.10" fill="#000"/>
<g clip-path="url(#c33)">
<g filter="url(#blur)">
<line x1="393.70" y1="344.80" x2="399.00" y2="357.10" stroke="#17c23e" stroke-width="4.8" stroke-linecap="round"/>
</g></g>
<clipPath id="c34"><rect x="408.00" y="339.80" width="21.10" height="21.10"/></clipPath>
<rect x="408.00" y="339.80" width="21.10" height="21.10" fill="#000"/>
<g clip-path="url(#c34)">
<g filter="url(#blur)">
<line x1="416.00" y1="344.80" x2="421.30" y2="357.10" stroke="#12a032" stroke-width="4.8" stroke-linecap="round"/>
</g></g>
<path d="M421.6,351.0 l5.0,-5.6 l-1.2,5.0 l3.0,2.4 z" fill="#fff" stroke="none" stroke-width="1"/>
<clipPath id="c35"><rect x="430.70" y="339.80" width="21.10" height="21.10"/></clipPath>
<rect x="430.70" y="339.80" width="21.10" height="21.10" fill="#000"/>
<g clip-path="url(#c35)">
<g filter="url(#blur)">
<line x1="438.70" y1="344.80" x2="444.00" y2="357.10" stroke="#17c23e" stroke-width="4.8" stroke-linecap="round"/>
</g></g>
<clipPath id="c36"><rect x="453.50" y="339.80" width="21.10" height="21.10"/></clipPath>
<rect x="453.50" y="339.80" width="21.10" height="21.10" fill="#000"/>
<g clip-path="url(#c36)">
<g filter="url(#blur)">
<line x1="461.50" y1="344.80" x2="466.80" y2="357.10" stroke="#17c23e" stroke-width="4.8" stroke-linecap="round"/>
</g></g>
<clipPath id="c37"><rect x="385.70" y="362.70" width="21.10" height="21.10"/></clipPath>
<rect x="385.70" y="362.70" width="21.10" height="21.10" fill="#000"/>
<g clip-path="url(#c37)">
<g filter="url(#blur)">
<line x1="390.20" y1="372.20" x2="396.70" y2="375.90" stroke="#1fd64a" stroke-width="4.4" stroke-linecap="round"/>
<line x1="396.70" y1="375.90" x2="402.50" y2="378.20" stroke="#1fd64a" stroke-width="4.4" stroke-linecap="round"/>
</g></g>
<clipPath id="c38"><rect x="408.00" y="362.70" width="21.10" height="21.10"/></clipPath>
<rect x="408.00" y="362.70" width="21.10" height="21.10" fill="#000"/>
<g clip-path="url(#c38)">
<g filter="url(#blur)">
<line x1="412.50" y1="372.20" x2="419.00" y2="375.90" stroke="#14a835" stroke-width="4.4" stroke-linecap="round"/>
<line x1="419.00" y1="375.90" x2="424.80" y2="378.20" stroke="#0f8a2a" stroke-width="4.4" stroke-linecap="round"/>
</g></g>
<path d="M421.6,373.9 l5.0,-5.6 l-1.2,5.0 l3.0,2.4 z" fill="#fff" stroke="none" stroke-width="1"/>
<clipPath id="c39"><rect x="430.70" y="362.70" width="21.10" height="21.10"/></clipPath>
<rect x="430.70" y="362.70" width="21.10" height="21.10" fill="#000"/>
<g clip-path="url(#c39)">
<g filter="url(#blur)">
<line x1="435.20" y1="372.20" x2="441.70" y2="375.90" stroke="#1fd64a" stroke-width="4.4" stroke-linecap="round"/>
<line x1="441.70" y1="375.90" x2="447.50" y2="378.20" stroke="#1fd64a" stroke-width="4.4" stroke-linecap="round"/>
</g></g>
<clipPath id="c40"><rect x="453.50" y="362.70" width="21.10" height="21.10"/></clipPath>
<rect x="453.50" y="362.70" width="21.10" height="21.10" fill="#000"/>
<g clip-path="url(#c40)">
<g filter="url(#blur)">
<line x1="458.00" y1="372.20" x2="464.50" y2="375.90" stroke="#1fd64a" stroke-width="4.4" stroke-linecap="round"/>
<line x1="464.50" y1="375.90" x2="470.30" y2="378.20" stroke="#1fd64a" stroke-width="4.4" stroke-linecap="round"/>
</g></g>
<text x="497.00" y="314.80" font-size="8.6" font-weight="bold" text-anchor="middle" fill="#000">-2</text>
<text x="519.60" y="314.80" font-size="8.6" font-weight="bold" text-anchor="middle" fill="#000">0</text>
<text x="541.90" y="314.80" font-size="8.6" font-weight="bold" text-anchor="middle" fill="#000">15</text>
<text x="564.10" y="314.80" font-size="8.6" font-weight="bold" text-anchor="middle" fill="#000">60</text>
<rect x="485.80" y="315.40" width="89.50" height="66.90" fill="#d4d4d4"/>
<clipPath id="c41"><rect x="486.40" y="316.00" width="21.20" height="21.20"/></clipPath>
<rect x="486.40" y="316.00" width="21.20" height="21.20" fill="#000"/>
<g clip-path="url(#c41)">
<g filter="url(#blur)">
<line x1="491.40" y1="321.00" x2="502.90" y2="332.50" stroke="#0d7024" stroke-width="3.2" stroke-linecap="round"/>
<circle cx="491.40" cy="321.00" r="2.00" fill="#19ff4a"/>
<circle cx="502.70" cy="332.30" r="2.90" fill="#19ff4a"/>
</g></g>
<clipPath id="c42"><rect x="509.00" y="316.00" width="21.20" height="21.20"/></clipPath>
<rect x="509.00" y="316.00" width="21.20" height="21.20" fill="#000"/>
<g clip-path="url(#c42)">
<g filter="url(#blur)">
<line x1="514.00" y1="321.00" x2="525.50" y2="332.50" stroke="#0d7024" stroke-width="3.2" stroke-linecap="round"/>
<circle cx="514.00" cy="321.00" r="2.00" fill="#19ff4a"/>
<circle cx="525.30" cy="332.30" r="2.00" fill="#19ff4a"/>
</g></g>
<path d="M522.6,327.2 l5.0,-5.6 l-1.2,5.0 l3.0,2.4 z" fill="#fff" stroke="none" stroke-width="1"/>
<clipPath id="c43"><rect x="531.30" y="316.00" width="21.20" height="21.20"/></clipPath>
<rect x="531.30" y="316.00" width="21.20" height="21.20" fill="#000"/>
<g clip-path="url(#c43)">
<g filter="url(#blur)">
<line x1="536.30" y1="321.00" x2="547.80" y2="332.50" stroke="#0d7024" stroke-width="3.2" stroke-linecap="round"/>
<circle cx="536.30" cy="321.00" r="2.00" fill="#19ff4a"/>
<circle cx="547.60" cy="332.30" r="2.00" fill="#19ff4a"/>
</g></g>
<clipPath id="c44"><rect x="553.50" y="316.00" width="21.20" height="21.20"/></clipPath>
<rect x="553.50" y="316.00" width="21.20" height="21.20" fill="#000"/>
<g clip-path="url(#c44)">
<g filter="url(#blur)">
<line x1="558.50" y1="321.00" x2="570.00" y2="332.50" stroke="#0d7024" stroke-width="3.2" stroke-linecap="round"/>
<circle cx="558.50" cy="321.00" r="2.00" fill="#19ff4a"/>
<circle cx="569.80" cy="332.30" r="2.00" fill="#19ff4a"/>
</g></g>
<clipPath id="c45"><rect x="486.40" y="338.90" width="21.20" height="21.20"/></clipPath>
<rect x="486.40" y="338.90" width="21.20" height="21.20" fill="#000"/>
<g clip-path="url(#c45)">
<g filter="url(#blur)">
<line x1="491.40" y1="343.90" x2="503.40" y2="355.90" stroke="#0a5a1c" stroke-width="6.0" stroke-linecap="round"/>
<circle cx="491.40" cy="343.90" r="2.60" fill="#1cd848"/>
<circle cx="503.40" cy="355.90" r="2.60" fill="#19ff4a"/>
</g></g>
<clipPath id="c46"><rect x="509.00" y="338.90" width="21.20" height="21.20"/></clipPath>
<rect x="509.00" y="338.90" width="21.20" height="21.20" fill="#000"/>
<g clip-path="url(#c46)">
<g filter="url(#blur)">
<line x1="514.00" y1="343.90" x2="526.00" y2="355.90" stroke="#084a17" stroke-width="6.0" stroke-linecap="round"/>
<circle cx="514.00" cy="343.90" r="2.60" fill="#1cd848"/>
</g></g>
<path d="M522.6,350.1 l5.0,-5.6 l-1.2,5.0 l3.0,2.4 z" fill="#fff" stroke="none" stroke-width="1"/>
<clipPath id="c47"><rect x="531.30" y="338.90" width="21.20" height="21.20"/></clipPath>
<rect x="531.30" y="338.90" width="21.20" height="21.20" fill="#000"/>
<g clip-path="url(#c47)">
<g filter="url(#blur)">
<line x1="536.30" y1="343.90" x2="548.30" y2="355.90" stroke="#084a17" stroke-width="6.0" stroke-linecap="round"/>
<circle cx="536.30" cy="343.90" r="2.60" fill="#1cd848"/>
</g></g>
<clipPath id="c48"><rect x="553.50" y="338.90" width="21.20" height="21.20"/></clipPath>
<rect x="553.50" y="338.90" width="21.20" height="21.20" fill="#000"/>
<g clip-path="url(#c48)">
<g filter="url(#blur)">
<line x1="558.50" y1="343.90" x2="570.50" y2="355.90" stroke="#084a17" stroke-width="6.0" stroke-linecap="round"/>
<circle cx="558.50" cy="343.90" r="2.60" fill="#1cd848"/>
</g></g>
<clipPath id="c49"><rect x="486.40" y="360.50" width="21.20" height="21.20"/></clipPath>
<rect x="486.40" y="360.50" width="21.20" height="21.20" fill="#000"/>
<g clip-path="url(#c49)">
<g filter="url(#blur)">
<line x1="491.90" y1="370.50" x2="502.90" y2="375.50" stroke="#10a030" stroke-width="4.2" stroke-linecap="round"/>
<circle cx="491.90" cy="370.00" r="3.60" fill="#19ff4a"/>
<circle cx="502.90" cy="376.00" r="3.20" fill="#19ff4a"/>
</g></g>
<clipPath id="c50"><rect x="509.00" y="360.50" width="21.20" height="21.20"/></clipPath>
<rect x="509.00" y="360.50" width="21.20" height="21.20" fill="#000"/>
<g clip-path="url(#c50)">
<g filter="url(#blur)">
<line x1="514.50" y1="370.50" x2="525.50" y2="375.50" stroke="#10a030" stroke-width="4.2" stroke-linecap="round"/>
<circle cx="514.50" cy="370.00" r="3.60" fill="#19ff4a"/>
<circle cx="525.50" cy="376.00" r="2.20" fill="#18c040"/>
</g></g>
<path d="M522.6,371.7 l5.0,-5.6 l-1.2,5.0 l3.0,2.4 z" fill="#fff" stroke="none" stroke-width="1"/>
<clipPath id="c51"><rect x="531.30" y="360.50" width="21.20" height="21.20"/></clipPath>
<rect x="531.30" y="360.50" width="21.20" height="21.20" fill="#000"/>
<g clip-path="url(#c51)">
<g filter="url(#blur)">
<line x1="536.80" y1="370.50" x2="547.80" y2="375.50" stroke="#10a030" stroke-width="4.2" stroke-linecap="round"/>
<circle cx="536.80" cy="370.00" r="3.60" fill="#19ff4a"/>
<circle cx="547.80" cy="376.00" r="2.20" fill="#18c040"/>
</g></g>
<clipPath id="c52"><rect x="553.50" y="360.50" width="21.20" height="21.20"/></clipPath>
<rect x="553.50" y="360.50" width="21.20" height="21.20" fill="#000"/>
<g clip-path="url(#c52)">
<g filter="url(#blur)">
<line x1="559.00" y1="370.50" x2="570.00" y2="375.50" stroke="#10a030" stroke-width="4.2" stroke-linecap="round"/>
<circle cx="559.00" cy="370.00" r="3.60" fill="#19ff4a"/>
<circle cx="570.00" cy="376.00" r="2.20" fill="#18c040"/>
</g></g>
<text x="594.65" y="314.80" font-size="8.6" font-weight="bold" text-anchor="middle" fill="#000">-2</text>
<text x="617.55" y="314.80" font-size="8.6" font-weight="bold" text-anchor="middle" fill="#000">0</text>
<text x="639.85" y="314.80" font-size="8.6" font-weight="bold" text-anchor="middle" fill="#000">15</text>
<text x="662.25" y="314.80" font-size="8.6" font-weight="bold" text-anchor="middle" fill="#000">60</text>
<rect x="583.50" y="315.40" width="89.90" height="67.30" fill="#d4d4d4"/>
<clipPath id="c53"><rect x="584.10" y="316.00" width="21.10" height="21.10"/></clipPath>
<rect x="584.10" y="316.00" width="21.10" height="21.10" fill="#000"/>
<g clip-path="url(#c53)">
<g filter="url(#blur)">
<line x1="588.90" y1="321.00" x2="601.30" y2="332.00" stroke="#1ed64a" stroke-width="5.6" stroke-linecap="round"/>
</g></g>
<clipPath id="c54"><rect x="607.00" y="316.00" width="21.10" height="21.10"/></clipPath>
<rect x="607.00" y="316.00" width="21.10" height="21.10" fill="#000"/>
<g clip-path="url(#c54)">
<g filter="url(#blur)">
<line x1="611.80" y1="321.00" x2="624.20" y2="332.00" stroke="#13a534" stroke-width="5.6" stroke-linecap="round"/>
<line x1="611.80" y1="321.00" x2="615.50" y2="324.20" stroke="#1ed64a" stroke-width="5.6" stroke-linecap="round"/>
</g></g>
<path d="M620.6,327.2 l5.0,-5.6 l-1.2,5.0 l3.0,2.4 z" fill="#fff" stroke="none" stroke-width="1"/>
<clipPath id="c55"><rect x="629.30" y="316.00" width="21.10" height="21.10"/></clipPath>
<rect x="629.30" y="316.00" width="21.10" height="21.10" fill="#000"/>
<g clip-path="url(#c55)">
<g filter="url(#blur)">
<line x1="634.10" y1="321.00" x2="646.50" y2="332.00" stroke="#1ed64a" stroke-width="5.6" stroke-linecap="round"/>
</g></g>
<clipPath id="c56"><rect x="651.70" y="316.00" width="21.10" height="21.10"/></clipPath>
<rect x="651.70" y="316.00" width="21.10" height="21.10" fill="#000"/>
<g clip-path="url(#c56)">
<g filter="url(#blur)">
<line x1="656.50" y1="321.00" x2="668.90" y2="332.00" stroke="#1ed64a" stroke-width="5.6" stroke-linecap="round"/>
</g></g>
<clipPath id="c57"><rect x="584.10" y="338.90" width="21.10" height="21.10"/></clipPath>
<rect x="584.10" y="338.90" width="21.10" height="21.10" fill="#000"/>
<g clip-path="url(#c57)">
<g filter="url(#blur)">
<line x1="589.60" y1="344.40" x2="601.10" y2="355.90" stroke="#083a14" stroke-width="4.8" stroke-linecap="round"/>
<circle cx="589.60" cy="344.40" r="2.40" fill="#1cd848"/>
<circle cx="600.60" cy="355.40" r="2.60" fill="#19ff4a"/>
</g></g>
<clipPath id="c58"><rect x="607.00" y="338.90" width="21.10" height="21.10"/></clipPath>
<rect x="607.00" y="338.90" width="21.10" height="21.10" fill="#000"/>
<g clip-path="url(#c58)">
<g filter="url(#blur)">
<line x1="612.50" y1="344.40" x2="624.00" y2="355.90" stroke="#083a14" stroke-width="4.8" stroke-linecap="round"/>
<circle cx="612.50" cy="344.40" r="2.40" fill="#1cd848"/>
</g></g>
<path d="M620.6,350.1 l5.0,-5.6 l-1.2,5.0 l3.0,2.4 z" fill="#fff" stroke="none" stroke-width="1"/>
<clipPath id="c59"><rect x="629.30" y="338.90" width="21.10" height="21.10"/></clipPath>
<rect x="629.30" y="338.90" width="21.10" height="21.10" fill="#000"/>
<g clip-path="url(#c59)">
<g filter="url(#blur)">
<line x1="634.80" y1="344.40" x2="646.30" y2="355.90" stroke="#083a14" stroke-width="4.8" stroke-linecap="round"/>
<circle cx="634.80" cy="344.40" r="2.40" fill="#1cd848"/>
</g></g>
<clipPath id="c60"><rect x="651.70" y="338.90" width="21.10" height="21.10"/></clipPath>
<rect x="651.70" y="338.90" width="21.10" height="21.10" fill="#000"/>
<g clip-path="url(#c60)">
<g filter="url(#blur)">
<line x1="657.20" y1="344.40" x2="668.70" y2="355.90" stroke="#083a14" stroke-width="4.8" stroke-linecap="round"/>
<circle cx="657.20" cy="344.40" r="2.40" fill="#1cd848"/>
</g></g>
<clipPath id="c61"><rect x="584.10" y="361.00" width="21.10" height="21.10"/></clipPath>
<rect x="584.10" y="361.00" width="21.10" height="21.10" fill="#000"/>
<g clip-path="url(#c61)">
<g filter="url(#blur)">
<line x1="588.60" y1="369.50" x2="601.10" y2="377.00" stroke="#14a834" stroke-width="3.2" stroke-linecap="round"/>
<circle cx="588.90" cy="369.60" r="1.90" fill="#19ff4a"/>
<circle cx="600.90" cy="376.80" r="2.00" fill="#19ff4a"/>
</g></g>
<clipPath id="c62"><rect x="607.00" y="361.00" width="21.10" height="21.10"/></clipPath>
<rect x="607.00" y="361.00" width="21.10" height="21.10" fill="#000"/>
<g clip-path="url(#c62)">
<g filter="url(#blur)">
<line x1="611.50" y1="369.50" x2="624.00" y2="377.00" stroke="#14a834" stroke-width="3.2" stroke-linecap="round"/>
<circle cx="611.80" cy="369.60" r="1.90" fill="#19ff4a"/>
<circle cx="623.80" cy="376.80" r="1.40" fill="#19ff4a"/>
</g></g>
<path d="M620.6,372.2 l5.0,-5.6 l-1.2,5.0 l3.0,2.4 z" fill="#fff" stroke="none" stroke-width="1"/>
<clipPath id="c63"><rect x="629.30" y="361.00" width="21.10" height="21.10"/></clipPath>
<rect x="629.30" y="361.00" width="21.10" height="21.10" fill="#000"/>
<g clip-path="url(#c63)">
<g filter="url(#blur)">
<line x1="633.80" y1="369.50" x2="646.30" y2="377.00" stroke="#14a834" stroke-width="3.2" stroke-linecap="round"/>
<circle cx="634.10" cy="369.60" r="1.90" fill="#19ff4a"/>
<circle cx="646.10" cy="376.80" r="1.40" fill="#19ff4a"/>
</g></g>
<clipPath id="c64"><rect x="651.70" y="361.00" width="21.10" height="21.10"/></clipPath>
<rect x="651.70" y="361.00" width="21.10" height="21.10" fill="#000"/>
<g clip-path="url(#c64)">
<g filter="url(#blur)">
<line x1="656.20" y1="369.50" x2="668.70" y2="377.00" stroke="#14a834" stroke-width="3.2" stroke-linecap="round"/>
<circle cx="656.50" cy="369.60" r="1.90" fill="#19ff4a"/>
<circle cx="668.50" cy="376.80" r="1.40" fill="#19ff4a"/>
</g></g>
<rect x="388.00" y="334.40" width="3.60" height="1.10" fill="#fff"/>
<path d="M388.23,460.60 L388.88,455.58 L389.54,451.03 L390.19,446.91 L390.85,443.17 L391.50,439.78 L392.15,436.71 L392.81,433.93 L393.46,431.41 L394.12,429.12 L394.77,427.05 L395.42,425.17 L396.08,423.47 L396.73,421.93 L397.38,420.53 L398.04,419.26 L398.69,418.11 L399.35,417.07 L400.00,416.13 L400.65,415.27 L401.31,414.50 L401.96,413.80 L402.62,413.16 L403.27,412.58 L403.92,412.06 L404.58,411.59 L405.23,411.16 L405.89,410.77 L406.54,410.42 L407.19,410.10 L407.85,409.81 L408.50,409.54 L409.16,409.30 L409.81,409.09 L410.46,408.89 L411.12,408.72 L411.77,408.56 L412.42,408.41 L413.08,408.28 L413.73,408.16 L414.39,408.05 L415.04,407.95 L415.69,407.86 L416.35,407.78 L417.00,407.71 L417.66,407.64 L418.31,407.58 L418.96,407.53 L419.62,407.48 L420.27,407.43 L420.93,407.39 L421.58,407.36 L422.23,407.32 L422.89,407.29 L423.54,407.26 L424.20,407.24 L424.85,407.22 L425.50,407.20 L426.16,407.18 L426.81,407.16 L427.46,407.15 L428.12,407.13 L428.77,407.12 L429.43,407.11 L430.08,407.10 L430.73,407.09 L431.39,407.08 L432.04,407.07 L432.70,407.07 L433.35,407.06 L434.00,407.05 L434.66,407.05 L435.31,407.05 L435.97,407.04 L436.62,407.04 L437.27,407.03 L437.93,407.03 L438.58,407.03 L439.24,407.03 L439.89,407.02 L440.54,407.02 L441.20,407.02 L441.85,407.02 L442.51,407.02 L443.16,407.01 L443.81,407.01 L444.47,407.01 L445.12,407.01 L445.77,407.01 L446.43,407.01 L447.08,407.01 L447.74,407.01 L448.39,407.01 L449.04,407.01 L449.70,407.01 L450.35,407.00 L451.01,407.00 L451.66,407.00 L452.31,407.00 L452.97,407.00 L453.62,407.00 L454.28,407.00 L454.93,407.00 L455.58,407.00 L456.24,407.00 L456.89,407.00 L457.55,407.00 L458.20,407.00 L458.85,407.00 L459.51,407.00 L460.16,407.00 L460.81,407.00 L461.47,407.00 L462.12,407.00 L462.78,407.00 L463.43,407.00 L464.08,407.00 L464.74,407.00 L465.39,407.00 L466.05,407.00 L466.70,407.00" fill="none" stroke="#de1010" stroke-width="1.4"/>
<line x1="393.55" y1="427.73" x2="393.55" y2="434.43" stroke="#de1010" stroke-width="1.0"/>
<line x1="392.15" y1="427.73" x2="394.95" y2="427.73" stroke="#de1010" stroke-width="1.0"/>
<line x1="392.15" y1="434.43" x2="394.95" y2="434.43" stroke="#de1010" stroke-width="1.0"/>
<circle cx="393.55" cy="431.08" r="1.20" fill="#de1010"/>
<line x1="400.20" y1="412.51" x2="400.20" y2="419.21" stroke="#de1010" stroke-width="1.0"/>
<line x1="398.80" y1="412.51" x2="401.60" y2="412.51" stroke="#de1010" stroke-width="1.0"/>
<line x1="398.80" y1="419.21" x2="401.60" y2="419.21" stroke="#de1010" stroke-width="1.0"/>
<circle cx="400.20" cy="415.86" r="1.20" fill="#de1010"/>
<line x1="406.85" y1="406.91" x2="406.85" y2="413.61" stroke="#de1010" stroke-width="1.0"/>
<line x1="405.45" y1="406.91" x2="408.25" y2="406.91" stroke="#de1010" stroke-width="1.0"/>
<line x1="405.45" y1="413.61" x2="408.25" y2="413.61" stroke="#de1010" stroke-width="1.0"/>
<circle cx="406.85" cy="410.26" r="1.20" fill="#de1010"/>
<line x1="413.50" y1="404.85" x2="413.50" y2="411.55" stroke="#de1010" stroke-width="1.0"/>
<line x1="412.10" y1="404.85" x2="414.90" y2="404.85" stroke="#de1010" stroke-width="1.0"/>
<line x1="412.10" y1="411.55" x2="414.90" y2="411.55" stroke="#de1010" stroke-width="1.0"/>
<circle cx="413.50" cy="408.20" r="1.20" fill="#de1010"/>
<line x1="420.15" y1="404.09" x2="420.15" y2="410.79" stroke="#de1010" stroke-width="1.0"/>
<line x1="418.75" y1="404.09" x2="421.55" y2="404.09" stroke="#de1010" stroke-width="1.0"/>
<line x1="418.75" y1="410.79" x2="421.55" y2="410.79" stroke="#de1010" stroke-width="1.0"/>
<circle cx="420.15" cy="407.44" r="1.20" fill="#de1010"/>
<line x1="426.80" y1="403.81" x2="426.80" y2="410.51" stroke="#de1010" stroke-width="1.0"/>
<line x1="425.40" y1="403.81" x2="428.20" y2="403.81" stroke="#de1010" stroke-width="1.0"/>
<line x1="425.40" y1="410.51" x2="428.20" y2="410.51" stroke="#de1010" stroke-width="1.0"/>
<circle cx="426.80" cy="407.16" r="1.20" fill="#de1010"/>
<line x1="433.45" y1="403.71" x2="433.45" y2="410.41" stroke="#de1010" stroke-width="1.0"/>
<line x1="432.05" y1="403.71" x2="434.85" y2="403.71" stroke="#de1010" stroke-width="1.0"/>
<line x1="432.05" y1="410.41" x2="434.85" y2="410.41" stroke="#de1010" stroke-width="1.0"/>
<circle cx="433.45" cy="407.06" r="1.20" fill="#de1010"/>
<line x1="440.10" y1="403.67" x2="440.10" y2="410.37" stroke="#de1010" stroke-width="1.0"/>
<line x1="438.70" y1="403.67" x2="441.50" y2="403.67" stroke="#de1010" stroke-width="1.0"/>
<line x1="438.70" y1="410.37" x2="441.50" y2="410.37" stroke="#de1010" stroke-width="1.0"/>
<circle cx="440.10" cy="407.02" r="1.20" fill="#de1010"/>
<line x1="446.75" y1="403.66" x2="446.75" y2="410.36" stroke="#de1010" stroke-width="1.0"/>
<line x1="445.35" y1="403.66" x2="448.15" y2="403.66" stroke="#de1010" stroke-width="1.0"/>
<line x1="445.35" y1="410.36" x2="448.15" y2="410.36" stroke="#de1010" stroke-width="1.0"/>
<circle cx="446.75" cy="407.01" r="1.20" fill="#de1010"/>
<line x1="453.40" y1="403.65" x2="453.40" y2="410.35" stroke="#de1010" stroke-width="1.0"/>
<line x1="452.00" y1="403.65" x2="454.80" y2="403.65" stroke="#de1010" stroke-width="1.0"/>
<line x1="452.00" y1="410.35" x2="454.80" y2="410.35" stroke="#de1010" stroke-width="1.0"/>
<circle cx="453.40" cy="407.00" r="1.20" fill="#de1010"/>
<line x1="460.05" y1="403.65" x2="460.05" y2="410.35" stroke="#de1010" stroke-width="1.0"/>
<line x1="458.65" y1="403.65" x2="461.45" y2="403.65" stroke="#de1010" stroke-width="1.0"/>
<line x1="458.65" y1="410.35" x2="461.45" y2="410.35" stroke="#de1010" stroke-width="1.0"/>
<circle cx="460.05" cy="407.00" r="1.20" fill="#de1010"/>
<line x1="466.70" y1="403.65" x2="466.70" y2="410.35" stroke="#de1010" stroke-width="1.0"/>
<line x1="465.30" y1="403.65" x2="468.10" y2="403.65" stroke="#de1010" stroke-width="1.0"/>
<line x1="465.30" y1="410.35" x2="468.10" y2="410.35" stroke="#de1010" stroke-width="1.0"/>
<circle cx="466.70" cy="407.00" r="1.20" fill="#de1010"/>
<path d="M388.23,460.60 L388.88,455.02 L389.54,450.09 L390.19,445.72 L390.85,441.86 L391.50,438.45 L392.15,435.43 L392.81,432.76 L393.46,430.40 L394.12,428.32 L394.77,426.47 L395.42,424.84 L396.08,423.40 L396.73,422.12 L397.38,420.99 L398.04,419.99 L398.69,419.11 L399.35,418.33 L400.00,417.64 L400.65,417.03 L401.31,416.49 L401.96,416.01 L402.62,415.59 L403.27,415.22 L403.92,414.88 L404.58,414.59 L405.23,414.33 L405.89,414.11 L406.54,413.90 L407.19,413.73 L407.85,413.57 L408.50,413.43 L409.16,413.30 L409.81,413.20 L410.46,413.10 L411.12,413.01 L411.77,412.94 L412.42,412.87 L413.08,412.81 L413.73,412.76 L414.39,412.71 L415.04,412.67 L415.69,412.64 L416.35,412.60 L417.00,412.58 L417.66,412.55 L418.31,412.53 L418.96,412.51 L419.62,412.49 L420.27,412.48 L420.93,412.46 L421.58,412.45 L422.23,412.44 L422.89,412.43 L423.54,412.42 L424.20,412.42 L424.85,412.41 L425.50,412.40 L426.16,412.40 L426.81,412.39 L427.46,412.39 L428.12,412.39 L428.77,412.38 L429.43,412.38 L430.08,412.38 L430.73,412.38 L431.39,412.37 L432.04,412.37 L432.70,412.37 L433.35,412.37 L434.00,412.37 L434.66,412.37 L435.31,412.37 L435.97,412.37 L436.62,412.37 L437.27,412.36 L437.93,412.36 L438.58,412.36 L439.24,412.36 L439.89,412.36 L440.54,412.36 L441.20,412.36 L441.85,412.36 L442.51,412.36 L443.16,412.36 L443.81,412.36 L444.47,412.36 L445.12,412.36 L445.77,412.36 L446.43,412.36 L447.08,412.36 L447.74,412.36 L448.39,412.36 L449.04,412.36 L449.70,412.36 L450.35,412.36 L451.01,412.36 L451.66,412.36 L452.31,412.36 L452.97,412.36 L453.62,412.36 L454.28,412.36 L454.93,412.36 L455.58,412.36 L456.24,412.36 L456.89,412.36 L457.55,412.36 L458.20,412.36 L458.85,412.36 L459.51,412.36 L460.16,412.36 L460.81,412.36 L461.47,412.36 L462.12,412.36 L462.78,412.36 L463.43,412.36 L464.08,412.36 L464.74,412.36 L465.39,412.36 L466.05,412.36 L466.70,412.36" fill="none" stroke="#000" stroke-width="1.4"/>
<line x1="393.55" y1="424.75" x2="393.55" y2="435.47" stroke="#000" stroke-width="1.0"/>
<line x1="392.15" y1="424.75" x2="394.95" y2="424.75" stroke="#000" stroke-width="1.0"/>
<line x1="392.15" y1="435.47" x2="394.95" y2="435.47" stroke="#000" stroke-width="1.0"/>
<circle cx="393.55" cy="430.11" r="1.20" fill="#000"/>
<line x1="400.20" y1="412.08" x2="400.20" y2="422.80" stroke="#000" stroke-width="1.0"/>
<line x1="398.80" y1="412.08" x2="401.60" y2="412.08" stroke="#000" stroke-width="1.0"/>
<line x1="398.80" y1="422.80" x2="401.60" y2="422.80" stroke="#000" stroke-width="1.0"/>
<circle cx="400.20" cy="417.44" r="1.20" fill="#000"/>
<line x1="406.85" y1="408.46" x2="406.85" y2="419.18" stroke="#000" stroke-width="1.0"/>
<line x1="405.45" y1="408.46" x2="408.25" y2="408.46" stroke="#000" stroke-width="1.0"/>
<line x1="405.45" y1="419.18" x2="408.25" y2="419.18" stroke="#000" stroke-width="1.0"/>
<circle cx="406.85" cy="413.82" r="1.20" fill="#000"/>
<line x1="413.50" y1="407.42" x2="413.50" y2="418.14" stroke="#000" stroke-width="1.0"/>
<line x1="412.10" y1="407.42" x2="414.90" y2="407.42" stroke="#000" stroke-width="1.0"/>
<line x1="412.10" y1="418.14" x2="414.90" y2="418.14" stroke="#000" stroke-width="1.0"/>
<circle cx="413.50" cy="412.78" r="1.20" fill="#000"/>
<line x1="420.15" y1="407.12" x2="420.15" y2="417.84" stroke="#000" stroke-width="1.0"/>
<line x1="418.75" y1="407.12" x2="421.55" y2="407.12" stroke="#000" stroke-width="1.0"/>
<line x1="418.75" y1="417.84" x2="421.55" y2="417.84" stroke="#000" stroke-width="1.0"/>
<circle cx="420.15" cy="412.48" r="1.20" fill="#000"/>
<line x1="426.80" y1="407.03" x2="426.80" y2="417.75" stroke="#000" stroke-width="1.0"/>
<line x1="425.40" y1="407.03" x2="428.20" y2="407.03" stroke="#000" stroke-width="1.0"/>
<line x1="425.40" y1="417.75" x2="428.20" y2="417.75" stroke="#000" stroke-width="1.0"/>
<circle cx="426.80" cy="412.39" r="1.20" fill="#000"/>
<line x1="433.45" y1="407.01" x2="433.45" y2="417.73" stroke="#000" stroke-width="1.0"/>
<line x1="432.05" y1="407.01" x2="434.85" y2="407.01" stroke="#000" stroke-width="1.0"/>
<line x1="432.05" y1="417.73" x2="434.85" y2="417.73" stroke="#000" stroke-width="1.0"/>
<circle cx="433.45" cy="412.37" r="1.20" fill="#000"/>
<line x1="440.10" y1="407.00" x2="440.10" y2="417.72" stroke="#000" stroke-width="1.0"/>
<line x1="438.70" y1="407.00" x2="441.50" y2="407.00" stroke="#000" stroke-width="1.0"/>
<line x1="438.70" y1="417.72" x2="441.50" y2="417.72" stroke="#000" stroke-width="1.0"/>
<circle cx="440.10" cy="412.36" r="1.20" fill="#000"/>
<line x1="446.75" y1="407.00" x2="446.75" y2="417.72" stroke="#000" stroke-width="1.0"/>
<line x1="445.35" y1="407.00" x2="448.15" y2="407.00" stroke="#000" stroke-width="1.0"/>
<line x1="445.35" y1="417.72" x2="448.15" y2="417.72" stroke="#000" stroke-width="1.0"/>
<circle cx="446.75" cy="412.36" r="1.20" fill="#000"/>
<line x1="453.40" y1="407.00" x2="453.40" y2="417.72" stroke="#000" stroke-width="1.0"/>
<line x1="452.00" y1="407.00" x2="454.80" y2="407.00" stroke="#000" stroke-width="1.0"/>
<line x1="452.00" y1="417.72" x2="454.80" y2="417.72" stroke="#000" stroke-width="1.0"/>
<circle cx="453.40" cy="412.36" r="1.20" fill="#000"/>
<line x1="460.05" y1="407.00" x2="460.05" y2="417.72" stroke="#000" stroke-width="1.0"/>
<line x1="458.65" y1="407.00" x2="461.45" y2="407.00" stroke="#000" stroke-width="1.0"/>
<line x1="458.65" y1="417.72" x2="461.45" y2="417.72" stroke="#000" stroke-width="1.0"/>
<circle cx="460.05" cy="412.36" r="1.20" fill="#000"/>
<line x1="466.70" y1="407.00" x2="466.70" y2="417.72" stroke="#000" stroke-width="1.0"/>
<line x1="465.30" y1="407.00" x2="468.10" y2="407.00" stroke="#000" stroke-width="1.0"/>
<line x1="465.30" y1="417.72" x2="468.10" y2="417.72" stroke="#000" stroke-width="1.0"/>
<circle cx="466.70" cy="412.36" r="1.20" fill="#000"/>
<path d="M388.23,460.60 L388.88,454.62 L389.54,449.55 L390.19,445.25 L390.85,441.59 L391.50,438.49 L392.15,435.86 L392.81,433.62 L393.46,431.72 L394.12,430.11 L394.77,428.75 L395.42,427.59 L396.08,426.60 L396.73,425.77 L397.38,425.06 L398.04,424.45 L398.69,423.94 L399.35,423.51 L400.00,423.14 L400.65,422.83 L401.31,422.56 L401.96,422.34 L402.62,422.14 L403.27,421.98 L403.92,421.84 L404.58,421.73 L405.23,421.63 L405.89,421.54 L406.54,421.47 L407.19,421.41 L407.85,421.36 L408.50,421.32 L409.16,421.28 L409.81,421.25 L410.46,421.22 L411.12,421.20 L411.77,421.18 L412.42,421.16 L413.08,421.15 L413.73,421.14 L414.39,421.13 L415.04,421.12 L415.69,421.11 L416.35,421.10 L417.00,421.10 L417.66,421.09 L418.31,421.09 L418.96,421.09 L419.62,421.09 L420.27,421.08 L420.93,421.08 L421.58,421.08 L422.23,421.08 L422.89,421.08 L423.54,421.08 L424.20,421.07 L424.85,421.07 L425.50,421.07 L426.16,421.07 L426.81,421.07 L427.46,421.07 L428.12,421.07 L428.77,421.07 L429.43,421.07 L430.08,421.07 L430.73,421.07 L431.39,421.07 L432.04,421.07 L432.70,421.07 L433.35,421.07 L434.00,421.07 L434.66,421.07 L435.31,421.07 L435.97,421.07 L436.62,421.07 L437.27,421.07 L437.93,421.07 L438.58,421.07 L439.24,421.07 L439.89,421.07 L440.54,421.07 L441.20,421.07 L441.85,421.07 L442.51,421.07 L443.16,421.07 L443.81,421.07 L444.47,421.07 L445.12,421.07 L445.77,421.07 L446.43,421.07 L447.08,421.07 L447.74,421.07 L448.39,421.07 L449.04,421.07 L449.70,421.07 L450.35,421.07 L451.01,421.07 L451.66,421.07 L452.31,421.07 L452.97,421.07 L453.62,421.07 L454.28,421.07 L454.93,421.07 L455.58,421.07 L456.24,421.07 L456.89,421.07 L457.55,421.07 L458.20,421.07 L458.85,421.07 L459.51,421.07 L460.16,421.07 L460.81,421.07 L461.47,421.07 L462.12,421.07 L462.78,421.07 L463.43,421.07 L464.08,421.07 L464.74,421.07 L465.39,421.07 L466.05,421.07 L466.70,421.07" fill="none" stroke="#1414f0" stroke-width="1.4"/>
<line x1="393.55" y1="424.79" x2="393.55" y2="438.19" stroke="#1414f0" stroke-width="1.0"/>
<line x1="392.15" y1="424.79" x2="394.95" y2="424.79" stroke="#1414f0" stroke-width="1.0"/>
<line x1="392.15" y1="438.19" x2="394.95" y2="438.19" stroke="#1414f0" stroke-width="1.0"/>
<circle cx="393.55" cy="431.49" r="1.20" fill="#1414f0"/>
<line x1="400.20" y1="416.34" x2="400.20" y2="429.74" stroke="#1414f0" stroke-width="1.0"/>
<line x1="398.80" y1="416.34" x2="401.60" y2="416.34" stroke="#1414f0" stroke-width="1.0"/>
<line x1="398.80" y1="429.74" x2="401.60" y2="429.74" stroke="#1414f0" stroke-width="1.0"/>
<circle cx="400.20" cy="423.04" r="1.20" fill="#1414f0"/>
<line x1="406.85" y1="414.74" x2="406.85" y2="428.14" stroke="#1414f0" stroke-width="1.0"/>
<line x1="405.45" y1="414.74" x2="408.25" y2="414.74" stroke="#1414f0" stroke-width="1.0"/>
<line x1="405.45" y1="428.14" x2="408.25" y2="428.14" stroke="#1414f0" stroke-width="1.0"/>
<circle cx="406.85" cy="421.44" r="1.20" fill="#1414f0"/>
<line x1="413.50" y1="414.44" x2="413.50" y2="427.84" stroke="#1414f0" stroke-width="1.0"/>
<line x1="412.10" y1="414.44" x2="414.90" y2="414.44" stroke="#1414f0" stroke-width="1.0"/>
<line x1="412.10" y1="427.84" x2="414.90" y2="427.84" stroke="#1414f0" stroke-width="1.0"/>
<circle cx="413.50" cy="421.14" r="1.20" fill="#1414f0"/>
<line x1="420.15" y1="414.38" x2="420.15" y2="427.78" stroke="#1414f0" stroke-width="1.0"/>
<line x1="418.75" y1="414.38" x2="421.55" y2="414.38" stroke="#1414f0" stroke-width="1.0"/>
<line x1="418.75" y1="427.78" x2="421.55" y2="427.78" stroke="#1414f0" stroke-width="1.0"/>
<circle cx="420.15" cy="421.08" r="1.20" fill="#1414f0"/>
<line x1="426.80" y1="414.37" x2="426.80" y2="427.77" stroke="#1414f0" stroke-width="1.0"/>
<line x1="425.40" y1="414.37" x2="428.20" y2="414.37" stroke="#1414f0" stroke-width="1.0"/>
<line x1="425.40" y1="427.77" x2="428.20" y2="427.77" stroke="#1414f0" stroke-width="1.0"/>
<circle cx="426.80" cy="421.07" r="1.20" fill="#1414f0"/>
<line x1="433.45" y1="414.37" x2="433.45" y2="427.77" stroke="#1414f0" stroke-width="1.0"/>
<line x1="432.05" y1="414.37" x2="434.85" y2="414.37" stroke="#1414f0" stroke-width="1.0"/>
<line x1="432.05" y1="427.77" x2="434.85" y2="427.77" stroke="#1414f0" stroke-width="1.0"/>
<circle cx="433.45" cy="421.07" r="1.20" fill="#1414f0"/>
<line x1="440.10" y1="414.37" x2="440.10" y2="427.77" stroke="#1414f0" stroke-width="1.0"/>
<line x1="438.70" y1="414.37" x2="441.50" y2="414.37" stroke="#1414f0" stroke-width="1.0"/>
<line x1="438.70" y1="427.77" x2="441.50" y2="427.77" stroke="#1414f0" stroke-width="1.0"/>
<circle cx="440.10" cy="421.07" r="1.20" fill="#1414f0"/>
<line x1="446.75" y1="414.37" x2="446.75" y2="427.77" stroke="#1414f0" stroke-width="1.0"/>
<line x1="445.35" y1="414.37" x2="448.15" y2="414.37" stroke="#1414f0" stroke-width="1.0"/>
<line x1="445.35" y1="427.77" x2="448.15" y2="427.77" stroke="#1414f0" stroke-width="1.0"/>
<circle cx="446.75" cy="421.07" r="1.20" fill="#1414f0"/>
<line x1="453.40" y1="414.37" x2="453.40" y2="427.77" stroke="#1414f0" stroke-width="1.0"/>
<line x1="452.00" y1="414.37" x2="454.80" y2="414.37" stroke="#1414f0" stroke-width="1.0"/>
<line x1="452.00" y1="427.77" x2="454.80" y2="427.77" stroke="#1414f0" stroke-width="1.0"/>
<circle cx="453.40" cy="421.07" r="1.20" fill="#1414f0"/>
<line x1="460.05" y1="414.37" x2="460.05" y2="427.77" stroke="#1414f0" stroke-width="1.0"/>
<line x1="458.65" y1="414.37" x2="461.45" y2="414.37" stroke="#1414f0" stroke-width="1.0"/>
<line x1="458.65" y1="427.77" x2="461.45" y2="427.77" stroke="#1414f0" stroke-width="1.0"/>
<circle cx="460.05" cy="421.07" r="1.20" fill="#1414f0"/>
<line x1="466.70" y1="414.37" x2="466.70" y2="427.77" stroke="#1414f0" stroke-width="1.0"/>
<line x1="465.30" y1="414.37" x2="468.10" y2="414.37" stroke="#1414f0" stroke-width="1.0"/>
<line x1="465.30" y1="427.77" x2="468.10" y2="427.77" stroke="#1414f0" stroke-width="1.0"/>
<circle cx="466.70" cy="421.07" r="1.20" fill="#1414f0"/>
<path d="M384.80,393.60 L388.23,460.60" fill="none" stroke="#000" stroke-width="1.4"/>
<circle cx="384.80" cy="393.60" r="1.30" fill="#000"/>
<line x1="384.80" y1="388.60" x2="384.80" y2="461.10" stroke="#000" stroke-width="1.1"/>
<line x1="384.30" y1="460.60" x2="474.10" y2="460.60" stroke="#000" stroke-width="1.1"/>
<line x1="383.20" y1="460.60" x2="384.80" y2="460.60" stroke="#000" stroke-width="0.9"/>
<text x="0" y="0" font-size="9.2" font-weight="normal" text-anchor="end" fill="#000" transform="translate(382.20 463.30) scale(0.9 1)">0.0</text>
<line x1="383.20" y1="447.20" x2="384.80" y2="447.20" stroke="#000" stroke-width="0.9"/>
<text x="0" y="0" font-size="9.2" font-weight="normal" text-anchor="end" fill="#000" transform="translate(382.20 449.90) scale(0.9 1)">0.2</text>
<line x1="383.20" y1="433.80" x2="384.80" y2="433.80" stroke="#000" stroke-width="0.9"/>
<text x="0" y="0" font-size="9.2" font-weight="normal" text-anchor="end" fill="#000" transform="translate(382.20 436.50) scale(0.9 1)">0.4</text>
<line x1="383.20" y1="420.40" x2="384.80" y2="420.40" stroke="#000" stroke-width="0.9"/>
<text x="0" y="0" font-size="9.2" font-weight="normal" text-anchor="end" fill="#000" transform="translate(382.20 423.10) scale(0.9 1)">0.6</text>
<line x1="383.20" y1="407.00" x2="384.80" y2="407.00" stroke="#000" stroke-width="0.9"/>
<text x="0" y="0" font-size="9.2" font-weight="normal" text-anchor="end" fill="#000" transform="translate(382.20 409.70) scale(0.9 1)">0.8</text>
<line x1="383.20" y1="393.60" x2="384.80" y2="393.60" stroke="#000" stroke-width="0.9"/>
<text x="0" y="0" font-size="9.2" font-weight="normal" text-anchor="end" fill="#000" transform="translate(382.20 396.30) scale(0.9 1)">1.0</text>
<line x1="386.90" y1="460.60" x2="386.90" y2="462.20" stroke="#000" stroke-width="0.9"/>
<text x="0" y="0" font-size="9.2" font-weight="normal" text-anchor="middle" fill="#000" transform="translate(386.90 471.20) scale(0.9 1)">0</text>
<line x1="406.85" y1="460.60" x2="406.85" y2="462.20" stroke="#000" stroke-width="0.9"/>
<text x="0" y="0" font-size="9.2" font-weight="normal" text-anchor="middle" fill="#000" transform="translate(406.85 471.20) scale(0.9 1)">15</text>
<line x1="426.80" y1="460.60" x2="426.80" y2="462.20" stroke="#000" stroke-width="0.9"/>
<text x="0" y="0" font-size="9.2" font-weight="normal" text-anchor="middle" fill="#000" transform="translate(426.80 471.20) scale(0.9 1)">30</text>
<line x1="446.75" y1="460.60" x2="446.75" y2="462.20" stroke="#000" stroke-width="0.9"/>
<text x="0" y="0" font-size="9.2" font-weight="normal" text-anchor="middle" fill="#000" transform="translate(446.75 471.20) scale(0.9 1)">45</text>
<line x1="466.70" y1="460.60" x2="466.70" y2="462.20" stroke="#000" stroke-width="0.9"/>
<text x="0" y="0" font-size="9.2" font-weight="normal" text-anchor="middle" fill="#000" transform="translate(466.70 471.20) scale(0.9 1)">60</text>
<path d="M489.44,460.10 L490.09,458.85 L490.75,457.71 L491.40,456.68 L492.06,455.74 L492.72,454.90 L493.37,454.13 L494.03,453.43 L494.69,452.80 L495.34,452.23 L496.00,451.71 L496.66,451.24 L497.31,450.82 L497.97,450.43 L498.62,450.08 L499.28,449.77 L499.94,449.48 L500.59,449.22 L501.25,448.98 L501.91,448.77 L502.56,448.57 L503.22,448.40 L503.88,448.24 L504.53,448.10 L505.19,447.97 L505.84,447.85 L506.50,447.74 L507.16,447.64 L507.81,447.55 L508.47,447.47 L509.13,447.40 L509.78,447.34 L510.44,447.28 L511.10,447.22 L511.75,447.17 L512.41,447.13 L513.06,447.09 L513.72,447.05 L514.38,447.02 L515.03,446.99 L515.69,446.96 L516.35,446.94 L517.00,446.92 L517.66,446.90 L518.32,446.88 L518.97,446.86 L519.63,446.85 L520.28,446.83 L520.94,446.82 L521.60,446.81 L522.25,446.80 L522.91,446.79 L523.57,446.78 L524.22,446.77 L524.88,446.77 L525.54,446.76 L526.19,446.75 L526.85,446.75 L527.50,446.74 L528.16,446.74 L528.82,446.74 L529.47,446.73 L530.13,446.73 L530.79,446.73 L531.44,446.72 L532.10,446.72 L532.76,446.72 L533.41,446.72 L534.07,446.72 L534.72,446.72 L535.38,446.71 L536.04,446.71 L536.69,446.71 L537.35,446.71 L538.01,446.71 L538.66,446.71 L539.32,446.71 L539.98,446.71 L540.63,446.71 L541.29,446.71 L541.95,446.71 L542.60,446.70 L543.26,446.70 L543.91,446.70 L544.57,446.70 L545.23,446.70 L545.88,446.70 L546.54,446.70 L547.20,446.70 L547.85,446.70 L548.51,446.70 L549.17,446.70 L549.82,446.70 L550.48,446.70 L551.13,446.70 L551.79,446.70 L552.45,446.70 L553.10,446.70 L553.76,446.70 L554.42,446.70 L555.07,446.70 L555.73,446.70 L556.39,446.70 L557.04,446.70 L557.70,446.70 L558.35,446.70 L559.01,446.70 L559.67,446.70 L560.32,446.70 L560.98,446.70 L561.64,446.70 L562.29,446.70 L562.95,446.70 L563.61,446.70 L564.26,446.70 L564.92,446.70 L565.57,446.70 L566.23,446.70 L566.89,446.70 L567.54,446.70 L568.20,446.70" fill="none" stroke="#1414f0" stroke-width="1.4"/>
<line x1="494.78" y1="446.02" x2="494.78" y2="459.42" stroke="#1414f0" stroke-width="1.0"/>
<line x1="493.38" y1="446.02" x2="496.18" y2="446.02" stroke="#1414f0" stroke-width="1.0"/>
<line x1="493.38" y1="459.42" x2="496.18" y2="459.42" stroke="#1414f0" stroke-width="1.0"/>
<circle cx="494.78" cy="452.72" r="1.20" fill="#1414f0"/>
<line x1="501.45" y1="442.22" x2="501.45" y2="455.62" stroke="#1414f0" stroke-width="1.0"/>
<line x1="500.05" y1="442.22" x2="502.85" y2="442.22" stroke="#1414f0" stroke-width="1.0"/>
<line x1="500.05" y1="455.62" x2="502.85" y2="455.62" stroke="#1414f0" stroke-width="1.0"/>
<circle cx="501.45" cy="448.92" r="1.20" fill="#1414f0"/>
<line x1="508.12" y1="440.81" x2="508.12" y2="454.21" stroke="#1414f0" stroke-width="1.0"/>
<line x1="506.73" y1="440.81" x2="509.52" y2="440.81" stroke="#1414f0" stroke-width="1.0"/>
<line x1="506.73" y1="454.21" x2="509.52" y2="454.21" stroke="#1414f0" stroke-width="1.0"/>
<circle cx="508.12" cy="447.51" r="1.20" fill="#1414f0"/>
<line x1="514.80" y1="440.30" x2="514.80" y2="453.70" stroke="#1414f0" stroke-width="1.0"/>
<line x1="513.40" y1="440.30" x2="516.20" y2="440.30" stroke="#1414f0" stroke-width="1.0"/>
<line x1="513.40" y1="453.70" x2="516.20" y2="453.70" stroke="#1414f0" stroke-width="1.0"/>
<circle cx="514.80" cy="447.00" r="1.20" fill="#1414f0"/>
<line x1="521.48" y1="440.11" x2="521.48" y2="453.51" stroke="#1414f0" stroke-width="1.0"/>
<line x1="520.08" y1="440.11" x2="522.88" y2="440.11" stroke="#1414f0" stroke-width="1.0"/>
<line x1="520.08" y1="453.51" x2="522.88" y2="453.51" stroke="#1414f0" stroke-width="1.0"/>
<circle cx="521.48" cy="446.81" r="1.20" fill="#1414f0"/>
<line x1="528.15" y1="440.04" x2="528.15" y2="453.44" stroke="#1414f0" stroke-width="1.0"/>
<line x1="526.75" y1="440.04" x2="529.55" y2="440.04" stroke="#1414f0" stroke-width="1.0"/>
<line x1="526.75" y1="453.44" x2="529.55" y2="453.44" stroke="#1414f0" stroke-width="1.0"/>
<circle cx="528.15" cy="446.74" r="1.20" fill="#1414f0"/>
<line x1="534.83" y1="440.01" x2="534.83" y2="453.41" stroke="#1414f0" stroke-width="1.0"/>
<line x1="533.43" y1="440.01" x2="536.23" y2="440.01" stroke="#1414f0" stroke-width="1.0"/>
<line x1="533.43" y1="453.41" x2="536.23" y2="453.41" stroke="#1414f0" stroke-width="1.0"/>
<circle cx="534.83" cy="446.71" r="1.20" fill="#1414f0"/>
<line x1="541.50" y1="440.01" x2="541.50" y2="453.41" stroke="#1414f0" stroke-width="1.0"/>
<line x1="540.10" y1="440.01" x2="542.90" y2="440.01" stroke="#1414f0" stroke-width="1.0"/>
<line x1="540.10" y1="453.41" x2="542.90" y2="453.41" stroke="#1414f0" stroke-width="1.0"/>
<circle cx="541.50" cy="446.71" r="1.20" fill="#1414f0"/>
<line x1="548.18" y1="440.00" x2="548.18" y2="453.40" stroke="#1414f0" stroke-width="1.0"/>
<line x1="546.78" y1="440.00" x2="549.58" y2="440.00" stroke="#1414f0" stroke-width="1.0"/>
<line x1="546.78" y1="453.40" x2="549.58" y2="453.40" stroke="#1414f0" stroke-width="1.0"/>
<circle cx="548.18" cy="446.70" r="1.20" fill="#1414f0"/>
<line x1="554.85" y1="440.00" x2="554.85" y2="453.40" stroke="#1414f0" stroke-width="1.0"/>
<line x1="553.45" y1="440.00" x2="556.25" y2="440.00" stroke="#1414f0" stroke-width="1.0"/>
<line x1="553.45" y1="453.40" x2="556.25" y2="453.40" stroke="#1414f0" stroke-width="1.0"/>
<circle cx="554.85" cy="446.70" r="1.20" fill="#1414f0"/>
<line x1="561.53" y1="440.00" x2="561.53" y2="453.40" stroke="#1414f0" stroke-width="1.0"/>
<line x1="560.13" y1="440.00" x2="562.93" y2="440.00" stroke="#1414f0" stroke-width="1.0"/>
<line x1="560.13" y1="453.40" x2="562.93" y2="453.40" stroke="#1414f0" stroke-width="1.0"/>
<circle cx="561.53" cy="446.70" r="1.20" fill="#1414f0"/>
<line x1="568.20" y1="440.00" x2="568.20" y2="453.40" stroke="#1414f0" stroke-width="1.0"/>
<line x1="566.80" y1="440.00" x2="569.60" y2="440.00" stroke="#1414f0" stroke-width="1.0"/>
<line x1="566.80" y1="453.40" x2="569.60" y2="453.40" stroke="#1414f0" stroke-width="1.0"/>
<circle cx="568.20" cy="446.70" r="1.20" fill="#1414f0"/>
<path d="M489.44,460.10 L490.09,457.23 L490.75,454.70 L491.40,452.45 L492.06,450.47 L492.72,448.72 L493.37,447.17 L494.03,445.80 L494.69,444.58 L495.34,443.51 L496.00,442.56 L496.66,441.72 L497.31,440.98 L497.97,440.33 L498.62,439.75 L499.28,439.23 L499.94,438.78 L500.59,438.38 L501.25,438.02 L501.91,437.71 L502.56,437.43 L503.22,437.19 L503.88,436.97 L504.53,436.78 L505.19,436.61 L505.84,436.46 L506.50,436.32 L507.16,436.21 L507.81,436.10 L508.47,436.01 L509.13,435.93 L509.78,435.86 L510.44,435.80 L511.10,435.74 L511.75,435.69 L512.41,435.65 L513.06,435.61 L513.72,435.57 L514.38,435.54 L515.03,435.52 L515.69,435.49 L516.35,435.47 L517.00,435.45 L517.66,435.44 L518.32,435.42 L518.97,435.41 L519.63,435.40 L520.28,435.39 L520.94,435.38 L521.60,435.37 L522.25,435.36 L522.91,435.36 L523.57,435.35 L524.22,435.35 L524.88,435.34 L525.54,435.34 L526.19,435.34 L526.85,435.33 L527.50,435.33 L528.16,435.33 L528.82,435.33 L529.47,435.32 L530.13,435.32 L530.79,435.32 L531.44,435.32 L532.10,435.32 L532.76,435.32 L533.41,435.32 L534.07,435.32 L534.72,435.32 L535.38,435.31 L536.04,435.31 L536.69,435.31 L537.35,435.31 L538.01,435.31 L538.66,435.31 L539.32,435.31 L539.98,435.31 L540.63,435.31 L541.29,435.31 L541.95,435.31 L542.60,435.31 L543.26,435.31 L543.91,435.31 L544.57,435.31 L545.23,435.31 L545.88,435.31 L546.54,435.31 L547.20,435.31 L547.85,435.31 L548.51,435.31 L549.17,435.31 L549.82,435.31 L550.48,435.31 L551.13,435.31 L551.79,435.31 L552.45,435.31 L553.10,435.31 L553.76,435.31 L554.42,435.31 L555.07,435.31 L555.73,435.31 L556.39,435.31 L557.04,435.31 L557.70,435.31 L558.35,435.31 L559.01,435.31 L559.67,435.31 L560.32,435.31 L560.98,435.31 L561.64,435.31 L562.29,435.31 L562.95,435.31 L563.61,435.31 L564.26,435.31 L564.92,435.31 L565.57,435.31 L566.23,435.31 L566.89,435.31 L567.54,435.31 L568.20,435.31" fill="none" stroke="#000" stroke-width="1.4"/>
<line x1="494.78" y1="438.40" x2="494.78" y2="450.46" stroke="#000" stroke-width="1.0"/>
<line x1="493.38" y1="438.40" x2="496.18" y2="438.40" stroke="#000" stroke-width="1.0"/>
<line x1="493.38" y1="450.46" x2="496.18" y2="450.46" stroke="#000" stroke-width="1.0"/>
<circle cx="494.78" cy="444.43" r="1.20" fill="#000"/>
<line x1="501.45" y1="431.89" x2="501.45" y2="443.95" stroke="#000" stroke-width="1.0"/>
<line x1="500.05" y1="431.89" x2="502.85" y2="431.89" stroke="#000" stroke-width="1.0"/>
<line x1="500.05" y1="443.95" x2="502.85" y2="443.95" stroke="#000" stroke-width="1.0"/>
<circle cx="501.45" cy="437.92" r="1.20" fill="#000"/>
<line x1="508.12" y1="430.03" x2="508.12" y2="442.09" stroke="#000" stroke-width="1.0"/>
<line x1="506.73" y1="430.03" x2="509.52" y2="430.03" stroke="#000" stroke-width="1.0"/>
<line x1="506.73" y1="442.09" x2="509.52" y2="442.09" stroke="#000" stroke-width="1.0"/>
<circle cx="508.12" cy="436.06" r="1.20" fill="#000"/>
<line x1="514.80" y1="429.49" x2="514.80" y2="441.55" stroke="#000" stroke-width="1.0"/>
<line x1="513.40" y1="429.49" x2="516.20" y2="429.49" stroke="#000" stroke-width="1.0"/>
<line x1="513.40" y1="441.55" x2="516.20" y2="441.55" stroke="#000" stroke-width="1.0"/>
<circle cx="514.80" cy="435.52" r="1.20" fill="#000"/>
<line x1="521.48" y1="429.34" x2="521.48" y2="441.40" stroke="#000" stroke-width="1.0"/>
<line x1="520.08" y1="429.34" x2="522.88" y2="429.34" stroke="#000" stroke-width="1.0"/>
<line x1="520.08" y1="441.40" x2="522.88" y2="441.40" stroke="#000" stroke-width="1.0"/>
<circle cx="521.48" cy="435.37" r="1.20" fill="#000"/>
<line x1="528.15" y1="429.30" x2="528.15" y2="441.36" stroke="#000" stroke-width="1.0"/>
<line x1="526.75" y1="429.30" x2="529.55" y2="429.30" stroke="#000" stroke-width="1.0"/>
<line x1="526.75" y1="441.36" x2="529.55" y2="441.36" stroke="#000" stroke-width="1.0"/>
<circle cx="528.15" cy="435.33" r="1.20" fill="#000"/>
<line x1="534.83" y1="429.29" x2="534.83" y2="441.35" stroke="#000" stroke-width="1.0"/>
<line x1="533.43" y1="429.29" x2="536.23" y2="429.29" stroke="#000" stroke-width="1.0"/>
<line x1="533.43" y1="441.35" x2="536.23" y2="441.35" stroke="#000" stroke-width="1.0"/>
<circle cx="534.83" cy="435.32" r="1.20" fill="#000"/>
<line x1="541.50" y1="429.28" x2="541.50" y2="441.34" stroke="#000" stroke-width="1.0"/>
<line x1="540.10" y1="429.28" x2="542.90" y2="429.28" stroke="#000" stroke-width="1.0"/>
<line x1="540.10" y1="441.34" x2="542.90" y2="441.34" stroke="#000" stroke-width="1.0"/>
<circle cx="541.50" cy="435.31" r="1.20" fill="#000"/>
<line x1="548.18" y1="429.28" x2="548.18" y2="441.34" stroke="#000" stroke-width="1.0"/>
<line x1="546.78" y1="429.28" x2="549.58" y2="429.28" stroke="#000" stroke-width="1.0"/>
<line x1="546.78" y1="441.34" x2="549.58" y2="441.34" stroke="#000" stroke-width="1.0"/>
<circle cx="548.18" cy="435.31" r="1.20" fill="#000"/>
<line x1="554.85" y1="429.28" x2="554.85" y2="441.34" stroke="#000" stroke-width="1.0"/>
<line x1="553.45" y1="429.28" x2="556.25" y2="429.28" stroke="#000" stroke-width="1.0"/>
<line x1="553.45" y1="441.34" x2="556.25" y2="441.34" stroke="#000" stroke-width="1.0"/>
<circle cx="554.85" cy="435.31" r="1.20" fill="#000"/>
<line x1="561.53" y1="429.28" x2="561.53" y2="441.34" stroke="#000" stroke-width="1.0"/>
<line x1="560.13" y1="429.28" x2="562.93" y2="429.28" stroke="#000" stroke-width="1.0"/>
<line x1="560.13" y1="441.34" x2="562.93" y2="441.34" stroke="#000" stroke-width="1.0"/>
<circle cx="561.53" cy="435.31" r="1.20" fill="#000"/>
<line x1="568.20" y1="429.28" x2="568.20" y2="441.34" stroke="#000" stroke-width="1.0"/>
<line x1="566.80" y1="429.28" x2="569.60" y2="429.28" stroke="#000" stroke-width="1.0"/>
<line x1="566.80" y1="441.34" x2="569.60" y2="441.34" stroke="#000" stroke-width="1.0"/>
<circle cx="568.20" cy="435.31" r="1.20" fill="#000"/>
<path d="M489.44,460.10 L490.09,456.78 L490.75,453.72 L491.40,450.90 L492.06,448.30 L492.72,445.91 L493.37,443.71 L494.03,441.67 L494.69,439.80 L495.34,438.08 L496.00,436.49 L496.66,435.03 L497.31,433.68 L497.97,432.44 L498.62,431.29 L499.28,430.24 L499.94,429.27 L500.59,428.37 L501.25,427.55 L501.91,426.79 L502.56,426.09 L503.22,425.44 L503.88,424.85 L504.53,424.30 L505.19,423.80 L505.84,423.33 L506.50,422.90 L507.16,422.51 L507.81,422.15 L508.47,421.81 L509.13,421.50 L509.78,421.22 L510.44,420.96 L511.10,420.71 L511.75,420.49 L512.41,420.29 L513.06,420.10 L513.72,419.93 L514.38,419.77 L515.03,419.62 L515.69,419.48 L516.35,419.36 L517.00,419.24 L517.66,419.13 L518.32,419.04 L518.97,418.95 L519.63,418.86 L520.28,418.79 L520.94,418.72 L521.60,418.65 L522.25,418.59 L522.91,418.54 L523.57,418.49 L524.22,418.44 L524.88,418.40 L525.54,418.36 L526.19,418.32 L526.85,418.29 L527.50,418.25 L528.16,418.23 L528.82,418.20 L529.47,418.17 L530.13,418.15 L530.79,418.13 L531.44,418.11 L532.10,418.10 L532.76,418.08 L533.41,418.06 L534.07,418.05 L534.72,418.04 L535.38,418.03 L536.04,418.02 L536.69,418.01 L537.35,418.00 L538.01,417.99 L538.66,417.98 L539.32,417.97 L539.98,417.97 L540.63,417.96 L541.29,417.96 L541.95,417.95 L542.60,417.95 L543.26,417.94 L543.91,417.94 L544.57,417.93 L545.23,417.93 L545.88,417.93 L546.54,417.92 L547.20,417.92 L547.85,417.92 L548.51,417.92 L549.17,417.91 L549.82,417.91 L550.48,417.91 L551.13,417.91 L551.79,417.91 L552.45,417.91 L553.10,417.90 L553.76,417.90 L554.42,417.90 L555.07,417.90 L555.73,417.90 L556.39,417.90 L557.04,417.90 L557.70,417.90 L558.35,417.90 L559.01,417.90 L559.67,417.90 L560.32,417.90 L560.98,417.90 L561.64,417.90 L562.29,417.89 L562.95,417.89 L563.61,417.89 L564.26,417.89 L564.92,417.89 L565.57,417.89 L566.23,417.89 L566.89,417.89 L567.54,417.89 L568.20,417.89" fill="none" stroke="#de1010" stroke-width="1.4"/>
<line x1="494.78" y1="435.54" x2="494.78" y2="443.58" stroke="#de1010" stroke-width="1.0"/>
<line x1="493.38" y1="435.54" x2="496.18" y2="435.54" stroke="#de1010" stroke-width="1.0"/>
<line x1="493.38" y1="443.58" x2="496.18" y2="443.58" stroke="#de1010" stroke-width="1.0"/>
<circle cx="494.78" cy="439.56" r="1.20" fill="#de1010"/>
<line x1="501.45" y1="423.29" x2="501.45" y2="431.33" stroke="#de1010" stroke-width="1.0"/>
<line x1="500.05" y1="423.29" x2="502.85" y2="423.29" stroke="#de1010" stroke-width="1.0"/>
<line x1="500.05" y1="431.33" x2="502.85" y2="431.33" stroke="#de1010" stroke-width="1.0"/>
<circle cx="501.45" cy="427.31" r="1.20" fill="#de1010"/>
<line x1="508.12" y1="417.96" x2="508.12" y2="426.00" stroke="#de1010" stroke-width="1.0"/>
<line x1="506.73" y1="417.96" x2="509.52" y2="417.96" stroke="#de1010" stroke-width="1.0"/>
<line x1="506.73" y1="426.00" x2="509.52" y2="426.00" stroke="#de1010" stroke-width="1.0"/>
<circle cx="508.12" cy="421.98" r="1.20" fill="#de1010"/>
<line x1="514.80" y1="415.65" x2="514.80" y2="423.69" stroke="#de1010" stroke-width="1.0"/>
<line x1="513.40" y1="415.65" x2="516.20" y2="415.65" stroke="#de1010" stroke-width="1.0"/>
<line x1="513.40" y1="423.69" x2="516.20" y2="423.69" stroke="#de1010" stroke-width="1.0"/>
<circle cx="514.80" cy="419.67" r="1.20" fill="#de1010"/>
<line x1="521.48" y1="414.64" x2="521.48" y2="422.68" stroke="#de1010" stroke-width="1.0"/>
<line x1="520.08" y1="414.64" x2="522.88" y2="414.64" stroke="#de1010" stroke-width="1.0"/>
<line x1="520.08" y1="422.68" x2="522.88" y2="422.68" stroke="#de1010" stroke-width="1.0"/>
<circle cx="521.48" cy="418.66" r="1.20" fill="#de1010"/>
<line x1="528.15" y1="414.21" x2="528.15" y2="422.25" stroke="#de1010" stroke-width="1.0"/>
<line x1="526.75" y1="414.21" x2="529.55" y2="414.21" stroke="#de1010" stroke-width="1.0"/>
<line x1="526.75" y1="422.25" x2="529.55" y2="422.25" stroke="#de1010" stroke-width="1.0"/>
<circle cx="528.15" cy="418.23" r="1.20" fill="#de1010"/>
<line x1="534.83" y1="414.02" x2="534.83" y2="422.06" stroke="#de1010" stroke-width="1.0"/>
<line x1="533.43" y1="414.02" x2="536.23" y2="414.02" stroke="#de1010" stroke-width="1.0"/>
<line x1="533.43" y1="422.06" x2="536.23" y2="422.06" stroke="#de1010" stroke-width="1.0"/>
<circle cx="534.83" cy="418.04" r="1.20" fill="#de1010"/>
<line x1="541.50" y1="413.93" x2="541.50" y2="421.97" stroke="#de1010" stroke-width="1.0"/>
<line x1="540.10" y1="413.93" x2="542.90" y2="413.93" stroke="#de1010" stroke-width="1.0"/>
<line x1="540.10" y1="421.97" x2="542.90" y2="421.97" stroke="#de1010" stroke-width="1.0"/>
<circle cx="541.50" cy="417.95" r="1.20" fill="#de1010"/>
<line x1="548.18" y1="413.90" x2="548.18" y2="421.94" stroke="#de1010" stroke-width="1.0"/>
<line x1="546.78" y1="413.90" x2="549.58" y2="413.90" stroke="#de1010" stroke-width="1.0"/>
<line x1="546.78" y1="421.94" x2="549.58" y2="421.94" stroke="#de1010" stroke-width="1.0"/>
<circle cx="548.18" cy="417.92" r="1.20" fill="#de1010"/>
<line x1="554.85" y1="413.88" x2="554.85" y2="421.92" stroke="#de1010" stroke-width="1.0"/>
<line x1="553.45" y1="413.88" x2="556.25" y2="413.88" stroke="#de1010" stroke-width="1.0"/>
<line x1="553.45" y1="421.92" x2="556.25" y2="421.92" stroke="#de1010" stroke-width="1.0"/>
<circle cx="554.85" cy="417.90" r="1.20" fill="#de1010"/>
<line x1="561.53" y1="413.88" x2="561.53" y2="421.92" stroke="#de1010" stroke-width="1.0"/>
<line x1="560.13" y1="413.88" x2="562.93" y2="413.88" stroke="#de1010" stroke-width="1.0"/>
<line x1="560.13" y1="421.92" x2="562.93" y2="421.92" stroke="#de1010" stroke-width="1.0"/>
<circle cx="561.53" cy="417.90" r="1.20" fill="#de1010"/>
<line x1="568.20" y1="413.87" x2="568.20" y2="421.91" stroke="#de1010" stroke-width="1.0"/>
<line x1="566.80" y1="413.87" x2="569.60" y2="413.87" stroke="#de1010" stroke-width="1.0"/>
<line x1="566.80" y1="421.91" x2="569.60" y2="421.91" stroke="#de1010" stroke-width="1.0"/>
<circle cx="568.20" cy="417.89" r="1.20" fill="#de1010"/>
<path d="M486.10,393.10 L489.44,460.10" fill="none" stroke="#000" stroke-width="1.4"/>
<circle cx="486.10" cy="393.10" r="1.30" fill="#000"/>
<line x1="486.10" y1="388.10" x2="486.10" y2="460.60" stroke="#000" stroke-width="1.1"/>
<line x1="485.60" y1="460.10" x2="574.60" y2="460.10" stroke="#000" stroke-width="1.1"/>
<line x1="484.50" y1="460.10" x2="486.10" y2="460.10" stroke="#000" stroke-width="0.9"/>
<line x1="484.50" y1="446.70" x2="486.10" y2="446.70" stroke="#000" stroke-width="0.9"/>
<line x1="484.50" y1="433.30" x2="486.10" y2="433.30" stroke="#000" stroke-width="0.9"/>
<line x1="484.50" y1="419.90" x2="486.10" y2="419.90" stroke="#000" stroke-width="0.9"/>
<line x1="484.50" y1="406.50" x2="486.10" y2="406.50" stroke="#000" stroke-width="0.9"/>
<line x1="484.50" y1="393.10" x2="486.10" y2="393.10" stroke="#000" stroke-width="0.9"/>
<line x1="488.10" y1="460.10" x2="488.10" y2="461.70" stroke="#000" stroke-width="0.9"/>
<text x="0" y="0" font-size="9.2" font-weight="normal" text-anchor="middle" fill="#000" transform="translate(488.10 470.70) scale(0.9 1)">0</text>
<line x1="508.12" y1="460.10" x2="508.12" y2="461.70" stroke="#000" stroke-width="0.9"/>
<text x="0" y="0" font-size="9.2" font-weight="normal" text-anchor="middle" fill="#000" transform="translate(508.12 470.70) scale(0.9 1)">15</text>
<line x1="528.15" y1="460.10" x2="528.15" y2="461.70" stroke="#000" stroke-width="0.9"/>
<text x="0" y="0" font-size="9.2" font-weight="normal" text-anchor="middle" fill="#000" transform="translate(528.15 470.70) scale(0.9 1)">30</text>
<line x1="548.18" y1="460.10" x2="548.18" y2="461.70" stroke="#000" stroke-width="0.9"/>
<text x="0" y="0" font-size="9.2" font-weight="normal" text-anchor="middle" fill="#000" transform="translate(548.18 470.70) scale(0.9 1)">45</text>
<line x1="568.20" y1="460.10" x2="568.20" y2="461.70" stroke="#000" stroke-width="0.9"/>
<text x="0" y="0" font-size="9.2" font-weight="normal" text-anchor="middle" fill="#000" transform="translate(568.20 470.70) scale(0.9 1)">60</text>
<path d="M586.45,459.90 L587.12,459.51 L587.78,459.17 L588.45,458.87 L589.11,458.60 L589.78,458.36 L590.45,458.15 L591.11,457.97 L591.78,457.80 L592.44,457.66 L593.11,457.53 L593.77,457.42 L594.44,457.32 L595.10,457.23 L595.77,457.15 L596.43,457.08 L597.10,457.02 L597.76,456.96 L598.43,456.92 L599.10,456.87 L599.76,456.84 L600.43,456.80 L601.09,456.77 L601.76,456.75 L602.42,456.73 L603.09,456.71 L603.75,456.69 L604.42,456.67 L605.08,456.66 L605.75,456.64 L606.41,456.63 L607.08,456.62 L607.75,456.62 L608.41,456.61 L609.08,456.60 L609.74,456.60 L610.41,456.59 L611.07,456.59 L611.74,456.58 L612.40,456.58 L613.07,456.57 L613.73,456.57 L614.40,456.57 L615.07,456.57 L615.73,456.57 L616.40,456.56 L617.06,456.56 L617.73,456.56 L618.39,456.56 L619.06,456.56 L619.72,456.56 L620.39,456.56 L621.05,456.56 L621.72,456.55 L622.38,456.55 L623.05,456.55 L623.72,456.55 L624.38,456.55 L625.05,456.55 L625.71,456.55 L626.38,456.55 L627.04,456.55 L627.71,456.55 L628.37,456.55 L629.04,456.55 L629.70,456.55 L630.37,456.55 L631.03,456.55 L631.70,456.55 L632.37,456.55 L633.03,456.55 L633.70,456.55 L634.36,456.55 L635.03,456.55 L635.69,456.55 L636.36,456.55 L637.02,456.55 L637.69,456.55 L638.35,456.55 L639.02,456.55 L639.68,456.55 L640.35,456.55 L641.02,456.55 L641.68,456.55 L642.35,456.55 L643.01,456.55 L643.68,456.55 L644.34,456.55 L645.01,456.55 L645.67,456.55 L646.34,456.55 L647.00,456.55 L647.67,456.55 L648.33,456.55 L649.00,456.55 L649.67,456.55 L650.33,456.55 L651.00,456.55 L651.66,456.55 L652.33,456.55 L652.99,456.55 L653.66,456.55 L654.32,456.55 L654.99,456.55 L655.65,456.55 L656.32,456.55 L656.98,456.55 L657.65,456.55 L658.32,456.55 L658.98,456.55 L659.65,456.55 L660.31,456.55 L660.98,456.55 L661.64,456.55 L662.31,456.55 L662.97,456.55 L663.64,456.55 L664.30,456.55 L664.97,456.55 L665.63,456.55 L666.30,456.55" fill="none" stroke="#1414f0" stroke-width="1.4"/>
<line x1="591.87" y1="457.11" x2="591.87" y2="458.45" stroke="#1414f0" stroke-width="1.0"/>
<line x1="590.47" y1="457.11" x2="593.27" y2="457.11" stroke="#1414f0" stroke-width="1.0"/>
<line x1="590.47" y1="458.45" x2="593.27" y2="458.45" stroke="#1414f0" stroke-width="1.0"/>
<circle cx="591.87" cy="457.78" r="1.20" fill="#1414f0"/>
<line x1="598.63" y1="456.23" x2="598.63" y2="457.57" stroke="#1414f0" stroke-width="1.0"/>
<line x1="597.23" y1="456.23" x2="600.03" y2="456.23" stroke="#1414f0" stroke-width="1.0"/>
<line x1="597.23" y1="457.57" x2="600.03" y2="457.57" stroke="#1414f0" stroke-width="1.0"/>
<circle cx="598.63" cy="456.90" r="1.20" fill="#1414f0"/>
<line x1="605.40" y1="455.98" x2="605.40" y2="457.32" stroke="#1414f0" stroke-width="1.0"/>
<line x1="604.00" y1="455.98" x2="606.80" y2="455.98" stroke="#1414f0" stroke-width="1.0"/>
<line x1="604.00" y1="457.32" x2="606.80" y2="457.32" stroke="#1414f0" stroke-width="1.0"/>
<circle cx="605.40" cy="456.65" r="1.20" fill="#1414f0"/>
<line x1="612.17" y1="455.91" x2="612.17" y2="457.25" stroke="#1414f0" stroke-width="1.0"/>
<line x1="610.77" y1="455.91" x2="613.57" y2="455.91" stroke="#1414f0" stroke-width="1.0"/>
<line x1="610.77" y1="457.25" x2="613.57" y2="457.25" stroke="#1414f0" stroke-width="1.0"/>
<circle cx="612.17" cy="456.58" r="1.20" fill="#1414f0"/>
<line x1="618.93" y1="455.89" x2="618.93" y2="457.23" stroke="#1414f0" stroke-width="1.0"/>
<line x1="617.53" y1="455.89" x2="620.33" y2="455.89" stroke="#1414f0" stroke-width="1.0"/>
<line x1="617.53" y1="457.23" x2="620.33" y2="457.23" stroke="#1414f0" stroke-width="1.0"/>
<circle cx="618.93" cy="456.56" r="1.20" fill="#1414f0"/>
<line x1="625.70" y1="455.88" x2="625.70" y2="457.22" stroke="#1414f0" stroke-width="1.0"/>
<line x1="624.30" y1="455.88" x2="627.10" y2="455.88" stroke="#1414f0" stroke-width="1.0"/>
<line x1="624.30" y1="457.22" x2="627.10" y2="457.22" stroke="#1414f0" stroke-width="1.0"/>
<circle cx="625.70" cy="456.55" r="1.20" fill="#1414f0"/>
<line x1="632.47" y1="455.88" x2="632.47" y2="457.22" stroke="#1414f0" stroke-width="1.0"/>
<line x1="631.07" y1="455.88" x2="633.87" y2="455.88" stroke="#1414f0" stroke-width="1.0"/>
<line x1="631.07" y1="457.22" x2="633.87" y2="457.22" stroke="#1414f0" stroke-width="1.0"/>
<circle cx="632.47" cy="456.55" r="1.20" fill="#1414f0"/>
<line x1="639.23" y1="455.88" x2="639.23" y2="457.22" stroke="#1414f0" stroke-width="1.0"/>
<line x1="637.83" y1="455.88" x2="640.63" y2="455.88" stroke="#1414f0" stroke-width="1.0"/>
<line x1="637.83" y1="457.22" x2="640.63" y2="457.22" stroke="#1414f0" stroke-width="1.0"/>
<circle cx="639.23" cy="456.55" r="1.20" fill="#1414f0"/>
<line x1="646.00" y1="455.88" x2="646.00" y2="457.22" stroke="#1414f0" stroke-width="1.0"/>
<line x1="644.60" y1="455.88" x2="647.40" y2="455.88" stroke="#1414f0" stroke-width="1.0"/>
<line x1="644.60" y1="457.22" x2="647.40" y2="457.22" stroke="#1414f0" stroke-width="1.0"/>
<circle cx="646.00" cy="456.55" r="1.20" fill="#1414f0"/>
<line x1="652.77" y1="455.88" x2="652.77" y2="457.22" stroke="#1414f0" stroke-width="1.0"/>
<line x1="651.37" y1="455.88" x2="654.17" y2="455.88" stroke="#1414f0" stroke-width="1.0"/>
<line x1="651.37" y1="457.22" x2="654.17" y2="457.22" stroke="#1414f0" stroke-width="1.0"/>
<circle cx="652.77" cy="456.55" r="1.20" fill="#1414f0"/>
<line x1="659.53" y1="455.88" x2="659.53" y2="457.22" stroke="#1414f0" stroke-width="1.0"/>
<line x1="658.13" y1="455.88" x2="660.93" y2="455.88" stroke="#1414f0" stroke-width="1.0"/>
<line x1="658.13" y1="457.22" x2="660.93" y2="457.22" stroke="#1414f0" stroke-width="1.0"/>
<circle cx="659.53" cy="456.55" r="1.20" fill="#1414f0"/>
<line x1="666.30" y1="455.88" x2="666.30" y2="457.22" stroke="#1414f0" stroke-width="1.0"/>
<line x1="664.90" y1="455.88" x2="667.70" y2="455.88" stroke="#1414f0" stroke-width="1.0"/>
<line x1="664.90" y1="457.22" x2="667.70" y2="457.22" stroke="#1414f0" stroke-width="1.0"/>
<circle cx="666.30" cy="456.55" r="1.20" fill="#1414f0"/>
<path d="M586.45,459.90 L587.12,458.63 L587.78,457.47 L588.45,456.40 L589.11,455.41 L589.78,454.49 L590.45,453.65 L591.11,452.88 L591.78,452.17 L592.44,451.51 L593.11,450.91 L593.77,450.35 L594.44,449.83 L595.10,449.36 L595.77,448.93 L596.43,448.52 L597.10,448.15 L597.76,447.81 L598.43,447.50 L599.10,447.21 L599.76,446.94 L600.43,446.70 L601.09,446.47 L601.76,446.26 L602.42,446.07 L603.09,445.89 L603.75,445.73 L604.42,445.58 L605.08,445.44 L605.75,445.31 L606.41,445.20 L607.08,445.09 L607.75,444.99 L608.41,444.90 L609.08,444.81 L609.74,444.73 L610.41,444.66 L611.07,444.60 L611.74,444.53 L612.40,444.48 L613.07,444.43 L613.73,444.38 L614.40,444.33 L615.07,444.29 L615.73,444.26 L616.40,444.22 L617.06,444.19 L617.73,444.16 L618.39,444.13 L619.06,444.11 L619.72,444.09 L620.39,444.07 L621.05,444.05 L621.72,444.03 L622.38,444.01 L623.05,444.00 L623.72,443.98 L624.38,443.97 L625.05,443.96 L625.71,443.95 L626.38,443.94 L627.04,443.93 L627.71,443.92 L628.37,443.91 L629.04,443.90 L629.70,443.90 L630.37,443.89 L631.03,443.89 L631.70,443.88 L632.37,443.88 L633.03,443.87 L633.70,443.87 L634.36,443.86 L635.03,443.86 L635.69,443.86 L636.36,443.85 L637.02,443.85 L637.69,443.85 L638.35,443.85 L639.02,443.84 L639.68,443.84 L640.35,443.84 L641.02,443.84 L641.68,443.84 L642.35,443.84 L643.01,443.84 L643.68,443.83 L644.34,443.83 L645.01,443.83 L645.67,443.83 L646.34,443.83 L647.00,443.83 L647.67,443.83 L648.33,443.83 L649.00,443.83 L649.67,443.83 L650.33,443.83 L651.00,443.83 L651.66,443.83 L652.33,443.82 L652.99,443.82 L653.66,443.82 L654.32,443.82 L654.99,443.82 L655.65,443.82 L656.32,443.82 L656.98,443.82 L657.65,443.82 L658.32,443.82 L658.98,443.82 L659.65,443.82 L660.31,443.82 L660.98,443.82 L661.64,443.82 L662.31,443.82 L662.97,443.82 L663.64,443.82 L664.30,443.82 L664.97,443.82 L665.63,443.82 L666.30,443.82" fill="none" stroke="#000" stroke-width="1.4"/>
<line x1="591.87" y1="448.73" x2="591.87" y2="455.43" stroke="#000" stroke-width="1.0"/>
<line x1="590.47" y1="448.73" x2="593.27" y2="448.73" stroke="#000" stroke-width="1.0"/>
<line x1="590.47" y1="455.43" x2="593.27" y2="455.43" stroke="#000" stroke-width="1.0"/>
<circle cx="591.87" cy="452.08" r="1.20" fill="#000"/>
<line x1="598.63" y1="444.06" x2="598.63" y2="450.76" stroke="#000" stroke-width="1.0"/>
<line x1="597.23" y1="444.06" x2="600.03" y2="444.06" stroke="#000" stroke-width="1.0"/>
<line x1="597.23" y1="450.76" x2="600.03" y2="450.76" stroke="#000" stroke-width="1.0"/>
<circle cx="598.63" cy="447.41" r="1.20" fill="#000"/>
<line x1="605.40" y1="442.03" x2="605.40" y2="448.73" stroke="#000" stroke-width="1.0"/>
<line x1="604.00" y1="442.03" x2="606.80" y2="442.03" stroke="#000" stroke-width="1.0"/>
<line x1="604.00" y1="448.73" x2="606.80" y2="448.73" stroke="#000" stroke-width="1.0"/>
<circle cx="605.40" cy="445.38" r="1.20" fill="#000"/>
<line x1="612.17" y1="441.15" x2="612.17" y2="447.85" stroke="#000" stroke-width="1.0"/>
<line x1="610.77" y1="441.15" x2="613.57" y2="441.15" stroke="#000" stroke-width="1.0"/>
<line x1="610.77" y1="447.85" x2="613.57" y2="447.85" stroke="#000" stroke-width="1.0"/>
<circle cx="612.17" cy="444.50" r="1.20" fill="#000"/>
<line x1="618.93" y1="440.76" x2="618.93" y2="447.46" stroke="#000" stroke-width="1.0"/>
<line x1="617.53" y1="440.76" x2="620.33" y2="440.76" stroke="#000" stroke-width="1.0"/>
<line x1="617.53" y1="447.46" x2="620.33" y2="447.46" stroke="#000" stroke-width="1.0"/>
<circle cx="618.93" cy="444.11" r="1.20" fill="#000"/>
<line x1="625.70" y1="440.60" x2="625.70" y2="447.30" stroke="#000" stroke-width="1.0"/>
<line x1="624.30" y1="440.60" x2="627.10" y2="440.60" stroke="#000" stroke-width="1.0"/>
<line x1="624.30" y1="447.30" x2="627.10" y2="447.30" stroke="#000" stroke-width="1.0"/>
<circle cx="625.70" cy="443.95" r="1.20" fill="#000"/>
<line x1="632.47" y1="440.53" x2="632.47" y2="447.23" stroke="#000" stroke-width="1.0"/>
<line x1="631.07" y1="440.53" x2="633.87" y2="440.53" stroke="#000" stroke-width="1.0"/>
<line x1="631.07" y1="447.23" x2="633.87" y2="447.23" stroke="#000" stroke-width="1.0"/>
<circle cx="632.47" cy="443.88" r="1.20" fill="#000"/>
<line x1="639.23" y1="440.49" x2="639.23" y2="447.19" stroke="#000" stroke-width="1.0"/>
<line x1="637.83" y1="440.49" x2="640.63" y2="440.49" stroke="#000" stroke-width="1.0"/>
<line x1="637.83" y1="447.19" x2="640.63" y2="447.19" stroke="#000" stroke-width="1.0"/>
<circle cx="639.23" cy="443.84" r="1.20" fill="#000"/>
<line x1="646.00" y1="440.48" x2="646.00" y2="447.18" stroke="#000" stroke-width="1.0"/>
<line x1="644.60" y1="440.48" x2="647.40" y2="440.48" stroke="#000" stroke-width="1.0"/>
<line x1="644.60" y1="447.18" x2="647.40" y2="447.18" stroke="#000" stroke-width="1.0"/>
<circle cx="646.00" cy="443.83" r="1.20" fill="#000"/>
<line x1="652.77" y1="440.47" x2="652.77" y2="447.17" stroke="#000" stroke-width="1.0"/>
<line x1="651.37" y1="440.47" x2="654.17" y2="440.47" stroke="#000" stroke-width="1.0"/>
<line x1="651.37" y1="447.17" x2="654.17" y2="447.17" stroke="#000" stroke-width="1.0"/>
<circle cx="652.77" cy="443.82" r="1.20" fill="#000"/>
<line x1="659.53" y1="440.47" x2="659.53" y2="447.17" stroke="#000" stroke-width="1.0"/>
<line x1="658.13" y1="440.47" x2="660.93" y2="440.47" stroke="#000" stroke-width="1.0"/>
<line x1="658.13" y1="447.17" x2="660.93" y2="447.17" stroke="#000" stroke-width="1.0"/>
<circle cx="659.53" cy="443.82" r="1.20" fill="#000"/>
<line x1="666.30" y1="440.47" x2="666.30" y2="447.17" stroke="#000" stroke-width="1.0"/>
<line x1="664.90" y1="440.47" x2="667.70" y2="440.47" stroke="#000" stroke-width="1.0"/>
<line x1="664.90" y1="447.17" x2="667.70" y2="447.17" stroke="#000" stroke-width="1.0"/>
<circle cx="666.30" cy="443.82" r="1.20" fill="#000"/>
<path d="M586.45,459.90 L587.12,457.66 L587.78,455.56 L588.45,453.58 L589.11,451.72 L589.78,449.97 L590.45,448.33 L591.11,446.78 L591.78,445.33 L592.44,443.96 L593.11,442.67 L593.77,441.46 L594.44,440.33 L595.10,439.26 L595.77,438.25 L596.43,437.30 L597.10,436.41 L597.76,435.58 L598.43,434.79 L599.10,434.05 L599.76,433.36 L600.43,432.70 L601.09,432.09 L601.76,431.51 L602.42,430.96 L603.09,430.45 L603.75,429.97 L604.42,429.52 L605.08,429.09 L605.75,428.69 L606.41,428.32 L607.08,427.96 L607.75,427.63 L608.41,427.32 L609.08,427.02 L609.74,426.75 L610.41,426.49 L611.07,426.24 L611.74,426.01 L612.40,425.79 L613.07,425.59 L613.73,425.40 L614.40,425.22 L615.07,425.05 L615.73,424.89 L616.40,424.74 L617.06,424.60 L617.73,424.47 L618.39,424.34 L619.06,424.23 L619.72,424.12 L620.39,424.01 L621.05,423.92 L621.72,423.82 L622.38,423.74 L623.05,423.66 L623.72,423.58 L624.38,423.51 L625.05,423.44 L625.71,423.38 L626.38,423.32 L627.04,423.26 L627.71,423.21 L628.37,423.16 L629.04,423.11 L629.70,423.07 L630.37,423.03 L631.03,422.99 L631.70,422.95 L632.37,422.92 L633.03,422.89 L633.70,422.86 L634.36,422.83 L635.03,422.80 L635.69,422.78 L636.36,422.75 L637.02,422.73 L637.69,422.71 L638.35,422.69 L639.02,422.67 L639.68,422.65 L640.35,422.64 L641.02,422.62 L641.68,422.61 L642.35,422.59 L643.01,422.58 L643.68,422.57 L644.34,422.56 L645.01,422.55 L645.67,422.54 L646.34,422.53 L647.00,422.52 L647.67,422.51 L648.33,422.50 L649.00,422.50 L649.67,422.49 L650.33,422.48 L651.00,422.48 L651.66,422.47 L652.33,422.47 L652.99,422.46 L653.66,422.46 L654.32,422.45 L654.99,422.45 L655.65,422.44 L656.32,422.44 L656.98,422.44 L657.65,422.43 L658.32,422.43 L658.98,422.43 L659.65,422.42 L660.31,422.42 L660.98,422.42 L661.64,422.42 L662.31,422.41 L662.97,422.41 L663.64,422.41 L664.30,422.41 L664.97,422.41 L665.63,422.41 L666.30,422.40" fill="none" stroke="#de1010" stroke-width="1.4"/>
<line x1="591.87" y1="439.11" x2="591.87" y2="451.17" stroke="#de1010" stroke-width="1.0"/>
<line x1="590.47" y1="439.11" x2="593.27" y2="439.11" stroke="#de1010" stroke-width="1.0"/>
<line x1="590.47" y1="451.17" x2="593.27" y2="451.17" stroke="#de1010" stroke-width="1.0"/>
<circle cx="591.87" cy="445.14" r="1.20" fill="#de1010"/>
<line x1="598.63" y1="428.53" x2="598.63" y2="440.59" stroke="#de1010" stroke-width="1.0"/>
<line x1="597.23" y1="428.53" x2="600.03" y2="428.53" stroke="#de1010" stroke-width="1.0"/>
<line x1="597.23" y1="440.59" x2="600.03" y2="440.59" stroke="#de1010" stroke-width="1.0"/>
<circle cx="598.63" cy="434.56" r="1.20" fill="#de1010"/>
<line x1="605.40" y1="422.87" x2="605.40" y2="434.93" stroke="#de1010" stroke-width="1.0"/>
<line x1="604.00" y1="422.87" x2="606.80" y2="422.87" stroke="#de1010" stroke-width="1.0"/>
<line x1="604.00" y1="434.93" x2="606.80" y2="434.93" stroke="#de1010" stroke-width="1.0"/>
<circle cx="605.40" cy="428.90" r="1.20" fill="#de1010"/>
<line x1="612.17" y1="419.84" x2="612.17" y2="431.90" stroke="#de1010" stroke-width="1.0"/>
<line x1="610.77" y1="419.84" x2="613.57" y2="419.84" stroke="#de1010" stroke-width="1.0"/>
<line x1="610.77" y1="431.90" x2="613.57" y2="431.90" stroke="#de1010" stroke-width="1.0"/>
<circle cx="612.17" cy="425.87" r="1.20" fill="#de1010"/>
<line x1="618.93" y1="418.22" x2="618.93" y2="430.28" stroke="#de1010" stroke-width="1.0"/>
<line x1="617.53" y1="418.22" x2="620.33" y2="418.22" stroke="#de1010" stroke-width="1.0"/>
<line x1="617.53" y1="430.28" x2="620.33" y2="430.28" stroke="#de1010" stroke-width="1.0"/>
<circle cx="618.93" cy="424.25" r="1.20" fill="#de1010"/>
<line x1="625.70" y1="417.35" x2="625.70" y2="429.41" stroke="#de1010" stroke-width="1.0"/>
<line x1="624.30" y1="417.35" x2="627.10" y2="417.35" stroke="#de1010" stroke-width="1.0"/>
<line x1="624.30" y1="429.41" x2="627.10" y2="429.41" stroke="#de1010" stroke-width="1.0"/>
<circle cx="625.70" cy="423.38" r="1.20" fill="#de1010"/>
<line x1="632.47" y1="416.89" x2="632.47" y2="428.95" stroke="#de1010" stroke-width="1.0"/>
<line x1="631.07" y1="416.89" x2="633.87" y2="416.89" stroke="#de1010" stroke-width="1.0"/>
<line x1="631.07" y1="428.95" x2="633.87" y2="428.95" stroke="#de1010" stroke-width="1.0"/>
<circle cx="632.47" cy="422.92" r="1.20" fill="#de1010"/>
<line x1="639.23" y1="416.64" x2="639.23" y2="428.70" stroke="#de1010" stroke-width="1.0"/>
<line x1="637.83" y1="416.64" x2="640.63" y2="416.64" stroke="#de1010" stroke-width="1.0"/>
<line x1="637.83" y1="428.70" x2="640.63" y2="428.70" stroke="#de1010" stroke-width="1.0"/>
<circle cx="639.23" cy="422.67" r="1.20" fill="#de1010"/>
<line x1="646.00" y1="416.50" x2="646.00" y2="428.56" stroke="#de1010" stroke-width="1.0"/>
<line x1="644.60" y1="416.50" x2="647.40" y2="416.50" stroke="#de1010" stroke-width="1.0"/>
<line x1="644.60" y1="428.56" x2="647.40" y2="428.56" stroke="#de1010" stroke-width="1.0"/>
<circle cx="646.00" cy="422.53" r="1.20" fill="#de1010"/>
<line x1="652.77" y1="416.43" x2="652.77" y2="428.49" stroke="#de1010" stroke-width="1.0"/>
<line x1="651.37" y1="416.43" x2="654.17" y2="416.43" stroke="#de1010" stroke-width="1.0"/>
<line x1="651.37" y1="428.49" x2="654.17" y2="428.49" stroke="#de1010" stroke-width="1.0"/>
<circle cx="652.77" cy="422.46" r="1.20" fill="#de1010"/>
<line x1="659.53" y1="416.39" x2="659.53" y2="428.45" stroke="#de1010" stroke-width="1.0"/>
<line x1="658.13" y1="416.39" x2="660.93" y2="416.39" stroke="#de1010" stroke-width="1.0"/>
<line x1="658.13" y1="428.45" x2="660.93" y2="428.45" stroke="#de1010" stroke-width="1.0"/>
<circle cx="659.53" cy="422.42" r="1.20" fill="#de1010"/>
<line x1="666.30" y1="416.37" x2="666.30" y2="428.43" stroke="#de1010" stroke-width="1.0"/>
<line x1="664.90" y1="416.37" x2="667.70" y2="416.37" stroke="#de1010" stroke-width="1.0"/>
<line x1="664.90" y1="428.43" x2="667.70" y2="428.43" stroke="#de1010" stroke-width="1.0"/>
<circle cx="666.30" cy="422.40" r="1.20" fill="#de1010"/>
<path d="M583.70,392.90 L586.45,459.90" fill="none" stroke="#000" stroke-width="1.4"/>
<circle cx="583.70" cy="392.90" r="1.30" fill="#000"/>
<line x1="583.70" y1="387.90" x2="583.70" y2="460.40" stroke="#000" stroke-width="1.1"/>
<line x1="583.20" y1="459.90" x2="673.70" y2="459.90" stroke="#000" stroke-width="1.1"/>
<line x1="582.10" y1="459.90" x2="583.70" y2="459.90" stroke="#000" stroke-width="0.9"/>
<line x1="582.10" y1="446.50" x2="583.70" y2="446.50" stroke="#000" stroke-width="0.9"/>
<line x1="582.10" y1="433.10" x2="583.70" y2="433.10" stroke="#000" stroke-width="0.9"/>
<line x1="582.10" y1="419.70" x2="583.70" y2="419.70" stroke="#000" stroke-width="0.9"/>
<line x1="582.10" y1="406.30" x2="583.70" y2="406.30" stroke="#000" stroke-width="0.9"/>
<line x1="582.10" y1="392.90" x2="583.70" y2="392.90" stroke="#000" stroke-width="0.9"/>
<line x1="585.10" y1="459.90" x2="585.10" y2="461.50" stroke="#000" stroke-width="0.9"/>
<text x="0" y="0" font-size="9.2" font-weight="normal" text-anchor="middle" fill="#000" transform="translate(585.10 470.50) scale(0.9 1)">0</text>
<line x1="605.40" y1="459.90" x2="605.40" y2="461.50" stroke="#000" stroke-width="0.9"/>
<text x="0" y="0" font-size="9.2" font-weight="normal" text-anchor="middle" fill="#000" transform="translate(605.40 470.50) scale(0.9 1)">15</text>
<line x1="625.70" y1="459.90" x2="625.70" y2="461.50" stroke="#000" stroke-width="0.9"/>
<text x="0" y="0" font-size="9.2" font-weight="normal" text-anchor="middle" fill="#000" transform="translate(625.70 470.50) scale(0.9 1)">30</text>
<line x1="646.00" y1="459.90" x2="646.00" y2="461.50" stroke="#000" stroke-width="0.9"/>
<text x="0" y="0" font-size="9.2" font-weight="normal" text-anchor="middle" fill="#000" transform="translate(646.00 470.50) scale(0.9 1)">45</text>
<line x1="666.30" y1="459.90" x2="666.30" y2="461.50" stroke="#000" stroke-width="0.9"/>
<text x="0" y="0" font-size="9.2" font-weight="normal" text-anchor="middle" fill="#000" transform="translate(666.30 470.50) scale(0.9 1)">60</text>
<text x="423.00" y="479.60" font-size="9.2" font-weight="bold" text-anchor="middle" fill="#000">Time after bleaching (s)</text>
<text x="528.80" y="479.60" font-size="9.2" font-weight="bold" text-anchor="middle" fill="#000">Time after bleaching (s)</text>
<text x="632.40" y="479.60" font-size="9.2" font-weight="bold" text-anchor="middle" fill="#000">Time after bleaching (s)</text>
<text x="365.80" y="430.00" font-size="9.0" font-weight="bold" text-anchor="middle" fill="#000" transform="rotate(-90 365.8 430.0)">Normalized Intensity</text>
<line x1="587.70" y1="392.70" x2="593.80" y2="392.70" stroke="#de1010" stroke-width="1.3"/>
<text x="594.0" y="395.9" font-size="9" font-weight="bold">Erluc1<tspan font-size="5.3">+Gly</tspan></text>
<line x1="639.50" y1="392.70" x2="645.50" y2="392.70" stroke="#000" stroke-width="1.3"/>
<text x="645.50" y="395.90" font-size="9" font-weight="bold" text-anchor="start" fill="#000">Erluc1</text>
<line x1="587.70" y1="404.70" x2="593.80" y2="404.70" stroke="#1414f0" stroke-width="1.3"/>
<text x="594.0" y="407.9" font-size="9" font-weight="bold">Erluc1<tspan font-size="5.3">+Trp</tspan></text>
</svg>
</body></html>
